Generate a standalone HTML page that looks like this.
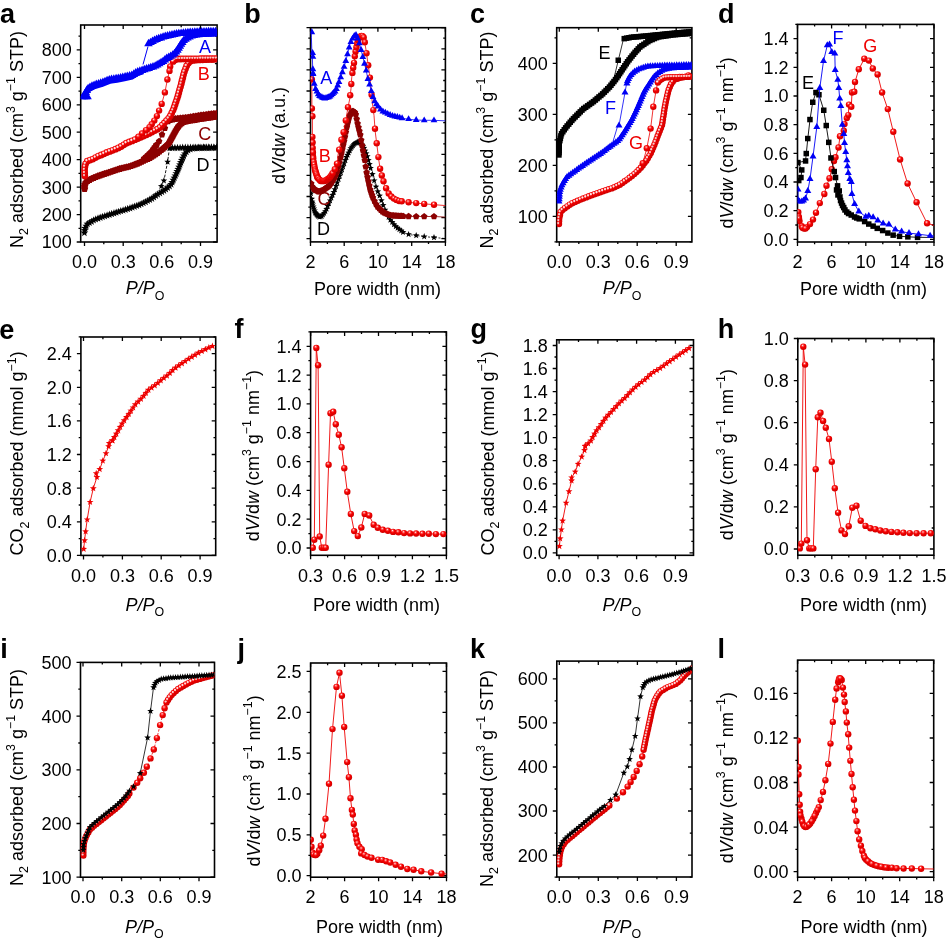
<!DOCTYPE html>
<html><head><meta charset="utf-8"><title>Figure</title>
<style>html,body{margin:0;padding:0;background:#fff;}svg{display:block;will-change:transform;}</style>
</head><body>
<svg width="946" height="942" viewBox="0 0 946 942" font-family="Liberation Sans, sans-serif" font-size="18">
<defs>
<radialGradient id="sg" cx="0.42" cy="0.36" r="0.62" fx="0.4" fy="0.3">
<stop offset="0" stop-color="#fff"/>
<stop offset="0.2" stop-color="#ff6060"/>
<stop offset="0.5" stop-color="#f40000"/>
<stop offset="1" stop-color="#d00000"/>
</radialGradient>
<clipPath id="ca"><rect x="80.7" y="25.0" width="136.4" height="217.0"/></clipPath><clipPath id="cb"><rect x="310.5" y="27.7" width="134.9" height="214.2"/></clipPath><clipPath id="cc"><rect x="556.7" y="27.7" width="135.2" height="214.2"/></clipPath><clipPath id="cd"><rect x="797.5" y="24.4" width="136.5" height="217.6"/></clipPath><clipPath id="ce"><rect x="80.9" y="337.0" width="134.8" height="218.4"/></clipPath><clipPath id="cf"><rect x="310.6" y="331.9" width="135.8" height="223.4"/></clipPath><clipPath id="cg"><rect x="556.7" y="339.8" width="136.8" height="215.5"/></clipPath><clipPath id="ch"><rect x="797.8" y="338.5" width="136.1" height="216.7"/></clipPath><clipPath id="ci"><rect x="80.5" y="662.4" width="134.0" height="214.8"/></clipPath><clipPath id="cj"><rect x="310.6" y="663.0" width="135.9" height="214.2"/></clipPath><clipPath id="ck"><rect x="556.8" y="661.1" width="135.2" height="215.9"/></clipPath><clipPath id="cl"><rect x="797.6" y="660.1" width="136.1" height="217.1"/></clipPath>
</defs>
<rect width="946" height="942" fill="#fff"/>
<path d="M84.5 242.0v4.0M84.5 25.0v4.0M123.2 242.0v4.0M123.2 25.0v4.0M161.8 242.0v4.0M161.8 25.0v4.0M200.5 242.0v4.0M200.5 25.0v4.0M103.8 242.0v2.2M103.8 25.0v2.2M142.5 242.0v2.2M142.5 25.0v2.2M181.2 242.0v2.2M181.2 25.0v2.2M80.7 242.0h-4.0M217.1 242.0h-4.0M80.7 214.6h-4.0M217.1 214.6h-4.0M80.7 187.1h-4.0M217.1 187.1h-4.0M80.7 159.7h-4.0M217.1 159.7h-4.0M80.7 132.2h-4.0M217.1 132.2h-4.0M80.7 104.8h-4.0M217.1 104.8h-4.0M80.7 77.3h-4.0M217.1 77.3h-4.0M80.7 49.9h-4.0M217.1 49.9h-4.0M80.7 228.3h-2.2M217.1 228.3h-2.2M80.7 200.8h-2.2M217.1 200.8h-2.2M80.7 173.4h-2.2M217.1 173.4h-2.2M80.7 145.9h-2.2M217.1 145.9h-2.2M80.7 118.5h-2.2M217.1 118.5h-2.2M80.7 91.1h-2.2M217.1 91.1h-2.2M80.7 63.6h-2.2M217.1 63.6h-2.2M80.7 36.2h-2.2M217.1 36.2h-2.2" stroke="#000" stroke-width="1.3" fill="none"/><rect x="80.7" y="25.0" width="136.4" height="217.0" fill="none" stroke="#000" stroke-width="1.6"/><text x="84.5" y="267.6" text-anchor="middle">0.0</text><text x="123.2" y="267.6" text-anchor="middle">0.3</text><text x="161.8" y="267.6" text-anchor="middle">0.6</text><text x="200.5" y="267.6" text-anchor="middle">0.9</text><text x="71.7" y="248.4" text-anchor="end">100</text><text x="71.7" y="221.0" text-anchor="end">200</text><text x="71.7" y="193.5" text-anchor="end">300</text><text x="71.7" y="166.1" text-anchor="end">400</text><text x="71.7" y="138.6" text-anchor="end">500</text><text x="71.7" y="111.2" text-anchor="end">600</text><text x="71.7" y="83.7" text-anchor="end">700</text><text x="71.7" y="56.3" text-anchor="end">800</text><text transform="translate(22.9,139.5) rotate(-90)" text-anchor="middle" font-size="18">N<tspan dy="5.1" font-size="12.4">2</tspan><tspan dy="-5.1"> adsorbed (cm<tspan dy="-7.6" font-size="12.4">3</tspan><tspan dy="7.6"> g<tspan dy="-7.6" font-size="12.4">−1</tspan><tspan dy="7.6"> STP)</tspan></tspan></tspan></text><text x="125.8" y="294.1" text-anchor="start" font-size="18"><tspan font-style="italic">P/P</tspan><tspan dy="5.5" font-size="12.4">O</tspan></text><text x="0.0" y="22.8" font-weight="bold" font-size="27">a</text><g clip-path="url(#ca)"><polygon points="84.4,228.8 85.4,231.5 88.3,231.6 86.0,233.4 86.8,236.2 84.4,234.6 82.0,236.2 82.8,233.4 80.5,231.6 83.4,231.5" fill="#000"/><polygon points="84.7,226.4 85.7,229.1 88.6,229.3 86.3,231.0 87.1,233.8 84.7,232.2 82.3,233.8 83.1,231.0 80.8,229.3 83.7,229.1" fill="#000"/><polygon points="85.0,224.0 86.0,226.7 88.9,226.9 86.6,228.7 87.4,231.5 85.0,229.9 82.6,231.5 83.3,228.7 81.1,226.9 84.0,226.7" fill="#000"/><polygon points="86.2,222.0 87.2,224.7 90.1,224.8 87.8,226.6 88.6,229.4 86.2,227.8 83.8,229.4 84.5,226.6 82.3,224.8 85.2,224.7" fill="#000"/><polygon points="87.4,219.9 88.4,222.6 91.3,222.7 89.0,224.5 89.8,227.3 87.4,225.7 85.0,227.3 85.8,224.5 83.5,222.7 86.4,222.6" fill="#000"/><polygon points="89.5,218.7 90.5,221.4 93.4,221.5 91.1,223.3 91.9,226.1 89.5,224.5 87.1,226.1 87.8,223.3 85.6,221.5 88.4,221.4" fill="#000"/><polygon points="91.5,217.4 92.5,220.2 95.4,220.3 93.2,222.1 93.9,224.9 91.5,223.3 89.1,224.9 89.9,222.1 87.6,220.3 90.5,220.2" fill="#000"/><polygon points="93.6,216.2 94.6,218.9 97.5,219.1 95.2,220.9 96.0,223.6 93.6,222.0 91.2,223.6 91.9,220.9 89.7,219.1 92.6,218.9" fill="#000"/><polygon points="95.7,215.2 96.7,217.9 99.6,218.0 97.4,219.8 98.1,222.6 95.7,221.0 93.3,222.6 94.1,219.8 91.8,218.0 94.7,217.9" fill="#000"/><polygon points="98.0,214.3 99.0,217.0 101.9,217.2 99.6,219.0 100.4,221.8 98.0,220.2 95.6,221.8 96.3,219.0 94.1,217.2 97.0,217.0" fill="#000"/><polygon points="100.2,213.5 101.3,216.2 104.1,216.3 101.9,218.1 102.6,220.9 100.2,219.3 97.8,220.9 98.6,218.1 96.3,216.3 99.2,216.2" fill="#000"/><polygon points="102.5,212.7 103.5,215.4 106.4,215.6 104.1,217.4 104.9,220.2 102.5,218.6 100.1,220.2 100.9,217.4 98.6,215.6 101.5,215.4" fill="#000"/><polygon points="104.8,212.0 105.8,214.7 108.7,214.8 106.4,216.6 107.2,219.4 104.8,217.8 102.4,219.4 103.2,216.6 100.9,214.8 103.8,214.7" fill="#000"/><polygon points="107.1,211.2 108.1,213.9 111.0,214.1 108.7,215.9 109.5,218.7 107.1,217.1 104.7,218.7 105.4,215.9 103.2,214.1 106.1,213.9" fill="#000"/><polygon points="109.4,210.5 110.4,213.2 113.3,213.4 111.0,215.2 111.8,218.0 109.4,216.4 107.0,218.0 107.7,215.2 105.5,213.4 108.4,213.2" fill="#000"/><polygon points="111.7,209.8 112.7,212.6 115.6,212.7 113.3,214.5 114.1,217.3 111.7,215.7 109.3,217.3 110.0,214.5 107.8,212.7 110.6,212.6" fill="#000"/><polygon points="114.0,209.1 115.0,211.9 117.9,212.0 115.6,213.8 116.4,216.6 114.0,215.0 111.5,216.6 112.3,213.8 110.1,212.0 112.9,211.9" fill="#000"/><polygon points="116.2,208.4 117.3,211.1 120.1,211.2 117.9,213.0 118.6,215.8 116.2,214.2 113.8,215.8 114.6,213.0 112.3,211.2 115.2,211.1" fill="#000"/><polygon points="118.5,207.7 119.5,210.4 122.4,210.5 120.2,212.3 120.9,215.1 118.5,213.5 116.1,215.1 116.9,212.3 114.6,210.5 117.5,210.4" fill="#000"/><polygon points="120.8,206.9 121.8,209.6 124.7,209.8 122.4,211.6 123.2,214.3 120.8,212.7 118.4,214.3 119.2,211.6 116.9,209.8 119.8,209.6" fill="#000"/><polygon points="123.1,206.3 124.1,209.0 127.0,209.1 124.7,210.9 125.5,213.7 123.1,212.1 120.7,213.7 121.5,210.9 119.2,209.1 122.1,209.0" fill="#000"/><polygon points="125.4,205.6 126.4,208.3 129.3,208.4 127.1,210.2 127.8,213.0 125.4,211.4 123.0,213.0 123.8,210.2 121.5,208.4 124.4,208.3" fill="#000"/><polygon points="127.7,204.8 128.7,207.6 131.6,207.7 129.3,209.5 130.1,212.3 127.7,210.7 125.3,212.3 126.1,209.5 123.8,207.7 126.7,207.6" fill="#000"/><polygon points="130.0,204.1 131.0,206.8 133.9,206.9 131.6,208.7 132.4,211.5 130.0,209.9 127.6,211.5 128.3,208.7 126.1,206.9 129.0,206.8" fill="#000"/><polygon points="132.2,203.3 133.2,206.0 136.1,206.1 133.9,207.9 134.6,210.7 132.2,209.1 129.8,210.7 130.6,207.9 128.3,206.1 131.2,206.0" fill="#000"/><polygon points="134.5,202.5 135.5,205.2 138.4,205.3 136.1,207.1 136.9,209.9 134.5,208.3 132.1,209.9 132.9,207.1 130.6,205.3 133.5,205.2" fill="#000"/><polygon points="136.8,201.7 137.8,204.4 140.7,204.5 138.4,206.3 139.2,209.1 136.8,207.5 134.4,209.1 135.1,206.3 132.9,204.5 135.8,204.4" fill="#000"/><polygon points="139.0,200.9 140.0,203.6 142.9,203.8 140.7,205.6 141.4,208.3 139.0,206.7 136.6,208.3 137.4,205.6 135.1,203.8 138.0,203.6" fill="#000"/><polygon points="141.2,199.9 142.2,202.6 145.1,202.7 142.9,204.5 143.6,207.3 141.2,205.7 138.8,207.3 139.6,204.5 137.3,202.7 140.2,202.6" fill="#000"/><polygon points="143.4,198.9 144.4,201.6 147.3,201.7 145.0,203.5 145.8,206.3 143.4,204.7 141.0,206.3 141.7,203.5 139.5,201.7 142.4,201.6" fill="#000"/><polygon points="145.6,197.9 146.6,200.6 149.5,200.7 147.2,202.5 148.0,205.3 145.6,203.7 143.1,205.3 143.9,202.5 141.7,200.7 144.5,200.6" fill="#000"/><polygon points="147.7,196.7 148.7,199.4 151.6,199.6 149.3,201.4 150.1,204.1 147.7,202.6 145.3,204.1 146.0,201.4 143.8,199.6 146.7,199.4" fill="#000"/><polygon points="149.8,195.6 150.8,198.3 153.7,198.4 151.4,200.2 152.2,203.0 149.8,201.4 147.4,203.0 148.1,200.2 145.9,198.4 148.8,198.3" fill="#000"/><polygon points="151.9,194.4 152.9,197.1 155.8,197.3 153.5,199.1 154.3,201.9 151.9,200.3 149.5,201.9 150.2,199.1 148.0,197.3 150.9,197.1" fill="#000"/><polygon points="153.8,193.0 154.8,195.7 157.7,195.9 155.5,197.7 156.2,200.5 153.8,198.9 151.4,200.5 152.2,197.7 149.9,195.9 152.8,195.7" fill="#000"/><polygon points="155.8,191.6 156.8,194.3 159.7,194.5 157.4,196.3 158.2,199.1 155.8,197.5 153.4,199.1 154.1,196.3 151.9,194.5 154.8,194.3" fill="#000"/><polygon points="157.7,190.2 158.7,192.9 161.6,193.1 159.4,194.9 160.1,197.7 157.7,196.1 155.3,197.7 156.1,194.9 153.8,193.1 156.7,192.9" fill="#000"/><polygon points="159.8,189.0 160.8,191.7 163.7,191.8 161.4,193.6 162.2,196.4 159.8,194.8 157.4,196.4 158.1,193.6 155.9,191.8 158.8,191.7" fill="#000"/><polygon points="161.8,187.8 162.9,190.5 165.7,190.6 163.5,192.4 164.3,195.2 161.8,193.6 159.4,195.2 160.2,192.4 157.9,190.6 160.8,190.5" fill="#000"/><polygon points="163.9,186.4 164.9,189.2 167.8,189.3 165.5,191.1 166.3,193.9 163.9,192.3 161.4,193.9 162.2,191.1 160.0,189.3 162.8,189.2" fill="#000"/><polygon points="165.8,185.1 166.8,187.8 169.7,187.9 167.4,189.7 168.2,192.5 165.8,190.9 163.4,192.5 164.2,189.7 161.9,187.9 164.8,187.8" fill="#000"/><polygon points="167.7,183.6 168.7,186.3 171.6,186.4 169.3,188.2 170.1,191.0 167.7,189.4 165.3,191.0 166.1,188.2 163.8,186.4 166.7,186.3" fill="#000"/><polygon points="169.5,182.0 170.5,184.7 173.4,184.8 171.1,186.6 171.9,189.4 169.5,187.8 167.1,189.4 167.8,186.6 165.6,184.8 168.5,184.7" fill="#000"/><polygon points="171.2,180.3 172.2,183.0 175.1,183.1 172.8,184.9 173.6,187.7 171.2,186.1 168.8,187.7 169.6,184.9 167.3,183.1 170.2,183.0" fill="#000"/><polygon points="172.2,178.2 173.2,180.9 176.1,181.0 173.9,182.8 174.6,185.6 172.2,184.0 169.8,185.6 170.6,182.8 168.3,181.0 171.2,180.9" fill="#000"/><polygon points="173.3,176.0 174.3,178.7 177.2,178.8 174.9,180.6 175.7,183.4 173.3,181.8 170.9,183.4 171.6,180.6 169.4,178.8 172.3,178.7" fill="#000"/><polygon points="174.3,173.8 175.3,176.5 178.2,176.7 176.0,178.5 176.7,181.2 174.3,179.7 171.9,181.2 172.7,178.5 170.4,176.7 173.3,176.5" fill="#000"/><polygon points="175.3,171.6 176.3,174.4 179.2,174.5 177.0,176.3 177.7,179.1 175.3,177.5 172.9,179.1 173.7,176.3 171.4,174.5 174.3,174.4" fill="#000"/><polygon points="176.3,169.5 177.3,172.2 180.2,172.3 177.9,174.1 178.7,176.9 176.3,175.3 173.9,176.9 174.7,174.1 172.4,172.3 175.3,172.2" fill="#000"/><polygon points="177.3,167.3 178.3,170.0 181.2,170.1 178.9,171.9 179.7,174.7 177.3,173.1 174.9,174.7 175.6,171.9 173.4,170.1 176.3,170.0" fill="#000"/><polygon points="178.2,165.0 179.2,167.8 182.1,167.9 179.8,169.7 180.6,172.5 178.2,170.9 175.8,172.5 176.6,169.7 174.3,167.9 177.2,167.8" fill="#000"/><polygon points="179.1,162.8 180.1,165.5 183.0,165.7 180.7,167.5 181.5,170.2 179.1,168.7 176.7,170.2 177.5,167.5 175.2,165.7 178.1,165.5" fill="#000"/><polygon points="180.0,160.6 181.0,163.3 183.9,163.4 181.6,165.2 182.4,168.0 180.0,166.4 177.6,168.0 178.4,165.2 176.1,163.4 179.0,163.3" fill="#000"/><polygon points="180.9,158.4 181.9,161.1 184.8,161.2 182.5,163.0 183.3,165.8 180.9,164.2 178.5,165.8 179.2,163.0 177.0,161.2 179.9,161.1" fill="#000"/><polygon points="181.8,156.1 182.8,158.8 185.7,159.0 183.4,160.8 184.2,163.6 181.8,162.0 179.3,163.6 180.1,160.8 177.9,159.0 180.7,158.8" fill="#000"/><polygon points="182.7,153.9 183.7,156.7 186.6,156.8 184.4,158.6 185.1,161.4 182.7,159.8 180.3,161.4 181.1,158.6 178.8,156.8 181.7,156.7" fill="#000"/><polygon points="183.8,151.8 184.8,154.5 187.7,154.6 185.5,156.4 186.2,159.2 183.8,157.6 181.4,159.2 182.2,156.4 179.9,154.6 182.8,154.5" fill="#000"/><polygon points="184.9,149.7 185.9,152.4 188.8,152.5 186.5,154.3 187.3,157.1 184.9,155.5 182.5,157.1 183.3,154.3 181.0,152.5 183.9,152.4" fill="#000"/><polygon points="186.4,147.8 187.4,150.5 190.3,150.6 188.0,152.4 188.8,155.2 186.4,153.6 184.0,155.2 184.7,152.4 182.5,150.6 185.3,150.5" fill="#000"/><polygon points="187.9,146.0 189.0,148.7 191.8,148.8 189.6,150.6 190.4,153.4 187.9,151.8 185.5,153.4 186.3,150.6 184.0,148.8 186.9,148.7" fill="#000"/><polygon points="190.2,145.1 191.2,147.8 194.1,147.9 191.8,149.7 192.6,152.5 190.2,150.9 187.8,152.5 188.5,149.7 186.3,147.9 189.2,147.8" fill="#000"/><polygon points="192.4,144.4 193.5,147.1 196.3,147.2 194.1,149.0 194.8,151.8 192.4,150.2 190.0,151.8 190.8,149.0 188.5,147.2 191.4,147.1" fill="#000"/><polygon points="194.8,144.2 195.8,146.9 198.7,147.1 196.5,148.9 197.2,151.6 194.8,150.0 192.4,151.6 193.2,148.9 190.9,147.1 193.8,146.9" fill="#000"/><polygon points="197.2,144.1 198.2,146.8 201.1,146.9 198.9,148.7 199.6,151.5 197.2,149.9 194.8,151.5 195.6,148.7 193.3,146.9 196.2,146.8" fill="#000"/><polygon points="199.6,143.9 200.6,146.6 203.5,146.8 201.3,148.6 202.0,151.3 199.6,149.7 197.2,151.3 198.0,148.6 195.7,146.8 198.6,146.6" fill="#000"/><polygon points="202.0,143.9 203.0,146.6 205.9,146.7 203.7,148.5 204.4,151.3 202.0,149.7 199.6,151.3 200.4,148.5 198.1,146.7 201.0,146.6" fill="#000"/><polygon points="204.4,143.8 205.4,146.6 208.3,146.7 206.1,148.5 206.8,151.3 204.4,149.7 202.0,151.3 202.8,148.5 200.5,146.7 203.4,146.6" fill="#000"/><polygon points="206.8,143.8 207.8,146.5 210.7,146.7 208.5,148.4 209.2,151.2 206.8,149.6 204.4,151.2 205.2,148.4 202.9,146.7 205.8,146.5" fill="#000"/><polygon points="209.2,143.8 210.2,146.5 213.1,146.6 210.9,148.4 211.6,151.2 209.2,149.6 206.8,151.2 207.6,148.4 205.3,146.6 208.2,146.5" fill="#000"/><polygon points="211.6,143.8 212.6,146.5 215.5,146.6 213.3,148.4 214.0,151.2 211.6,149.6 209.2,151.2 210.0,148.4 207.7,146.6 210.6,146.5" fill="#000"/><polygon points="214.0,143.7 215.0,146.4 217.9,146.6 215.7,148.4 216.4,151.1 214.0,149.6 211.6,151.1 212.4,148.4 210.1,146.6 213.0,146.4" fill="#000"/><polygon points="216.4,143.7 217.4,146.4 220.3,146.5 218.1,148.3 218.8,151.1 216.4,149.5 214.0,151.1 214.8,148.3 212.5,146.5 215.4,146.4" fill="#000"/><polygon points="216.5,143.2 217.5,145.9 220.4,146.0 218.1,147.8 218.9,150.6 216.5,149.0 214.1,150.6 214.9,147.8 212.6,146.0 215.5,145.9" fill="#000"/><polygon points="213.9,143.2 214.9,145.9 217.8,146.1 215.5,147.9 216.3,150.6 213.9,149.1 211.5,150.6 212.3,147.9 210.0,146.1 212.9,145.9" fill="#000"/><polygon points="211.3,143.3 212.3,146.0 215.2,146.1 212.9,147.9 213.7,150.7 211.3,149.1 208.9,150.7 209.7,147.9 207.4,146.1 210.3,146.0" fill="#000"/><polygon points="208.7,143.3 209.7,146.0 212.6,146.1 210.3,147.9 211.1,150.7 208.7,149.1 206.3,150.7 207.1,147.9 204.8,146.1 207.7,146.0" fill="#000"/><polygon points="206.1,143.3 207.1,146.0 210.0,146.2 207.7,147.9 208.5,150.7 206.1,149.1 203.7,150.7 204.5,147.9 202.2,146.2 205.1,146.0" fill="#000"/><polygon points="203.5,143.3 204.5,146.1 207.4,146.2 205.1,148.0 205.9,150.8 203.5,149.2 201.1,150.8 201.9,148.0 199.6,146.2 202.5,146.1" fill="#000"/><polygon points="200.9,143.4 201.9,146.1 204.8,146.2 202.5,148.0 203.3,150.8 200.9,149.2 198.5,150.8 199.3,148.0 197.0,146.2 199.9,146.1" fill="#000"/><polygon points="198.3,143.4 199.3,146.1 202.2,146.2 199.9,148.0 200.7,150.8 198.3,149.2 195.9,150.8 196.7,148.0 194.4,146.2 197.3,146.1" fill="#000"/><polygon points="195.7,143.4 196.7,146.1 199.6,146.3 197.3,148.1 198.1,150.9 195.7,149.3 193.3,150.9 194.1,148.1 191.8,146.3 194.7,146.1" fill="#000"/><polygon points="193.1,143.5 194.1,146.2 197.0,146.3 194.7,148.1 195.5,150.9 193.1,149.3 190.7,150.9 191.5,148.1 189.2,146.3 192.1,146.2" fill="#000"/><polygon points="190.5,143.5 191.5,146.2 194.4,146.3 192.1,148.1 192.9,150.9 190.5,149.3 188.1,150.9 188.9,148.1 186.6,146.3 189.5,146.2" fill="#000"/><polygon points="187.9,143.5 188.9,146.2 191.8,146.4 189.5,148.2 190.3,151.0 187.9,149.4 185.5,151.0 186.3,148.2 184.0,146.4 186.9,146.2" fill="#000"/><polygon points="185.3,143.6 186.3,146.3 189.2,146.4 186.9,148.2 187.7,151.0 185.3,149.4 182.9,151.0 183.7,148.2 181.4,146.4 184.3,146.3" fill="#000"/><polygon points="182.7,143.6 183.7,146.3 186.6,146.5 184.3,148.3 185.1,151.1 182.7,149.5 180.3,151.1 181.1,148.3 178.8,146.5 181.7,146.3" fill="#000"/><polygon points="180.1,143.7 181.1,146.4 184.0,146.5 181.7,148.3 182.5,151.1 180.1,149.5 177.7,151.1 178.5,148.3 176.2,146.5 179.1,146.4" fill="#000"/><polygon points="177.5,143.7 178.5,146.5 181.4,146.6 179.1,148.4 179.9,151.2 177.5,149.6 175.1,151.2 175.9,148.4 173.6,146.6 176.5,146.5" fill="#000"/><polygon points="174.9,143.8 175.9,146.5 178.8,146.6 176.5,148.4 177.3,151.2 174.9,149.6 172.5,151.2 173.3,148.4 171.0,146.6 173.9,146.5" fill="#000"/><polygon points="172.3,143.8 173.3,146.6 176.2,146.7 173.9,148.5 174.7,151.3 172.3,149.7 169.9,151.3 170.7,148.5 168.4,146.7 171.3,146.6" fill="#000"/><polygon points="169.7,143.9 170.7,146.6 173.6,146.7 171.3,148.5 172.1,151.3 169.7,149.7 167.3,151.3 168.1,148.5 165.8,146.7 168.7,146.6" fill="#000"/><path d="M169.5 148.0 L167.6 161.9 L163.9 180.7 L161.3 186.3" fill="none" stroke="#000" stroke-width="0.9" stroke-dasharray="3,1.5"/><polygon points="167.6,158.4 168.5,160.7 170.9,160.8 169.0,162.4 169.7,164.7 167.6,163.4 165.5,164.7 166.2,162.4 164.3,160.8 166.7,160.7" fill="#000"/><polygon points="163.9,177.2 164.8,179.5 167.2,179.6 165.3,181.2 166.0,183.5 163.9,182.2 161.8,183.5 162.5,181.2 160.6,179.6 163.0,179.5" fill="#000"/><polygon points="161.3,182.8 162.2,185.1 164.6,185.2 162.7,186.8 163.4,189.1 161.3,187.8 159.2,189.1 159.9,186.8 158.0,185.2 160.4,185.1" fill="#000"/><polygon points="84.6,185.2 88.2,187.8 86.8,192.1 82.4,192.1 81.0,187.8" fill="#8c0000"/><polygon points="84.5,182.9 88.2,185.5 86.8,189.8 82.3,189.8 80.9,185.5" fill="#8c0000"/><polygon points="84.8,180.7 88.4,183.3 87.0,187.6 82.6,187.6 81.2,183.3" fill="#8c0000"/><polygon points="85.9,178.7 89.6,181.3 88.2,185.6 83.7,185.6 82.3,181.3" fill="#8c0000"/><polygon points="87.5,177.1 91.1,179.8 89.8,184.0 85.3,184.0 83.9,179.8" fill="#8c0000"/><polygon points="89.5,176.0 93.1,178.6 91.8,182.9 87.3,182.9 85.9,178.6" fill="#8c0000"/><polygon points="91.5,174.9 95.2,177.5 93.8,181.8 89.3,181.8 87.9,177.5" fill="#8c0000"/><polygon points="93.7,174.1 97.3,176.7 95.9,180.9 91.4,180.9 90.1,176.7" fill="#8c0000"/><polygon points="95.8,173.2 99.4,175.8 98.0,180.1 93.6,180.1 92.2,175.8" fill="#8c0000"/><polygon points="97.9,172.3 101.6,175.0 100.2,179.2 95.7,179.2 94.3,175.0" fill="#8c0000"/><polygon points="100.1,171.6 103.7,174.2 102.3,178.4 97.9,178.4 96.5,174.2" fill="#8c0000"/><polygon points="102.3,170.8 105.9,173.5 104.5,177.7 100.1,177.7 98.7,173.5" fill="#8c0000"/><polygon points="104.5,170.1 108.1,172.7 106.7,177.0 102.2,177.0 100.9,172.7" fill="#8c0000"/><polygon points="106.7,169.4 110.3,172.0 108.9,176.3 104.4,176.3 103.0,172.0" fill="#8c0000"/><polygon points="108.8,168.7 112.5,171.3 111.1,175.5 106.6,175.5 105.2,171.3" fill="#8c0000"/><polygon points="111.0,167.9 114.6,170.6 113.3,174.8 108.8,174.8 107.4,170.6" fill="#8c0000"/><polygon points="113.2,167.2 116.8,169.8 115.4,174.1 111.0,174.1 109.6,169.8" fill="#8c0000"/><polygon points="115.4,166.5 119.0,169.1 117.6,173.3 113.2,173.3 111.8,169.1" fill="#8c0000"/><polygon points="117.6,165.7 121.2,168.4 119.8,172.6 115.3,172.6 114.0,168.4" fill="#8c0000"/><polygon points="119.7,165.0 123.4,167.6 122.0,171.9 117.5,171.9 116.1,167.6" fill="#8c0000"/><polygon points="122.0,164.4 125.6,167.0 124.2,171.3 119.7,171.3 118.4,167.0" fill="#8c0000"/><polygon points="124.2,163.9 127.8,166.5 126.4,170.8 122.0,170.8 120.6,166.5" fill="#8c0000"/><polygon points="126.4,163.4 130.1,166.0 128.7,170.3 124.2,170.3 122.8,166.0" fill="#8c0000"/><polygon points="128.7,162.9 132.3,165.5 130.9,169.7 126.5,169.7 125.1,165.5" fill="#8c0000"/><polygon points="130.9,162.3 134.5,164.9 133.1,169.1 128.7,169.1 127.3,164.9" fill="#8c0000"/><polygon points="133.1,161.5 136.7,164.1 135.3,168.3 130.8,168.3 129.4,164.1" fill="#8c0000"/><polygon points="135.2,160.6 138.8,163.3 137.4,167.5 133.0,167.5 131.6,163.3" fill="#8c0000"/><polygon points="137.4,159.8 141.0,162.5 139.6,166.7 135.1,166.7 133.7,162.5" fill="#8c0000"/><polygon points="139.5,158.9 143.1,161.5 141.7,165.7 137.2,165.7 135.8,161.5" fill="#8c0000"/><polygon points="141.5,157.9 145.1,160.5 143.8,164.8 139.3,164.8 137.9,160.5" fill="#8c0000"/><polygon points="143.6,156.9 147.2,159.5 145.8,163.8 141.4,163.8 140.0,159.5" fill="#8c0000"/><polygon points="145.7,155.9 149.3,158.6 147.9,162.8 143.5,162.8 142.1,158.6" fill="#8c0000"/><polygon points="147.8,155.0 151.4,157.6 150.0,161.9 145.6,161.9 144.2,157.6" fill="#8c0000"/><polygon points="149.9,154.0 153.5,156.7 152.1,160.9 147.6,160.9 146.3,156.7" fill="#8c0000"/><polygon points="151.9,152.9 155.5,155.5 154.1,159.7 149.6,159.7 148.2,155.5" fill="#8c0000"/><polygon points="153.8,151.6 157.4,154.2 156.0,158.5 151.5,158.5 150.2,154.2" fill="#8c0000"/><polygon points="155.7,150.3 159.3,153.0 157.9,157.2 153.5,157.2 152.1,153.0" fill="#8c0000"/><polygon points="157.6,149.1 161.2,151.7 159.8,155.9 155.4,155.9 154.0,151.7" fill="#8c0000"/><polygon points="159.5,147.7 163.1,150.3 161.7,154.6 157.2,154.6 155.9,150.3" fill="#8c0000"/><polygon points="161.3,146.2 164.9,148.9 163.5,153.1 159.0,153.1 157.6,148.9" fill="#8c0000"/><polygon points="163.0,144.8 166.7,147.4 165.3,151.7 160.8,151.7 159.4,147.4" fill="#8c0000"/><polygon points="164.8,143.3 168.4,145.9 167.0,150.2 162.5,150.2 161.2,145.9" fill="#8c0000"/><polygon points="166.5,141.7 170.1,144.4 168.7,148.6 164.2,148.6 162.8,144.4" fill="#8c0000"/><polygon points="168.2,140.3 171.8,142.9 170.5,147.1 166.0,147.1 164.6,142.9" fill="#8c0000"/><polygon points="169.6,138.4 173.2,141.1 171.8,145.3 167.3,145.3 166.0,141.1" fill="#8c0000"/><polygon points="170.7,136.4 174.3,139.0 172.9,143.3 168.4,143.3 167.0,139.0" fill="#8c0000"/><polygon points="171.7,134.4 175.3,137.0 174.0,141.3 169.5,141.3 168.1,137.0" fill="#8c0000"/><polygon points="172.8,132.4 176.4,135.0 175.1,139.2 170.6,139.2 169.2,135.0" fill="#8c0000"/><polygon points="173.9,130.3 177.5,133.0 176.1,137.2 171.7,137.2 170.3,133.0" fill="#8c0000"/><polygon points="175.0,128.3 178.6,130.9 177.2,135.2 172.8,135.2 171.4,130.9" fill="#8c0000"/><polygon points="176.1,126.3 179.7,128.9 178.3,133.2 173.9,133.2 172.5,128.9" fill="#8c0000"/><polygon points="177.3,124.3 180.9,126.9 179.5,131.2 175.0,131.2 173.7,126.9" fill="#8c0000"/><polygon points="178.7,122.5 182.3,125.1 180.9,129.4 176.4,129.4 175.0,125.1" fill="#8c0000"/><polygon points="180.2,120.7 183.8,123.4 182.4,127.6 177.9,127.6 176.5,123.4" fill="#8c0000"/><polygon points="182.0,119.3 185.6,121.9 184.2,126.2 179.7,126.2 178.3,121.9" fill="#8c0000"/><polygon points="183.9,118.3 187.6,120.9 186.2,125.1 181.7,125.1 180.3,120.9" fill="#8c0000"/><polygon points="186.2,117.7 189.8,120.3 188.4,124.6 183.9,124.6 182.6,120.3" fill="#8c0000"/><polygon points="188.4,117.1 192.0,119.8 190.6,124.0 186.2,124.0 184.8,119.8" fill="#8c0000"/><polygon points="190.7,116.7 194.3,119.4 192.9,123.6 188.4,123.6 187.1,119.4" fill="#8c0000"/><polygon points="192.9,116.4 196.5,119.0 195.2,123.2 190.7,123.2 189.3,119.0" fill="#8c0000"/><polygon points="195.2,116.0 198.8,118.6 197.4,122.9 193.0,122.9 191.6,118.6" fill="#8c0000"/><polygon points="197.5,115.6 201.1,118.2 199.7,122.5 195.2,122.5 193.9,118.2" fill="#8c0000"/><polygon points="199.7,115.2 203.4,117.8 202.0,122.1 197.5,122.1 196.1,117.8" fill="#8c0000"/><polygon points="202.0,114.9 205.6,117.5 204.2,121.7 199.8,121.7 198.4,117.5" fill="#8c0000"/><polygon points="204.3,114.5 207.9,117.2 206.5,121.4 202.1,121.4 200.7,117.2" fill="#8c0000"/><polygon points="206.6,114.2 210.2,116.8 208.8,121.1 204.3,121.1 202.9,116.8" fill="#8c0000"/><polygon points="208.8,113.8 212.5,116.5 211.1,120.7 206.6,120.7 205.2,116.5" fill="#8c0000"/><polygon points="211.1,113.5 214.7,116.1 213.3,120.4 208.9,120.4 207.5,116.1" fill="#8c0000"/><polygon points="213.4,113.2 217.0,115.8 215.6,120.0 211.2,120.0 209.8,115.8" fill="#8c0000"/><polygon points="215.7,112.8 219.3,115.5 217.9,119.7 213.4,119.7 212.0,115.5" fill="#8c0000"/><polygon points="216.5,109.7 220.1,112.3 218.7,116.6 214.3,116.6 212.9,112.3" fill="#8c0000"/><polygon points="213.9,110.0 217.5,112.6 216.2,116.9 211.7,116.9 210.3,112.6" fill="#8c0000"/><polygon points="211.3,110.3 215.0,112.9 213.6,117.2 209.1,117.2 207.7,112.9" fill="#8c0000"/><polygon points="208.8,110.6 212.4,113.3 211.0,117.5 206.5,117.5 205.1,113.3" fill="#8c0000"/><polygon points="206.2,110.9 209.8,113.6 208.4,117.8 203.9,117.8 202.6,113.6" fill="#8c0000"/><polygon points="203.6,111.2 207.2,113.9 205.8,118.1 201.4,118.1 200.0,113.9" fill="#8c0000"/><polygon points="201.0,111.6 204.6,114.2 203.2,118.4 198.8,118.4 197.4,114.2" fill="#8c0000"/><polygon points="198.4,111.9 202.1,114.6 200.7,118.8 196.2,118.8 194.8,114.6" fill="#8c0000"/><polygon points="195.9,112.4 199.5,115.0 198.1,119.2 193.6,119.2 192.3,115.0" fill="#8c0000"/><polygon points="193.3,112.8 196.9,115.4 195.5,119.7 191.1,119.7 189.7,115.4" fill="#8c0000"/><polygon points="190.7,113.2 194.4,115.9 193.0,120.1 188.5,120.1 187.1,115.9" fill="#8c0000"/><polygon points="188.2,113.7 191.8,116.3 190.4,120.5 186.0,120.5 184.6,116.3" fill="#8c0000"/><polygon points="185.6,114.0 189.2,116.6 187.8,120.8 183.4,120.8 182.0,116.6" fill="#8c0000"/><polygon points="183.0,114.2 186.6,116.9 185.3,121.1 180.8,121.1 179.4,116.9" fill="#8c0000"/><polygon points="180.4,114.5 184.0,117.1 182.7,121.4 178.2,121.4 176.8,117.1" fill="#8c0000"/><polygon points="177.8,114.8 181.5,117.4 180.1,121.7 175.6,121.7 174.2,117.4" fill="#8c0000"/><polygon points="175.3,115.1 178.9,117.7 177.5,122.0 173.0,122.0 171.7,117.7" fill="#8c0000"/><polygon points="172.7,115.5 176.3,118.2 174.9,122.4 170.5,122.4 169.1,118.2" fill="#8c0000"/><polygon points="170.1,116.0 173.8,118.6 172.4,122.9 167.9,122.9 166.5,118.6" fill="#8c0000"/><polygon points="167.9,117.3 171.6,120.0 170.2,124.2 165.7,124.2 164.3,120.0" fill="#8c0000"/><path d="M167.4 121.5 L164.9 128.3 L162.0 134.6 L159.1 141.3 L156.5 145.0" fill="none" stroke="#8c0000" stroke-width="0.8"/><polygon points="164.9,124.8 168.2,127.2 167.0,131.1 162.8,131.1 161.6,127.2" fill="#8c0000"/><polygon points="162.0,131.1 165.3,133.5 164.1,137.4 159.9,137.4 158.7,133.5" fill="#8c0000"/><polygon points="159.1,137.8 162.4,140.2 161.2,144.1 157.0,144.1 155.8,140.2" fill="#8c0000"/><polygon points="156.5,141.2 160.1,143.8 158.7,148.1 154.3,148.1 152.9,143.8" fill="#8c0000"/><polygon points="155.0,143.3 158.6,146.0 157.2,150.2 152.8,150.2 151.4,146.0" fill="#8c0000"/><polygon points="153.5,145.5 157.1,148.1 155.7,152.3 151.3,152.3 149.9,148.1" fill="#8c0000"/><polygon points="152.0,147.5 155.6,150.2 154.2,154.4 149.7,154.4 148.3,150.2" fill="#8c0000"/><polygon points="150.1,149.4 153.7,152.0 152.4,156.3 147.9,156.3 146.5,152.0" fill="#8c0000"/><polygon points="148.3,151.2 151.9,153.8 150.5,158.1 146.1,158.1 144.7,153.8" fill="#8c0000"/><polygon points="146.4,153.0 150.0,155.6 148.6,159.8 144.1,159.8 142.8,155.6" fill="#8c0000"/><polygon points="144.4,154.7 148.1,157.3 146.7,161.6 142.2,161.6 140.8,157.3" fill="#8c0000"/><circle cx="84.8" cy="176.0" r="3.4" fill="url(#sg)"/><circle cx="84.7" cy="172.9" r="3.4" fill="url(#sg)"/><circle cx="84.6" cy="169.8" r="3.4" fill="url(#sg)"/><circle cx="84.9" cy="166.7" r="3.4" fill="url(#sg)"/><circle cx="85.6" cy="163.8" r="3.4" fill="url(#sg)"/><circle cx="87.3" cy="161.2" r="3.4" fill="url(#sg)"/><circle cx="90.1" cy="160.1" r="3.4" fill="url(#sg)"/><circle cx="92.9" cy="159.1" r="3.4" fill="url(#sg)"/><circle cx="95.6" cy="157.6" r="3.4" fill="url(#sg)"/><circle cx="98.4" cy="156.1" r="3.4" fill="url(#sg)"/><circle cx="101.3" cy="155.0" r="3.4" fill="url(#sg)"/><circle cx="104.1" cy="153.8" r="3.4" fill="url(#sg)"/><circle cx="106.9" cy="152.5" r="3.4" fill="url(#sg)"/><circle cx="109.8" cy="151.4" r="3.4" fill="url(#sg)"/><circle cx="112.7" cy="150.3" r="3.4" fill="url(#sg)"/><circle cx="115.6" cy="149.2" r="3.4" fill="url(#sg)"/><circle cx="118.4" cy="147.9" r="3.4" fill="url(#sg)"/><circle cx="121.2" cy="146.5" r="3.4" fill="url(#sg)"/><circle cx="123.8" cy="144.8" r="3.4" fill="url(#sg)"/><circle cx="126.4" cy="143.2" r="3.4" fill="url(#sg)"/><circle cx="129.3" cy="142.0" r="3.4" fill="url(#sg)"/><circle cx="132.2" cy="140.9" r="3.4" fill="url(#sg)"/><circle cx="135.1" cy="139.7" r="3.4" fill="url(#sg)"/><circle cx="137.9" cy="138.5" r="3.4" fill="url(#sg)"/><circle cx="140.8" cy="137.3" r="3.4" fill="url(#sg)"/><circle cx="143.6" cy="136.1" r="3.4" fill="url(#sg)"/><circle cx="146.5" cy="134.8" r="3.4" fill="url(#sg)"/><circle cx="149.2" cy="133.4" r="3.4" fill="url(#sg)"/><circle cx="152.0" cy="132.0" r="3.4" fill="url(#sg)"/><circle cx="154.8" cy="130.6" r="3.4" fill="url(#sg)"/><circle cx="157.5" cy="129.2" r="3.4" fill="url(#sg)"/><circle cx="160.0" cy="127.4" r="3.4" fill="url(#sg)"/><circle cx="162.2" cy="125.2" r="3.4" fill="url(#sg)"/><circle cx="164.4" cy="123.0" r="3.4" fill="url(#sg)"/><circle cx="166.5" cy="120.7" r="3.4" fill="url(#sg)"/><circle cx="168.6" cy="118.4" r="3.4" fill="url(#sg)"/><circle cx="170.3" cy="115.9" r="3.4" fill="url(#sg)"/><circle cx="171.7" cy="113.1" r="3.4" fill="url(#sg)"/><circle cx="173.0" cy="110.3" r="3.4" fill="url(#sg)"/><circle cx="174.1" cy="107.4" r="3.4" fill="url(#sg)"/><circle cx="175.1" cy="104.5" r="3.4" fill="url(#sg)"/><circle cx="176.1" cy="101.6" r="3.4" fill="url(#sg)"/><circle cx="177.1" cy="98.6" r="3.4" fill="url(#sg)"/><circle cx="178.0" cy="95.7" r="3.4" fill="url(#sg)"/><circle cx="178.8" cy="92.7" r="3.4" fill="url(#sg)"/><circle cx="179.6" cy="89.7" r="3.4" fill="url(#sg)"/><circle cx="180.5" cy="86.7" r="3.4" fill="url(#sg)"/><circle cx="181.3" cy="83.7" r="3.4" fill="url(#sg)"/><circle cx="182.0" cy="80.7" r="3.4" fill="url(#sg)"/><circle cx="182.8" cy="77.7" r="3.4" fill="url(#sg)"/><circle cx="183.5" cy="74.7" r="3.4" fill="url(#sg)"/><circle cx="184.4" cy="71.7" r="3.4" fill="url(#sg)"/><circle cx="185.5" cy="68.8" r="3.4" fill="url(#sg)"/><circle cx="186.6" cy="65.9" r="3.4" fill="url(#sg)"/><circle cx="188.3" cy="63.3" r="3.4" fill="url(#sg)"/><circle cx="190.4" cy="61.3" r="3.4" fill="url(#sg)"/><circle cx="193.4" cy="60.4" r="3.4" fill="url(#sg)"/><circle cx="196.4" cy="60.0" r="3.4" fill="url(#sg)"/><circle cx="199.5" cy="59.9" r="3.4" fill="url(#sg)"/><circle cx="202.6" cy="59.8" r="3.4" fill="url(#sg)"/><circle cx="205.7" cy="59.7" r="3.4" fill="url(#sg)"/><circle cx="208.8" cy="59.6" r="3.4" fill="url(#sg)"/><circle cx="211.9" cy="59.5" r="3.4" fill="url(#sg)"/><circle cx="215.0" cy="59.4" r="3.4" fill="url(#sg)"/><g fill="#fff" fill-opacity="0.8"><circle cx="84.0" cy="175.0" r="1.1"/><circle cx="83.9" cy="171.9" r="1.1"/><circle cx="83.8" cy="168.8" r="1.1"/><circle cx="84.1" cy="165.7" r="1.1"/><circle cx="84.8" cy="162.8" r="1.1"/><circle cx="86.5" cy="160.2" r="1.1"/><circle cx="89.3" cy="159.1" r="1.1"/><circle cx="92.1" cy="158.1" r="1.1"/><circle cx="94.8" cy="156.6" r="1.1"/><circle cx="97.6" cy="155.1" r="1.1"/><circle cx="100.5" cy="154.0" r="1.1"/><circle cx="103.3" cy="152.8" r="1.1"/><circle cx="106.1" cy="151.5" r="1.1"/><circle cx="109.0" cy="150.4" r="1.1"/><circle cx="111.9" cy="149.3" r="1.1"/><circle cx="114.8" cy="148.2" r="1.1"/><circle cx="117.6" cy="146.9" r="1.1"/><circle cx="120.4" cy="145.5" r="1.1"/><circle cx="123.0" cy="143.8" r="1.1"/><circle cx="125.6" cy="142.2" r="1.1"/><circle cx="128.5" cy="141.0" r="1.1"/><circle cx="131.4" cy="139.9" r="1.1"/><circle cx="134.3" cy="138.7" r="1.1"/><circle cx="137.1" cy="137.5" r="1.1"/><circle cx="140.0" cy="136.3" r="1.1"/><circle cx="142.8" cy="135.1" r="1.1"/><circle cx="145.7" cy="133.8" r="1.1"/><circle cx="148.4" cy="132.4" r="1.1"/><circle cx="151.2" cy="131.0" r="1.1"/><circle cx="154.0" cy="129.6" r="1.1"/><circle cx="156.7" cy="128.2" r="1.1"/><circle cx="159.2" cy="126.4" r="1.1"/><circle cx="161.4" cy="124.2" r="1.1"/><circle cx="163.6" cy="122.0" r="1.1"/><circle cx="165.7" cy="119.7" r="1.1"/><circle cx="167.8" cy="117.4" r="1.1"/><circle cx="169.5" cy="114.9" r="1.1"/><circle cx="170.9" cy="112.1" r="1.1"/><circle cx="172.2" cy="109.3" r="1.1"/><circle cx="173.3" cy="106.4" r="1.1"/><circle cx="174.3" cy="103.5" r="1.1"/><circle cx="175.3" cy="100.6" r="1.1"/><circle cx="176.3" cy="97.6" r="1.1"/><circle cx="177.2" cy="94.7" r="1.1"/><circle cx="178.0" cy="91.7" r="1.1"/><circle cx="178.8" cy="88.7" r="1.1"/><circle cx="179.7" cy="85.7" r="1.1"/><circle cx="180.5" cy="82.7" r="1.1"/><circle cx="181.2" cy="79.7" r="1.1"/><circle cx="182.0" cy="76.7" r="1.1"/><circle cx="182.7" cy="73.7" r="1.1"/><circle cx="183.6" cy="70.7" r="1.1"/><circle cx="184.7" cy="67.8" r="1.1"/><circle cx="185.8" cy="64.9" r="1.1"/><circle cx="187.5" cy="62.3" r="1.1"/><circle cx="189.6" cy="60.3" r="1.1"/><circle cx="192.6" cy="59.4" r="1.1"/><circle cx="195.6" cy="59.0" r="1.1"/><circle cx="198.7" cy="58.9" r="1.1"/><circle cx="201.8" cy="58.8" r="1.1"/><circle cx="204.9" cy="58.7" r="1.1"/><circle cx="208.0" cy="58.6" r="1.1"/><circle cx="211.1" cy="58.5" r="1.1"/><circle cx="214.2" cy="58.4" r="1.1"/></g><circle cx="216.5" cy="58.6" r="3.4" fill="url(#sg)"/><circle cx="213.9" cy="58.6" r="3.4" fill="url(#sg)"/><circle cx="211.3" cy="58.6" r="3.4" fill="url(#sg)"/><circle cx="208.7" cy="58.7" r="3.4" fill="url(#sg)"/><circle cx="206.1" cy="58.7" r="3.4" fill="url(#sg)"/><circle cx="203.5" cy="58.7" r="3.4" fill="url(#sg)"/><circle cx="200.9" cy="58.7" r="3.4" fill="url(#sg)"/><circle cx="198.3" cy="58.8" r="3.4" fill="url(#sg)"/><circle cx="195.7" cy="58.8" r="3.4" fill="url(#sg)"/><circle cx="193.1" cy="58.8" r="3.4" fill="url(#sg)"/><circle cx="190.5" cy="58.8" r="3.4" fill="url(#sg)"/><circle cx="187.9" cy="58.9" r="3.4" fill="url(#sg)"/><circle cx="185.3" cy="58.9" r="3.4" fill="url(#sg)"/><circle cx="182.7" cy="58.9" r="3.4" fill="url(#sg)"/><circle cx="180.1" cy="59.0" r="3.4" fill="url(#sg)"/><circle cx="177.5" cy="59.0" r="3.4" fill="url(#sg)"/><circle cx="175.2" cy="59.7" r="3.4" fill="url(#sg)"/><circle cx="173.2" cy="61.4" r="3.4" fill="url(#sg)"/><g fill="#fff" fill-opacity="0.8"><circle cx="215.7" cy="57.6" r="1.1"/><circle cx="213.1" cy="57.6" r="1.1"/><circle cx="210.5" cy="57.6" r="1.1"/><circle cx="207.9" cy="57.7" r="1.1"/><circle cx="205.3" cy="57.7" r="1.1"/><circle cx="202.7" cy="57.7" r="1.1"/><circle cx="200.1" cy="57.7" r="1.1"/><circle cx="197.5" cy="57.8" r="1.1"/><circle cx="194.9" cy="57.8" r="1.1"/><circle cx="192.3" cy="57.8" r="1.1"/><circle cx="189.7" cy="57.8" r="1.1"/><circle cx="187.1" cy="57.9" r="1.1"/><circle cx="184.5" cy="57.9" r="1.1"/><circle cx="181.9" cy="57.9" r="1.1"/><circle cx="179.3" cy="58.0" r="1.1"/><circle cx="176.7" cy="58.0" r="1.1"/><circle cx="174.4" cy="58.7" r="1.1"/><circle cx="172.4" cy="60.4" r="1.1"/></g><path d="M173.0 61.5 L170.2 66.5 L169.5 70.9 L167.4 79.5 L164.9 92.4 L161.7 103.9 L159.1 110.6 L156.9 116.1 L154.3 120.6 L151.7 124.3 L149.5 127.2 L146.0 130.2 L142.0 133.5 L138.5 136.8" fill="none" stroke="#ee0000" stroke-width="0.8"/><circle cx="170.2" cy="66.5" r="3.2" fill="url(#sg)"/><circle cx="169.5" cy="70.9" r="3.2" fill="url(#sg)"/><circle cx="167.4" cy="79.5" r="3.2" fill="url(#sg)"/><circle cx="164.9" cy="92.4" r="3.2" fill="url(#sg)"/><circle cx="161.7" cy="103.9" r="3.2" fill="url(#sg)"/><circle cx="159.1" cy="110.6" r="3.2" fill="url(#sg)"/><circle cx="156.9" cy="116.1" r="3.2" fill="url(#sg)"/><circle cx="154.3" cy="120.6" r="3.2" fill="url(#sg)"/><circle cx="151.7" cy="124.3" r="3.2" fill="url(#sg)"/><circle cx="149.5" cy="127.2" r="3.2" fill="url(#sg)"/><circle cx="146.0" cy="130.2" r="3.2" fill="url(#sg)"/><circle cx="142.0" cy="133.5" r="3.2" fill="url(#sg)"/><circle cx="138.5" cy="136.8" r="3.2" fill="url(#sg)"/><path d="M82.5 92.7L86.2 99.2L78.8 99.2Z" fill="#0000f5"/><path d="M84.5 92.7L88.2 99.2L80.8 99.2Z" fill="#0000f5"/><path d="M86.5 92.7L90.2 99.2L82.8 99.2Z" fill="#0000f5"/><path d="M88.0 92.7L91.8 99.2L84.2 99.2Z" fill="#0000f5"/><path d="M87.4 90.7 L91.0 88.4 L94.8 86.6 L102.2 84.4 L109.6 81.4 L117.0 80.2 L124.4 78.8 L131.8 77.1 L137.5 73.6 L142.9 71.8" fill="none" stroke="#0000f5" stroke-width="5.0"/><path d="M83.5 91.5L87.8 99.0L79.2 99.0Z" fill="#0000f5"/><path d="M84.6 89.5L88.9 97.0L80.3 97.0Z" fill="#0000f5"/><path d="M85.7 87.5L90.0 95.0L81.4 95.0Z" fill="#0000f5"/><path d="M86.8 85.5L91.1 92.9L82.5 92.9Z" fill="#0000f5"/><path d="M88.1 83.7L92.4 91.1L83.8 91.1Z" fill="#0000f5"/><path d="M90.0 82.4L94.3 89.9L85.7 89.9Z" fill="#0000f5"/><path d="M92.0 81.3L96.3 88.8L87.7 88.8Z" fill="#0000f5"/><path d="M94.1 80.4L98.4 87.8L89.8 87.8Z" fill="#0000f5"/><path d="M96.3 79.6L100.6 87.0L92.0 87.0Z" fill="#0000f5"/><path d="M98.5 78.9L102.8 86.4L94.2 86.4Z" fill="#0000f5"/><path d="M100.7 78.3L105.0 85.7L96.4 85.7Z" fill="#0000f5"/><path d="M102.9 77.6L107.2 85.0L98.6 85.0Z" fill="#0000f5"/><path d="M105.0 76.7L109.3 84.1L100.7 84.1Z" fill="#0000f5"/><path d="M107.1 75.8L111.4 83.3L102.8 83.3Z" fill="#0000f5"/><path d="M109.3 75.0L113.6 82.4L105.0 82.4Z" fill="#0000f5"/><path d="M111.5 74.5L115.8 82.0L107.2 82.0Z" fill="#0000f5"/><path d="M113.8 74.2L118.1 81.6L109.5 81.6Z" fill="#0000f5"/><path d="M116.1 73.8L120.4 81.2L111.8 81.2Z" fill="#0000f5"/><path d="M118.3 73.4L122.6 80.8L114.0 80.8Z" fill="#0000f5"/><path d="M120.6 73.0L124.9 80.4L116.3 80.4Z" fill="#0000f5"/><path d="M122.8 72.5L127.1 80.0L118.5 80.0Z" fill="#0000f5"/><path d="M125.1 72.1L129.4 79.5L120.8 79.5Z" fill="#0000f5"/><path d="M127.3 71.6L131.6 79.0L123.0 79.0Z" fill="#0000f5"/><path d="M129.6 71.0L133.9 78.5L125.3 78.5Z" fill="#0000f5"/><path d="M131.8 70.5L136.1 78.0L127.5 78.0Z" fill="#0000f5"/><path d="M133.8 69.3L138.1 76.8L129.5 76.8Z" fill="#0000f5"/><path d="M135.7 68.1L140.0 75.6L131.4 75.6Z" fill="#0000f5"/><path d="M137.7 67.0L142.0 74.4L133.4 74.4Z" fill="#0000f5"/><path d="M139.9 66.2L144.2 73.7L135.6 73.7Z" fill="#0000f5"/><path d="M142.1 65.5L146.4 73.0L137.8 73.0Z" fill="#0000f5"/><path d="M144.3 64.8L148.6 72.2L140.0 72.2Z" fill="#0000f5"/><path d="M146.5 64.1L150.8 71.6L142.2 71.6Z" fill="#0000f5"/><path d="M148.7 63.4L153.0 70.9L144.4 70.9Z" fill="#0000f5"/><path d="M150.8 62.7L155.1 70.1L146.5 70.1Z" fill="#0000f5"/><path d="M153.0 61.9L157.3 69.4L148.7 69.4Z" fill="#0000f5"/><path d="M155.2 61.2L159.5 68.6L150.9 68.6Z" fill="#0000f5"/><path d="M157.2 60.0L161.5 67.5L152.9 67.5Z" fill="#0000f5"/><path d="M159.2 58.9L163.5 66.3L154.9 66.3Z" fill="#0000f5"/><path d="M161.1 57.7L165.4 65.1L156.8 65.1Z" fill="#0000f5"/><path d="M163.1 56.4L167.4 63.9L158.8 63.9Z" fill="#0000f5"/><path d="M164.9 55.0L169.2 62.5L160.6 62.5Z" fill="#0000f5"/><path d="M166.7 53.6L171.0 61.1L162.4 61.1Z" fill="#0000f5"/><path d="M168.7 52.5L173.0 60.0L164.4 60.0Z" fill="#0000f5"/><path d="M170.7 51.4L175.0 58.8L166.4 58.8Z" fill="#0000f5"/><path d="M172.7 50.2L177.0 57.6L168.4 57.6Z" fill="#0000f5"/><path d="M174.5 48.8L178.8 56.3L170.2 56.3Z" fill="#0000f5"/><path d="M176.0 47.1L180.3 54.5L171.7 54.5Z" fill="#0000f5"/><path d="M177.4 45.2L181.7 52.7L173.1 52.7Z" fill="#0000f5"/><path d="M178.6 43.3L182.9 50.7L174.3 50.7Z" fill="#0000f5"/><path d="M179.8 41.3L184.1 48.8L175.5 48.8Z" fill="#0000f5"/><path d="M181.0 39.4L185.3 46.8L176.7 46.8Z" fill="#0000f5"/><path d="M182.3 37.5L186.6 44.9L178.0 44.9Z" fill="#0000f5"/><path d="M183.7 35.7L188.0 43.1L179.4 43.1Z" fill="#0000f5"/><path d="M185.5 34.3L189.8 41.7L181.2 41.7Z" fill="#0000f5"/><path d="M187.4 32.9L191.7 40.4L183.1 40.4Z" fill="#0000f5"/><path d="M189.5 32.0L193.8 39.5L185.2 39.5Z" fill="#0000f5"/><path d="M191.6 31.2L195.9 38.6L187.3 38.6Z" fill="#0000f5"/><path d="M193.8 30.5L198.1 38.0L189.5 38.0Z" fill="#0000f5"/><path d="M196.1 30.1L200.4 37.6L191.8 37.6Z" fill="#0000f5"/><path d="M198.4 29.8L202.7 37.2L194.1 37.2Z" fill="#0000f5"/><path d="M200.7 29.5L205.0 37.0L196.4 37.0Z" fill="#0000f5"/><path d="M203.0 29.4L207.3 36.9L198.7 36.9Z" fill="#0000f5"/><path d="M205.3 29.3L209.6 36.8L201.0 36.8Z" fill="#0000f5"/><path d="M207.6 29.2L211.9 36.7L203.3 36.7Z" fill="#0000f5"/><path d="M209.8 29.1L214.1 36.6L205.5 36.6Z" fill="#0000f5"/><path d="M212.1 29.0L216.4 36.5L207.8 36.5Z" fill="#0000f5"/><path d="M214.4 28.9L218.7 36.4L210.1 36.4Z" fill="#0000f5"/><path d="M148.5 38.8L152.8 46.3L144.2 46.3Z" fill="#0000f5"/><path d="M150.5 37.7L154.8 45.1L146.2 45.1Z" fill="#0000f5"/><path d="M152.5 36.5L156.8 44.0L148.2 44.0Z" fill="#0000f5"/><path d="M154.5 35.4L158.8 42.8L150.2 42.8Z" fill="#0000f5"/><path d="M156.6 34.4L160.9 41.9L152.3 41.9Z" fill="#0000f5"/><path d="M158.7 33.7L163.0 41.1L154.4 41.1Z" fill="#0000f5"/><path d="M160.9 32.9L165.2 40.4L156.6 40.4Z" fill="#0000f5"/><path d="M163.1 32.2L167.4 39.6L158.8 39.6Z" fill="#0000f5"/><path d="M165.3 31.6L169.6 39.0L161.0 39.0Z" fill="#0000f5"/><path d="M167.5 31.0L171.8 38.5L163.2 38.5Z" fill="#0000f5"/><path d="M169.8 30.4L174.1 37.9L165.5 37.9Z" fill="#0000f5"/><path d="M172.0 30.0L176.3 37.4L167.7 37.4Z" fill="#0000f5"/><path d="M174.3 29.5L178.6 37.0L170.0 37.0Z" fill="#0000f5"/><path d="M176.5 29.1L180.8 36.5L172.2 36.5Z" fill="#0000f5"/><path d="M178.8 28.7L183.1 36.1L174.5 36.1Z" fill="#0000f5"/><path d="M181.1 28.4L185.4 35.9L176.8 35.9Z" fill="#0000f5"/><path d="M183.3 28.2L187.6 35.6L179.0 35.6Z" fill="#0000f5"/><path d="M185.6 27.9L189.9 35.3L181.3 35.3Z" fill="#0000f5"/><path d="M187.9 27.7L192.2 35.2L183.6 35.2Z" fill="#0000f5"/><path d="M190.2 27.6L194.5 35.0L185.9 35.0Z" fill="#0000f5"/><path d="M192.5 27.5L196.8 34.9L188.2 34.9Z" fill="#0000f5"/><path d="M194.8 27.3L199.1 34.8L190.5 34.8Z" fill="#0000f5"/><path d="M197.1 27.2L201.4 34.6L192.8 34.6Z" fill="#0000f5"/><path d="M199.4 27.1L203.7 34.5L195.1 34.5Z" fill="#0000f5"/><path d="M201.7 27.0L206.0 34.4L197.4 34.4Z" fill="#0000f5"/><path d="M204.0 26.9L208.3 34.4L199.7 34.4Z" fill="#0000f5"/><path d="M206.3 26.9L210.6 34.3L202.0 34.3Z" fill="#0000f5"/><path d="M208.6 26.8L212.9 34.3L204.3 34.3Z" fill="#0000f5"/><path d="M210.9 26.8L215.2 34.2L206.6 34.2Z" fill="#0000f5"/><path d="M213.2 26.7L217.5 34.2L208.9 34.2Z" fill="#0000f5"/><path d="M215.5 26.7L219.8 34.1L211.2 34.1Z" fill="#0000f5"/><path d="M148.0 46.5 L143.0 64.5" fill="none" stroke="#0000f5" stroke-width="1.0"/></g><text x="199.0" y="52.6" fill="#0000f5" font-size="18">A</text><text x="197.7" y="79.8" fill="#ee0000" font-size="18">B</text><text x="198.2" y="139.6" fill="#8c0000" font-size="18">C</text><text x="196.6" y="171.2" fill="#000" font-size="18">D</text><path d="M310.5 241.9v4.0M310.5 27.7v4.0M344.2 241.9v4.0M344.2 27.7v4.0M377.9 241.9v4.0M377.9 27.7v4.0M411.7 241.9v4.0M411.7 27.7v4.0M445.4 241.9v4.0M445.4 27.7v4.0M327.4 241.9v2.2M327.4 27.7v2.2M361.1 241.9v2.2M361.1 27.7v2.2M394.8 241.9v2.2M394.8 27.7v2.2M428.5 241.9v2.2M428.5 27.7v2.2M310.5 27.7h-4.0M445.4 27.7h-4.0M310.5 48.8h-4.0M445.4 48.8h-4.0M310.5 69.9h-4.0M445.4 69.9h-4.0M310.5 91.0h-4.0M445.4 91.0h-4.0M310.5 112.1h-4.0M445.4 112.1h-4.0M310.5 133.2h-4.0M445.4 133.2h-4.0M310.5 154.3h-4.0M445.4 154.3h-4.0M310.5 175.4h-4.0M445.4 175.4h-4.0M310.5 196.5h-4.0M445.4 196.5h-4.0M310.5 217.6h-4.0M445.4 217.6h-4.0M310.5 238.7h-4.0M445.4 238.7h-4.0M310.5 38.2h-2.2M445.4 38.2h-2.2M310.5 59.4h-2.2M445.4 59.4h-2.2M310.5 80.5h-2.2M445.4 80.5h-2.2M310.5 101.6h-2.2M445.4 101.6h-2.2M310.5 122.7h-2.2M445.4 122.7h-2.2M310.5 143.8h-2.2M445.4 143.8h-2.2M310.5 164.8h-2.2M445.4 164.8h-2.2M310.5 185.9h-2.2M445.4 185.9h-2.2M310.5 207.1h-2.2M445.4 207.1h-2.2M310.5 228.2h-2.2M445.4 228.2h-2.2" stroke="#000" stroke-width="1.3" fill="none"/><rect x="310.5" y="27.7" width="134.9" height="214.2" fill="none" stroke="#000" stroke-width="1.6"/><text x="310.5" y="267.5" text-anchor="middle">2</text><text x="344.2" y="267.5" text-anchor="middle">6</text><text x="377.9" y="267.5" text-anchor="middle">10</text><text x="411.7" y="267.5" text-anchor="middle">14</text><text x="445.4" y="267.5" text-anchor="middle">18</text><text transform="translate(284.5,135.5) rotate(-90)" text-anchor="middle" font-size="18">d<tspan font-style="italic">V</tspan>/d<tspan font-style="italic">w</tspan> (a.u.)</text><text x="377.5" y="294.5" text-anchor="middle" font-size="18">Pore width (nm)</text><text x="244.3" y="22.8" font-weight="bold" font-size="27">b</text><g clip-path="url(#cb)"><path d="M311.1 197.0 L312.7 204.7 L315.0 212.4 L318.8 217.0 L321.9 216.2 L325.7 210.8 L330.3 200.1 L334.9 189.4 L338.7 178.6 L342.6 167.9 L346.4 157.2 L351.0 148.0 L354.8 143.4 L357.9 141.9 L361.0 143.4 L364.0 148.0 L367.1 155.7 L370.1 166.4 L373.2 177.1 L376.3 187.8 L380.1 197.0 L384.7 209.3 L389.3 218.5 L395.4 226.2 L403.1 232.3 L409.2 234.6 L415.4 235.4 L423.8 236.6 L433.0 237.4 L443.7 238.4 L446.0 238.6" fill="none" stroke="#000" stroke-width="0.8" stroke-dasharray="2,1.5"/><polygon points="311.0,190.0 311.9,192.3 314.3,192.4 312.4,194.0 313.1,196.3 311.0,195.0 308.9,196.3 309.6,194.0 307.7,192.4 310.1,192.3" fill="#000"/><polygon points="311.4,195.5 312.3,197.8 314.7,197.9 312.8,199.5 313.5,201.8 311.4,200.5 309.3,201.8 310.0,199.5 308.1,197.9 310.5,197.8" fill="#000"/><polygon points="312.2,199.5 313.1,201.8 315.5,201.9 313.6,203.5 314.3,205.8 312.2,204.5 310.1,205.8 310.8,203.5 308.9,201.9 311.3,201.8" fill="#000"/><polygon points="311.5,195.4 312.4,197.7 314.8,197.8 312.9,199.4 313.6,201.8 311.5,200.4 309.4,201.8 310.1,199.4 308.2,197.8 310.6,197.7" fill="#000"/><polygon points="312.1,198.3 313.0,200.6 315.4,200.7 313.5,202.3 314.2,204.6 312.1,203.3 310.0,204.6 310.7,202.3 308.8,200.7 311.2,200.6" fill="#000"/><polygon points="312.7,201.2 313.6,203.5 316.0,203.6 314.1,205.2 314.8,207.5 312.7,206.2 310.6,207.5 311.3,205.2 309.4,203.6 311.8,203.5" fill="#000"/><polygon points="313.3,203.2 314.2,205.5 316.6,205.6 314.7,207.2 315.4,209.5 313.3,208.2 311.2,209.5 311.9,207.2 310.0,205.6 312.4,205.5" fill="#000"/><polygon points="313.9,205.2 314.8,207.5 317.2,207.6 315.3,209.2 316.0,211.5 313.9,210.2 311.8,211.5 312.5,209.2 310.6,207.6 313.0,207.5" fill="#000"/><polygon points="314.5,207.2 315.4,209.5 317.8,209.6 315.9,211.2 316.6,213.6 314.5,212.2 312.4,213.6 313.1,211.2 311.2,209.6 313.6,209.5" fill="#000"/><polygon points="315.1,209.0 316.0,211.3 318.4,211.4 316.5,213.0 317.2,215.4 315.1,214.0 313.0,215.4 313.7,213.0 311.8,211.4 314.2,211.3" fill="#000"/><polygon points="315.7,209.7 316.6,212.1 319.0,212.2 317.1,213.7 317.8,216.1 315.7,214.7 313.6,216.1 314.3,213.7 312.4,212.2 314.8,212.1" fill="#000"/><polygon points="316.3,210.5 317.2,212.8 319.6,212.9 317.7,214.4 318.4,216.8 316.3,215.4 314.2,216.8 314.9,214.4 313.0,212.9 315.4,212.8" fill="#000"/><polygon points="316.9,211.2 317.8,213.5 320.2,213.6 318.3,215.2 319.0,217.5 316.9,216.2 314.8,217.5 315.5,215.2 313.6,213.6 316.0,213.5" fill="#000"/><polygon points="317.5,211.9 318.4,214.2 320.8,214.3 318.9,215.9 319.6,218.3 317.5,216.9 315.4,218.3 316.1,215.9 314.2,214.3 316.6,214.2" fill="#000"/><polygon points="318.1,212.7 319.0,215.0 321.4,215.1 319.5,216.6 320.2,219.0 318.1,217.6 316.0,219.0 316.7,216.6 314.8,215.1 317.2,215.0" fill="#000"/><polygon points="319.3,213.4 320.2,215.7 322.6,215.8 320.7,217.3 321.4,219.7 319.3,218.3 317.2,219.7 317.9,217.3 316.0,215.8 318.4,215.7" fill="#000"/><polygon points="320.5,213.1 321.4,215.4 323.8,215.5 321.9,217.0 322.6,219.4 320.5,218.0 318.4,219.4 319.1,217.0 317.2,215.5 319.6,215.4" fill="#000"/><polygon points="321.7,212.8 322.6,215.1 325.0,215.2 323.1,216.7 323.8,219.1 321.7,217.7 319.6,219.1 320.3,216.7 318.4,215.2 320.8,215.1" fill="#000"/><polygon points="322.9,211.3 323.8,213.6 326.2,213.7 324.3,215.2 325.0,217.6 322.9,216.2 320.8,217.6 321.5,215.2 319.6,213.7 322.0,213.6" fill="#000"/><polygon points="324.1,209.6 325.0,211.9 327.4,212.0 325.5,213.5 326.2,215.9 324.1,214.5 322.0,215.9 322.7,213.5 320.8,212.0 323.2,211.9" fill="#000"/><polygon points="325.3,207.9 326.2,210.2 328.6,210.3 326.7,211.8 327.4,214.2 325.3,212.8 323.2,214.2 323.9,211.8 322.0,210.3 324.4,210.2" fill="#000"/><polygon points="326.5,205.4 327.4,207.7 329.8,207.9 327.9,209.4 328.6,211.8 326.5,210.4 324.4,211.8 325.1,209.4 323.2,207.9 325.6,207.7" fill="#000"/><polygon points="327.7,202.6 328.6,205.0 331.0,205.1 329.1,206.6 329.8,209.0 327.7,207.6 325.6,209.0 326.3,206.6 324.4,205.1 326.8,205.0" fill="#000"/><polygon points="328.9,199.9 329.8,202.2 332.2,202.3 330.3,203.8 331.0,206.2 328.9,204.8 326.8,206.2 327.5,203.8 325.6,202.3 328.0,202.2" fill="#000"/><polygon points="330.1,197.1 331.0,199.4 333.4,199.5 331.5,201.0 332.2,203.4 330.1,202.0 328.0,203.4 328.7,201.0 326.8,199.5 329.2,199.4" fill="#000"/><polygon points="331.3,194.3 332.2,196.6 334.6,196.7 332.7,198.2 333.4,200.6 331.3,199.2 329.2,200.6 329.9,198.2 328.0,196.7 330.4,196.6" fill="#000"/><polygon points="332.5,191.5 333.4,193.8 335.8,193.9 333.9,195.4 334.6,197.8 332.5,196.5 330.4,197.8 331.1,195.4 329.2,193.9 331.6,193.8" fill="#000"/><polygon points="333.7,188.7 334.6,191.0 337.0,191.1 335.1,192.6 335.8,195.0 333.7,193.7 331.6,195.0 332.3,192.6 330.4,191.1 332.8,191.0" fill="#000"/><polygon points="334.9,185.9 335.8,188.2 338.2,188.3 336.3,189.9 337.0,192.2 334.9,190.9 332.8,192.2 333.5,189.9 331.6,188.3 334.0,188.2" fill="#000"/><polygon points="336.1,182.5 337.0,184.8 339.4,184.9 337.5,186.4 338.2,188.8 336.1,187.5 334.0,188.8 334.7,186.4 332.8,184.9 335.2,184.8" fill="#000"/><polygon points="337.3,179.1 338.2,181.4 340.6,181.5 338.7,183.0 339.4,185.4 337.3,184.0 335.2,185.4 335.9,183.0 334.0,181.5 336.4,181.4" fill="#000"/><polygon points="338.5,175.7 339.4,178.0 341.8,178.1 339.9,179.6 340.6,182.0 338.5,180.6 336.4,182.0 337.1,179.6 335.2,178.1 337.6,178.0" fill="#000"/><polygon points="339.7,172.4 340.6,174.7 343.0,174.8 341.1,176.3 341.8,178.7 339.7,177.3 337.6,178.7 338.3,176.3 336.4,174.8 338.8,174.7" fill="#000"/><polygon points="340.9,169.1 341.8,171.4 344.2,171.5 342.3,173.0 343.0,175.4 340.9,174.0 338.8,175.4 339.5,173.0 337.6,171.5 340.0,171.4" fill="#000"/><polygon points="342.0,166.0 342.9,168.4 345.3,168.5 343.4,170.0 344.1,172.4 342.0,171.0 339.9,172.4 340.6,170.0 338.7,168.5 341.1,168.4" fill="#000"/><polygon points="343.1,163.0 344.0,165.3 346.4,165.4 344.5,166.9 345.2,169.3 343.1,168.0 341.0,169.3 341.7,166.9 339.8,165.4 342.2,165.3" fill="#000"/><polygon points="344.2,159.9 345.1,162.2 347.5,162.3 345.6,163.8 346.3,166.2 344.2,164.9 342.1,166.2 342.8,163.8 340.9,162.3 343.3,162.2" fill="#000"/><polygon points="345.3,156.8 346.2,159.1 348.6,159.2 346.7,160.8 347.4,163.1 345.3,161.8 343.2,163.1 343.9,160.8 342.0,159.2 344.4,159.1" fill="#000"/><polygon points="346.4,153.7 347.3,156.0 349.7,156.1 347.8,157.7 348.5,160.0 346.4,158.7 344.3,160.0 345.0,157.7 343.1,156.1 345.5,156.0" fill="#000"/><polygon points="347.5,151.5 348.4,153.8 350.8,153.9 348.9,155.5 349.6,157.8 347.5,156.5 345.4,157.8 346.1,155.5 344.2,153.9 346.6,153.8" fill="#000"/><polygon points="348.6,149.3 349.5,151.6 351.9,151.7 350.0,153.3 350.7,155.6 348.6,154.3 346.5,155.6 347.2,153.3 345.3,151.7 347.7,151.6" fill="#000"/><polygon points="349.7,147.1 350.6,149.4 353.0,149.5 351.1,151.1 351.8,153.4 349.7,152.1 347.6,153.4 348.3,151.1 346.4,149.5 348.8,149.4" fill="#000"/><polygon points="350.8,144.9 351.7,147.2 354.1,147.3 352.2,148.9 352.9,151.2 350.8,149.9 348.7,151.2 349.4,148.9 347.5,147.3 349.9,147.2" fill="#000"/><polygon points="351.9,143.4 352.8,145.7 355.2,145.8 353.3,147.4 354.0,149.7 351.9,148.4 349.8,149.7 350.5,147.4 348.6,145.8 351.0,145.7" fill="#000"/><polygon points="353.0,142.1 353.9,144.4 356.3,144.5 354.4,146.0 355.1,148.4 353.0,147.0 350.9,148.4 351.6,146.0 349.7,144.5 352.1,144.4" fill="#000"/><polygon points="354.1,140.7 355.0,143.1 357.4,143.2 355.5,144.7 356.2,147.1 354.1,145.7 352.0,147.1 352.7,144.7 350.8,143.2 353.2,143.1" fill="#000"/><polygon points="355.2,139.7 356.1,142.0 358.5,142.1 356.6,143.7 357.3,146.0 355.2,144.7 353.1,146.0 353.8,143.7 351.9,142.1 354.3,142.0" fill="#000"/><polygon points="356.3,139.2 357.2,141.5 359.6,141.6 357.7,143.1 358.4,145.5 356.3,144.1 354.2,145.5 354.9,143.1 353.0,141.6 355.4,141.5" fill="#000"/><polygon points="357.4,138.6 358.3,141.0 360.7,141.1 358.8,142.6 359.5,145.0 357.4,143.6 355.3,145.0 356.0,142.6 354.1,141.1 356.5,141.0" fill="#000"/><polygon points="358.5,138.7 359.4,141.0 361.8,141.1 359.9,142.6 360.6,145.0 358.5,143.7 356.4,145.0 357.1,142.6 355.2,141.1 357.6,141.0" fill="#000"/><polygon points="359.6,139.2 360.5,141.5 362.9,141.6 361.0,143.2 361.7,145.6 359.6,144.2 357.5,145.6 358.2,143.2 356.3,141.6 358.7,141.5" fill="#000"/><polygon points="360.7,139.8 361.6,142.1 364.0,142.2 362.1,143.7 362.8,146.1 360.7,144.7 358.6,146.1 359.3,143.7 357.4,142.2 359.8,142.1" fill="#000"/><polygon points="361.8,141.1 362.7,143.4 365.1,143.5 363.2,145.1 363.9,147.5 361.8,146.1 359.7,147.5 360.4,145.1 358.5,143.5 360.9,143.4" fill="#000"/><polygon points="362.9,142.8 363.8,145.1 366.2,145.2 364.3,146.8 365.0,149.1 362.9,147.8 360.8,149.1 361.5,146.8 359.6,145.2 362.0,145.1" fill="#000"/><polygon points="364.0,144.5 364.9,146.8 367.3,146.9 365.4,148.5 366.1,150.8 364.0,149.5 361.9,150.8 362.6,148.5 360.7,146.9 363.1,146.8" fill="#000"/><polygon points="365.1,147.2 366.0,149.5 368.4,149.7 366.5,151.2 367.2,153.6 365.1,152.2 363.0,153.6 363.7,151.2 361.8,149.7 364.2,149.5" fill="#000"/><polygon points="366.2,150.0 367.1,152.3 369.5,152.4 367.6,153.9 368.3,156.3 366.2,154.9 364.1,156.3 364.8,153.9 362.9,152.4 365.3,152.3" fill="#000"/><polygon points="367.3,152.9 368.2,155.2 370.6,155.3 368.7,156.9 369.4,159.2 367.3,157.9 365.2,159.2 365.9,156.9 364.0,155.3 366.4,155.2" fill="#000"/><polygon points="368.4,156.8 369.3,159.1 371.7,159.3 369.8,160.8 370.5,163.2 368.4,161.8 366.3,163.2 367.0,160.8 365.1,159.3 367.5,159.1" fill="#000"/><polygon points="369.5,160.8 370.4,163.1 372.8,163.2 370.9,164.7 371.6,167.1 369.5,165.7 367.4,167.1 368.1,164.7 366.2,163.2 368.6,163.1" fill="#000"/><polygon points="370.6,164.6 371.5,166.9 373.9,167.0 372.0,168.6 372.7,171.0 370.6,169.6 368.5,171.0 369.2,168.6 367.3,167.0 369.7,166.9" fill="#000"/><polygon points="372.4,170.8 373.3,173.1 375.7,173.3 373.8,174.8 374.5,177.2 372.4,175.8 370.3,177.2 371.0,174.8 369.1,173.3 371.5,173.1" fill="#000"/><polygon points="374.2,177.1 375.1,179.4 377.5,179.5 375.6,181.0 376.3,183.4 374.2,182.0 372.1,183.4 372.8,181.0 370.9,179.5 373.3,179.4" fill="#000"/><polygon points="376.0,183.3 376.9,185.6 379.3,185.7 377.4,187.2 378.1,189.6 376.0,188.2 373.9,189.6 374.6,187.2 372.7,185.7 375.1,185.6" fill="#000"/><polygon points="377.8,187.9 378.7,190.2 381.1,190.4 379.2,191.9 379.9,194.3 377.8,192.9 375.7,194.3 376.4,191.9 374.5,190.4 376.9,190.2" fill="#000"/><polygon points="379.6,192.3 380.5,194.6 382.9,194.7 381.0,196.2 381.7,198.6 379.6,197.3 377.5,198.6 378.2,196.2 376.3,194.7 378.7,194.6" fill="#000"/><polygon points="381.4,197.0 382.3,199.3 384.7,199.4 382.8,200.9 383.5,203.3 381.4,201.9 379.3,203.3 380.0,200.9 378.1,199.4 380.5,199.3" fill="#000"/><polygon points="383.2,201.8 384.1,204.1 386.5,204.2 384.6,205.7 385.3,208.1 383.2,206.8 381.1,208.1 381.8,205.7 379.9,204.2 382.3,204.1" fill="#000"/><polygon points="385.0,206.4 385.9,208.7 388.3,208.8 386.4,210.4 387.1,212.7 385.0,211.4 382.9,212.7 383.6,210.4 381.7,208.8 384.1,208.7" fill="#000"/><polygon points="386.8,210.0 387.7,212.3 390.1,212.4 388.2,214.0 388.9,216.3 386.8,215.0 384.7,216.3 385.4,214.0 383.5,212.4 385.9,212.3" fill="#000"/><polygon points="388.6,213.6 389.5,215.9 391.9,216.0 390.0,217.6 390.7,219.9 388.6,218.6 386.5,219.9 387.2,217.6 385.3,216.0 387.7,215.9" fill="#000"/><polygon points="390.4,216.4 391.3,218.7 393.7,218.8 391.8,220.3 392.5,222.7 390.4,221.4 388.3,222.7 389.0,220.3 387.1,218.8 389.5,218.7" fill="#000"/><polygon points="392.2,218.7 393.1,221.0 395.5,221.1 393.6,222.6 394.3,225.0 392.2,223.6 390.1,225.0 390.8,222.6 388.9,221.1 391.3,221.0" fill="#000"/><polygon points="394.0,220.9 394.9,223.2 397.3,223.4 395.4,224.9 396.1,227.3 394.0,225.9 391.9,227.3 392.6,224.9 390.7,223.4 393.1,223.2" fill="#000"/><polygon points="395.8,223.0 396.7,225.3 399.1,225.4 397.2,227.0 397.9,229.3 395.8,228.0 393.7,229.3 394.4,227.0 392.5,225.4 394.9,225.3" fill="#000"/><polygon points="397.6,224.4 398.5,226.8 400.9,226.9 399.0,228.4 399.7,230.8 397.6,229.4 395.5,230.8 396.2,228.4 394.3,226.9 396.7,226.8" fill="#000"/><polygon points="399.4,225.9 400.3,228.2 402.7,228.3 400.8,229.8 401.5,232.2 399.4,230.8 397.3,232.2 398.0,229.8 396.1,228.3 398.5,228.2" fill="#000"/><polygon points="401.2,227.3 402.1,229.6 404.5,229.7 402.6,231.2 403.3,233.6 401.2,232.3 399.1,233.6 399.8,231.2 397.9,229.7 400.3,229.6" fill="#000"/><polygon points="403.0,228.7 403.9,231.0 406.3,231.1 404.4,232.7 405.1,235.1 403.0,233.7 400.9,235.1 401.6,232.7 399.7,231.1 402.1,231.0" fill="#000"/><polygon points="408.6,230.9 409.5,233.2 411.9,233.3 410.0,234.8 410.7,237.2 408.6,235.8 406.5,237.2 407.2,234.8 405.3,233.3 407.7,233.2" fill="#000"/><polygon points="416.2,232.0 417.1,234.3 419.5,234.4 417.6,236.0 418.3,238.3 416.2,237.0 414.1,238.3 414.8,236.0 412.9,234.4 415.3,234.3" fill="#000"/><polygon points="424.2,233.1 425.1,235.4 427.5,235.6 425.6,237.1 426.3,239.5 424.2,238.1 422.1,239.5 422.8,237.1 420.9,235.6 423.3,235.4" fill="#000"/><polygon points="434.0,234.0 434.9,236.3 437.3,236.4 435.4,237.9 436.1,240.3 434.0,239.0 431.9,240.3 432.6,237.9 430.7,236.4 433.1,236.3" fill="#000"/><path d="M311.9 186.3 L314.2 189.4 L318.8 191.7 L323.4 190.1 L329.5 185.5 L334.9 177.1 L337.2 171.0 L340.3 158.7 L342.6 148.0 L344.9 137.3 L347.2 125.0 L349.5 116.0 L352.5 110.8 L355.5 113.0 L357.9 125.0 L360.2 134.2 L362.5 148.0 L364.8 160.3 L366.3 171.0 L367.8 178.6 L370.1 189.4 L373.2 198.6 L377.0 206.2 L383.2 212.4 L390.8 215.4 L403.1 216.2 L415.4 216.5 L424.6 216.5 L433.8 216.5 L444.5 217.0 L446.0 217.0" fill="none" stroke="#8c0000" stroke-width="0.8"/><polygon points="311.2,180.0 314.5,182.4 313.3,186.3 309.1,186.3 307.9,182.4" fill="#8c0000"/><polygon points="312.0,183.0 315.3,185.4 314.1,189.3 309.9,189.3 308.7,185.4" fill="#8c0000"/><polygon points="313.0,184.3 316.3,186.7 315.1,190.6 310.9,190.6 309.7,186.7" fill="#8c0000"/><polygon points="314.1,185.8 317.4,188.2 316.2,192.1 312.0,192.1 310.8,188.2" fill="#8c0000"/><polygon points="315.2,186.4 318.5,188.8 317.3,192.7 313.1,192.7 311.9,188.8" fill="#8c0000"/><polygon points="316.3,187.0 319.6,189.4 318.4,193.3 314.2,193.3 313.0,189.4" fill="#8c0000"/><polygon points="317.4,187.5 320.7,189.9 319.5,193.8 315.3,193.8 314.1,189.9" fill="#8c0000"/><polygon points="318.5,188.1 321.8,190.5 320.6,194.4 316.4,194.4 315.2,190.5" fill="#8c0000"/><polygon points="319.6,187.9 322.9,190.3 321.7,194.3 317.5,194.3 316.3,190.3" fill="#8c0000"/><polygon points="320.7,187.5 324.0,190.0 322.8,193.9 318.6,193.9 317.4,190.0" fill="#8c0000"/><polygon points="321.8,187.2 325.1,189.6 323.9,193.5 319.7,193.5 318.5,189.6" fill="#8c0000"/><polygon points="322.9,186.8 326.2,189.2 325.0,193.1 320.8,193.1 319.6,189.2" fill="#8c0000"/><polygon points="324.0,186.1 327.3,188.6 326.1,192.5 321.9,192.5 320.7,188.6" fill="#8c0000"/><polygon points="325.1,185.3 328.4,187.7 327.2,191.6 323.0,191.6 321.8,187.7" fill="#8c0000"/><polygon points="326.2,184.5 329.5,186.9 328.3,190.8 324.1,190.8 322.9,186.9" fill="#8c0000"/><polygon points="327.3,183.7 330.6,186.1 329.4,190.0 325.2,190.0 324.0,186.1" fill="#8c0000"/><polygon points="328.4,182.8 331.7,185.2 330.5,189.2 326.3,189.2 325.1,185.2" fill="#8c0000"/><polygon points="329.5,182.0 332.8,184.4 331.6,188.3 327.4,188.3 326.2,184.4" fill="#8c0000"/><polygon points="330.6,180.3 333.9,182.7 332.7,186.6 328.5,186.6 327.3,182.7" fill="#8c0000"/><polygon points="331.7,178.6 335.0,181.0 333.8,184.9 329.6,184.9 328.4,181.0" fill="#8c0000"/><polygon points="332.8,176.9 336.1,179.3 334.9,183.2 330.7,183.2 329.5,179.3" fill="#8c0000"/><polygon points="333.9,175.2 337.2,177.6 336.0,181.5 331.8,181.5 330.6,177.6" fill="#8c0000"/><polygon points="335.0,173.3 338.3,175.8 337.1,179.7 332.9,179.7 331.7,175.8" fill="#8c0000"/><polygon points="336.1,170.4 339.4,172.8 338.2,176.7 334.0,176.7 332.8,172.8" fill="#8c0000"/><polygon points="337.2,167.5 340.5,169.9 339.3,173.8 335.1,173.8 333.9,169.9" fill="#8c0000"/><polygon points="338.3,163.1 341.6,165.6 340.4,169.5 336.2,169.5 335.0,165.6" fill="#8c0000"/><polygon points="339.4,158.8 342.7,161.2 341.5,165.1 337.3,165.1 336.1,161.2" fill="#8c0000"/><polygon points="340.5,154.3 343.8,156.7 342.6,160.6 338.4,160.6 337.2,156.7" fill="#8c0000"/><polygon points="341.4,150.1 344.7,152.5 343.5,156.4 339.3,156.4 338.1,152.5" fill="#8c0000"/><polygon points="342.3,145.9 345.6,148.3 344.4,152.2 340.2,152.2 339.0,148.3" fill="#8c0000"/><polygon points="343.2,141.7 346.5,144.1 345.3,148.0 341.1,148.0 339.9,144.1" fill="#8c0000"/><polygon points="344.1,137.5 347.4,139.9 346.2,143.9 342.0,143.9 340.8,139.9" fill="#8c0000"/><polygon points="345.0,133.3 348.3,135.7 347.1,139.6 342.9,139.6 341.7,135.7" fill="#8c0000"/><polygon points="345.9,128.5 349.2,130.9 348.0,134.8 343.8,134.8 342.6,130.9" fill="#8c0000"/><polygon points="346.8,123.6 350.1,126.1 348.9,130.0 344.7,130.0 343.5,126.1" fill="#8c0000"/><polygon points="347.7,119.5 351.0,122.0 349.8,125.9 345.6,125.9 344.4,122.0" fill="#8c0000"/><polygon points="348.6,116.0 351.9,118.4 350.7,122.4 346.5,122.4 345.3,118.4" fill="#8c0000"/><polygon points="349.5,112.5 352.8,114.9 351.6,118.8 347.4,118.8 346.2,114.9" fill="#8c0000"/><polygon points="350.4,110.9 353.7,113.4 352.5,117.3 348.3,117.3 347.1,113.4" fill="#8c0000"/><polygon points="351.3,109.4 354.6,111.8 353.4,115.7 349.2,115.7 348.0,111.8" fill="#8c0000"/><polygon points="352.2,107.8 355.5,110.2 354.3,114.2 350.1,114.2 348.9,110.2" fill="#8c0000"/><polygon points="353.1,107.7 356.4,110.2 355.2,114.1 351.0,114.1 349.8,110.2" fill="#8c0000"/><polygon points="354.0,108.4 357.3,110.8 356.1,114.7 351.9,114.7 350.7,110.8" fill="#8c0000"/><polygon points="354.9,109.1 358.2,111.5 357.0,115.4 352.8,115.4 351.6,111.5" fill="#8c0000"/><polygon points="355.8,111.0 359.1,113.4 357.9,117.3 353.7,117.3 352.5,113.4" fill="#8c0000"/><polygon points="356.7,115.5 360.0,117.9 358.8,121.8 354.6,121.8 353.4,117.9" fill="#8c0000"/><polygon points="357.6,120.0 360.9,122.4 359.7,126.3 355.5,126.3 354.3,122.4" fill="#8c0000"/><polygon points="358.5,123.9 361.8,126.3 360.6,130.2 356.4,130.2 355.2,126.3" fill="#8c0000"/><polygon points="359.4,127.5 362.7,129.9 361.5,133.8 357.3,133.8 356.1,129.9" fill="#8c0000"/><polygon points="360.3,131.3 363.6,133.7 362.4,137.6 358.2,137.6 357.0,133.7" fill="#8c0000"/><polygon points="361.2,136.7 364.5,139.1 363.3,143.0 359.1,143.0 357.9,139.1" fill="#8c0000"/><polygon points="362.1,142.1 365.4,144.5 364.2,148.4 360.0,148.4 358.8,144.5" fill="#8c0000"/><polygon points="363.0,147.2 366.3,149.6 365.1,153.5 360.9,153.5 359.7,149.6" fill="#8c0000"/><polygon points="363.9,152.0 367.2,154.4 366.0,158.3 361.8,158.3 360.6,154.4" fill="#8c0000"/><polygon points="364.8,156.8 368.1,159.2 366.9,163.1 362.7,163.1 361.5,159.2" fill="#8c0000"/><polygon points="365.7,163.2 369.0,165.6 367.8,169.6 363.6,169.6 362.4,165.6" fill="#8c0000"/><polygon points="366.6,169.0 369.9,171.4 368.7,175.4 364.5,175.4 363.3,171.4" fill="#8c0000"/><polygon points="367.5,173.6 370.8,176.0 369.6,179.9 365.4,179.9 364.2,176.0" fill="#8c0000"/><polygon points="368.4,177.9 371.7,180.3 370.5,184.2 366.3,184.2 365.1,180.3" fill="#8c0000"/><polygon points="369.3,182.1 372.6,184.6 371.4,188.5 367.2,188.5 366.0,184.6" fill="#8c0000"/><polygon points="370.2,186.2 373.5,188.6 372.3,192.5 368.1,192.5 366.9,188.6" fill="#8c0000"/><polygon points="371.1,188.9 374.4,191.3 373.2,195.2 369.0,195.2 367.8,191.3" fill="#8c0000"/><polygon points="372.0,191.5 375.3,194.0 374.1,197.9 369.9,197.9 368.7,194.0" fill="#8c0000"/><polygon points="372.9,194.2 376.2,196.6 375.0,200.5 370.8,200.5 369.6,196.6" fill="#8c0000"/><polygon points="374.5,197.7 377.8,200.1 376.6,204.0 372.4,204.0 371.2,200.1" fill="#8c0000"/><polygon points="376.1,200.9 379.4,203.3 378.2,207.2 374.0,207.2 372.8,203.3" fill="#8c0000"/><polygon points="377.7,203.4 381.0,205.8 379.8,209.7 375.6,209.7 374.4,205.8" fill="#8c0000"/><polygon points="379.3,205.0 382.6,207.4 381.4,211.3 377.2,211.3 376.0,207.4" fill="#8c0000"/><polygon points="380.9,206.6 384.2,209.0 383.0,212.9 378.8,212.9 377.6,209.0" fill="#8c0000"/><polygon points="382.5,208.2 385.8,210.6 384.6,214.5 380.4,214.5 379.2,210.6" fill="#8c0000"/><polygon points="384.1,209.3 387.4,211.7 386.2,215.6 382.0,215.6 380.8,211.7" fill="#8c0000"/><polygon points="385.7,209.9 389.0,212.3 387.8,216.2 383.6,216.2 382.4,212.3" fill="#8c0000"/><polygon points="387.3,210.5 390.6,212.9 389.4,216.8 385.2,216.8 384.0,212.9" fill="#8c0000"/><polygon points="388.9,211.2 392.2,213.6 391.0,217.5 386.8,217.5 385.6,213.6" fill="#8c0000"/><polygon points="390.5,211.8 393.8,214.2 392.6,218.1 388.4,218.1 387.2,214.2" fill="#8c0000"/><polygon points="392.1,212.0 395.4,214.4 394.2,218.3 390.0,218.3 388.8,214.4" fill="#8c0000"/><polygon points="393.7,212.1 397.0,214.5 395.8,218.4 391.6,218.4 390.4,214.5" fill="#8c0000"/><polygon points="395.3,212.2 398.6,214.6 397.4,218.5 393.2,218.5 392.0,214.6" fill="#8c0000"/><polygon points="396.9,212.3 400.2,214.7 399.0,218.6 394.8,218.6 393.6,214.7" fill="#8c0000"/><polygon points="398.5,212.4 401.8,214.8 400.6,218.7 396.4,218.7 395.2,214.8" fill="#8c0000"/><polygon points="400.1,212.5 403.4,214.9 402.2,218.8 398.0,218.8 396.8,214.9" fill="#8c0000"/><polygon points="401.7,212.6 405.0,215.0 403.8,218.9 399.6,218.9 398.4,215.0" fill="#8c0000"/><polygon points="403.3,212.7 406.6,215.1 405.4,219.0 401.2,219.0 400.0,215.1" fill="#8c0000"/><polygon points="408.6,212.8 411.9,215.3 410.7,219.2 406.5,219.2 405.3,215.3" fill="#8c0000"/><polygon points="416.2,213.0 419.5,215.4 418.3,219.3 414.1,219.3 412.9,215.4" fill="#8c0000"/><polygon points="424.2,213.0 427.5,215.4 426.3,219.3 422.1,219.3 420.9,215.4" fill="#8c0000"/><polygon points="434.0,213.0 437.3,215.4 436.1,219.3 431.9,219.3 430.7,215.4" fill="#8c0000"/><path d="M311.9 79.4 L311.9 108.5 L312.4 116.2 L312.4 136.9 L312.7 151.1 L313.4 160.3 L315.0 169.5 L317.3 177.1 L320.3 181.0 L324.9 181.0 L329.5 177.9 L334.1 171.0 L337.2 163.3 L338.0 154.9 L340.3 144.9 L342.6 134.2 L343.3 133.8 L345.6 121.6 L347.9 107.8 L349.8 98.6 L351.0 88.6 L351.7 77.9 L352.6 71.5 L353.6 65.4 L354.4 60.3 L354.9 55.2 L355.7 51.0 L356.6 46.3 L357.4 42.4 L358.3 39.2 L359.5 37.0 L361.0 36.0 L362.5 36.0 L363.8 37.5 L364.6 41.0 L365.3 45.5 L366.3 51.8 L367.8 62.6 L369.4 73.3 L370.9 86.3 L372.1 100.9 L374.0 115.4 L375.2 131.5 L377.0 145.7 L378.6 158.7 L380.1 168.7 L382.4 177.9 L384.7 184.8 L387.8 192.4 L392.4 197.8 L398.5 200.9 L409.2 202.4 L416.9 203.2 L424.6 203.9 L434.5 204.7 L444.5 205.5 L446.0 205.6" fill="none" stroke="#ee0000" stroke-width="0.8"/><circle cx="311.9" cy="79.4" r="3.2" fill="url(#sg)"/><circle cx="311.9" cy="108.5" r="3.2" fill="url(#sg)"/><circle cx="312.4" cy="116.2" r="3.2" fill="url(#sg)"/><circle cx="312.4" cy="136.9" r="3.2" fill="url(#sg)"/><circle cx="312.6" cy="142.5" r="3.2" fill="url(#sg)"/><circle cx="312.7" cy="148.0" r="3.2" fill="url(#sg)"/><circle cx="312.9" cy="152.5" r="3.2" fill="url(#sg)"/><circle cx="313.0" cy="156.5" r="3.2" fill="url(#sg)"/><circle cx="312.8" cy="152.4" r="3.2" fill="url(#sg)"/><circle cx="313.2" cy="158.3" r="3.2" fill="url(#sg)"/><circle cx="313.7" cy="162.0" r="3.2" fill="url(#sg)"/><circle cx="314.1" cy="164.6" r="3.2" fill="url(#sg)"/><circle cx="314.6" cy="167.2" r="3.2" fill="url(#sg)"/><circle cx="315.0" cy="169.7" r="3.2" fill="url(#sg)"/><circle cx="315.5" cy="171.2" r="3.2" fill="url(#sg)"/><circle cx="315.9" cy="172.6" r="3.2" fill="url(#sg)"/><circle cx="316.4" cy="174.1" r="3.2" fill="url(#sg)"/><circle cx="316.8" cy="175.6" r="3.2" fill="url(#sg)"/><circle cx="317.3" cy="177.1" r="3.2" fill="url(#sg)"/><circle cx="317.7" cy="177.7" r="3.2" fill="url(#sg)"/><circle cx="318.2" cy="178.3" r="3.2" fill="url(#sg)"/><circle cx="319.4" cy="179.8" r="3.2" fill="url(#sg)"/><circle cx="320.6" cy="181.0" r="3.2" fill="url(#sg)"/><circle cx="321.8" cy="181.0" r="3.2" fill="url(#sg)"/><circle cx="323.0" cy="181.0" r="3.2" fill="url(#sg)"/><circle cx="324.2" cy="181.0" r="3.2" fill="url(#sg)"/><circle cx="325.4" cy="180.7" r="3.2" fill="url(#sg)"/><circle cx="326.6" cy="179.9" r="3.2" fill="url(#sg)"/><circle cx="327.8" cy="179.0" r="3.2" fill="url(#sg)"/><circle cx="329.0" cy="178.2" r="3.2" fill="url(#sg)"/><circle cx="330.2" cy="176.9" r="3.2" fill="url(#sg)"/><circle cx="331.4" cy="175.1" r="3.2" fill="url(#sg)"/><circle cx="332.6" cy="173.3" r="3.2" fill="url(#sg)"/><circle cx="334.8" cy="169.3" r="3.2" fill="url(#sg)"/><circle cx="337.0" cy="163.8" r="3.2" fill="url(#sg)"/><circle cx="339.2" cy="149.7" r="3.2" fill="url(#sg)"/><circle cx="341.4" cy="139.8" r="3.2" fill="url(#sg)"/><circle cx="343.6" cy="132.2" r="3.2" fill="url(#sg)"/><circle cx="345.8" cy="120.4" r="3.2" fill="url(#sg)"/><circle cx="348.0" cy="107.3" r="3.2" fill="url(#sg)"/><circle cx="350.2" cy="95.3" r="3.2" fill="url(#sg)"/><circle cx="351.3" cy="84.0" r="3.2" fill="url(#sg)"/><circle cx="352.4" cy="72.9" r="3.2" fill="url(#sg)"/><circle cx="353.2" cy="67.8" r="3.2" fill="url(#sg)"/><circle cx="354.0" cy="62.9" r="3.2" fill="url(#sg)"/><circle cx="354.8" cy="56.2" r="3.2" fill="url(#sg)"/><circle cx="355.6" cy="51.5" r="3.2" fill="url(#sg)"/><circle cx="356.4" cy="47.3" r="3.2" fill="url(#sg)"/><circle cx="357.2" cy="43.4" r="3.2" fill="url(#sg)"/><circle cx="358.0" cy="40.3" r="3.2" fill="url(#sg)"/><circle cx="358.8" cy="38.3" r="3.2" fill="url(#sg)"/><circle cx="359.6" cy="36.9" r="3.2" fill="url(#sg)"/><circle cx="360.4" cy="36.4" r="3.2" fill="url(#sg)"/><circle cx="361.5" cy="36.0" r="3.2" fill="url(#sg)"/><circle cx="362.6" cy="36.1" r="3.2" fill="url(#sg)"/><circle cx="363.7" cy="37.4" r="3.2" fill="url(#sg)"/><circle cx="364.8" cy="42.3" r="3.2" fill="url(#sg)"/><circle cx="366.5" cy="53.2" r="3.2" fill="url(#sg)"/><circle cx="368.2" cy="65.3" r="3.2" fill="url(#sg)"/><circle cx="369.9" cy="77.6" r="3.2" fill="url(#sg)"/><circle cx="371.6" cy="94.8" r="3.2" fill="url(#sg)"/><circle cx="373.3" cy="110.1" r="3.2" fill="url(#sg)"/><circle cx="375.0" cy="128.8" r="3.2" fill="url(#sg)"/><circle cx="376.7" cy="143.3" r="3.2" fill="url(#sg)"/><circle cx="378.4" cy="157.1" r="3.2" fill="url(#sg)"/><circle cx="380.1" cy="168.7" r="3.2" fill="url(#sg)"/><circle cx="381.8" cy="175.5" r="3.2" fill="url(#sg)"/><circle cx="383.5" cy="181.2" r="3.2" fill="url(#sg)"/><circle cx="386.1" cy="188.2" r="3.2" fill="url(#sg)"/><circle cx="388.7" cy="193.5" r="3.2" fill="url(#sg)"/><circle cx="391.3" cy="196.5" r="3.2" fill="url(#sg)"/><circle cx="393.9" cy="198.6" r="3.2" fill="url(#sg)"/><circle cx="396.5" cy="199.9" r="3.2" fill="url(#sg)"/><circle cx="399.1" cy="201.0" r="3.2" fill="url(#sg)"/><circle cx="401.7" cy="201.3" r="3.2" fill="url(#sg)"/><circle cx="408.6" cy="202.3" r="3.2" fill="url(#sg)"/><circle cx="416.2" cy="203.1" r="3.2" fill="url(#sg)"/><circle cx="424.2" cy="203.9" r="3.2" fill="url(#sg)"/><circle cx="434.0" cy="204.7" r="3.2" fill="url(#sg)"/><path d="M311.1 31.1 L311.4 37.3 L311.9 52.6 L312.4 57.2 L312.7 69.5 L313.4 78.6 L315.0 87.8 L318.8 95.5 L324.2 98.6 L329.5 97.0 L335.7 90.9 L340.3 78.6 L343.3 69.5 L345.6 61.8 L347.9 52.6 L350.2 43.4 L353.3 37.3 L355.6 34.2 L358.6 40.3 L361.0 49.5 L362.5 55.7 L364.8 64.9 L366.3 71.0 L367.8 78.6 L370.1 86.3 L372.4 95.5 L375.5 103.2 L381.6 110.8 L390.8 115.4 L403.1 118.5 L415.4 120.0 L424.6 120.3 L433.8 120.3 L444.5 120.8 L446.0 120.8" fill="none" stroke="#0000f5" stroke-width="0.8"/><path d="M311.8 28.3L315.2 34.2L308.4 34.2Z" fill="#0000f5"/><path d="M312.6 49.0L316.0 54.9L309.2 54.9Z" fill="#0000f5"/><path d="M312.9 52.9L316.3 58.8L309.5 58.8Z" fill="#0000f5"/><path d="M312.9 65.3L316.3 71.2L309.5 71.2Z" fill="#0000f5"/><path d="M313.0 70.1L316.4 76.0L309.6 76.0Z" fill="#0000f5"/><path d="M313.0 69.5L316.4 75.4L309.6 75.4Z" fill="#0000f5"/><path d="M314.3 79.8L317.7 85.7L310.9 85.7Z" fill="#0000f5"/><path d="M315.6 85.1L319.0 91.0L312.2 91.0Z" fill="#0000f5"/><path d="M316.9 87.7L320.3 93.6L313.5 93.6Z" fill="#0000f5"/><path d="M318.2 90.4L321.6 96.2L314.8 96.2Z" fill="#0000f5"/><path d="M319.5 92.0L322.9 97.9L316.1 97.9Z" fill="#0000f5"/><path d="M320.8 92.7L324.2 98.6L317.4 98.6Z" fill="#0000f5"/><path d="M322.1 93.5L325.5 99.4L318.7 99.4Z" fill="#0000f5"/><path d="M323.4 94.2L326.8 100.1L320.0 100.1Z" fill="#0000f5"/><path d="M324.7 94.5L328.1 100.4L321.3 100.4Z" fill="#0000f5"/><path d="M326.0 94.1L329.4 100.0L322.6 100.0Z" fill="#0000f5"/><path d="M327.3 93.7L330.7 99.6L323.9 99.6Z" fill="#0000f5"/><path d="M328.6 93.3L332.0 99.2L325.2 99.2Z" fill="#0000f5"/><path d="M329.9 92.7L333.3 98.6L326.5 98.6Z" fill="#0000f5"/><path d="M331.2 91.4L334.6 97.3L327.8 97.3Z" fill="#0000f5"/><path d="M332.5 90.1L335.9 96.0L329.1 96.0Z" fill="#0000f5"/><path d="M333.8 88.8L337.2 94.7L330.4 94.7Z" fill="#0000f5"/><path d="M335.1 87.6L338.5 93.5L331.7 93.5Z" fill="#0000f5"/><path d="M336.4 85.1L339.8 91.0L333.0 91.0Z" fill="#0000f5"/><path d="M337.7 81.6L341.1 87.5L334.3 87.5Z" fill="#0000f5"/><path d="M339.0 78.2L342.4 84.0L335.6 84.0Z" fill="#0000f5"/><path d="M340.7 73.5L344.1 79.3L337.3 79.3Z" fill="#0000f5"/><path d="M342.4 68.3L345.8 74.2L339.0 74.2Z" fill="#0000f5"/><path d="M344.1 62.9L347.5 68.8L340.7 68.8Z" fill="#0000f5"/><path d="M345.8 57.1L349.2 63.0L342.4 63.0Z" fill="#0000f5"/><path d="M347.5 50.3L350.9 56.2L344.1 56.2Z" fill="#0000f5"/><path d="M349.2 43.5L352.6 49.4L345.8 49.4Z" fill="#0000f5"/><path d="M350.9 38.1L354.3 44.0L347.5 44.0Z" fill="#0000f5"/><path d="M352.6 34.8L356.0 40.6L349.2 40.6Z" fill="#0000f5"/><path d="M354.3 32.0L357.7 37.9L350.9 37.9Z" fill="#0000f5"/><path d="M356.0 31.1L359.4 37.0L352.6 37.0Z" fill="#0000f5"/><path d="M357.7 34.5L361.1 40.4L354.3 40.4Z" fill="#0000f5"/><path d="M359.4 39.4L362.8 45.3L356.0 45.3Z" fill="#0000f5"/><path d="M361.1 46.0L364.5 51.9L357.7 51.9Z" fill="#0000f5"/><path d="M362.8 53.0L366.2 58.9L359.4 58.9Z" fill="#0000f5"/><path d="M364.5 59.8L367.9 65.7L361.1 65.7Z" fill="#0000f5"/><path d="M366.2 66.7L369.6 72.6L362.8 72.6Z" fill="#0000f5"/><path d="M367.9 75.0L371.3 80.9L364.5 80.9Z" fill="#0000f5"/><path d="M369.6 80.7L373.0 86.6L366.2 86.6Z" fill="#0000f5"/><path d="M371.3 87.2L374.7 93.1L367.9 93.1Z" fill="#0000f5"/><path d="M373.0 93.1L376.4 99.0L369.6 99.0Z" fill="#0000f5"/><path d="M374.7 97.3L378.1 103.2L371.3 103.2Z" fill="#0000f5"/><path d="M376.4 100.4L379.8 106.3L373.0 106.3Z" fill="#0000f5"/><path d="M378.1 102.5L381.5 108.4L374.7 108.4Z" fill="#0000f5"/><path d="M380.5 105.5L383.9 111.4L377.1 111.4Z" fill="#0000f5"/><path d="M382.9 107.5L386.3 113.4L379.5 113.4Z" fill="#0000f5"/><path d="M385.3 108.7L388.7 114.6L381.9 114.6Z" fill="#0000f5"/><path d="M387.7 109.9L391.1 115.8L384.3 115.8Z" fill="#0000f5"/><path d="M390.1 111.1L393.5 117.0L386.7 117.0Z" fill="#0000f5"/><path d="M392.5 111.9L395.9 117.8L389.1 117.8Z" fill="#0000f5"/><path d="M394.9 112.5L398.3 118.4L391.5 118.4Z" fill="#0000f5"/><path d="M397.3 113.1L400.7 119.0L393.9 119.0Z" fill="#0000f5"/><path d="M399.7 113.7L403.1 119.6L396.3 119.6Z" fill="#0000f5"/><path d="M402.1 114.3L405.5 120.2L398.7 120.2Z" fill="#0000f5"/><path d="M408.6 115.2L412.0 121.1L405.2 121.1Z" fill="#0000f5"/><path d="M416.2 116.1L419.6 122.0L412.8 122.0Z" fill="#0000f5"/><path d="M424.2 116.4L427.6 122.2L420.8 122.2Z" fill="#0000f5"/><path d="M434.0 116.4L437.4 122.3L430.6 122.3Z" fill="#0000f5"/></g><text x="320.3" y="84.0" fill="#0000f5" font-size="18">A</text><text x="318.8" y="161.7" fill="#ee0000" font-size="18">B</text><text x="317.5" y="205.3" fill="#8c0000" font-size="18">C</text><text x="317.0" y="234.5" fill="#000" font-size="18">D</text><path d="M559.3 241.9v4.0M559.3 27.7v4.0M598.3 241.9v4.0M598.3 27.7v4.0M637.2 241.9v4.0M637.2 27.7v4.0M676.2 241.9v4.0M676.2 27.7v4.0M578.8 241.9v2.2M578.8 27.7v2.2M617.8 241.9v2.2M617.8 27.7v2.2M656.7 241.9v2.2M656.7 27.7v2.2M556.7 216.4h-4.0M691.9 216.4h-4.0M556.7 165.4h-4.0M691.9 165.4h-4.0M556.7 114.4h-4.0M691.9 114.4h-4.0M556.7 63.4h-4.0M691.9 63.4h-4.0M556.7 241.9h-2.2M691.9 241.9h-2.2M556.7 190.9h-2.2M691.9 190.9h-2.2M556.7 139.9h-2.2M691.9 139.9h-2.2M556.7 88.9h-2.2M691.9 88.9h-2.2M556.7 37.9h-2.2M691.9 37.9h-2.2" stroke="#000" stroke-width="1.3" fill="none"/><rect x="556.7" y="27.7" width="135.2" height="214.2" fill="none" stroke="#000" stroke-width="1.6"/><text x="559.3" y="267.5" text-anchor="middle">0.0</text><text x="598.3" y="267.5" text-anchor="middle">0.3</text><text x="637.2" y="267.5" text-anchor="middle">0.6</text><text x="676.2" y="267.5" text-anchor="middle">0.9</text><text x="547.7" y="222.8" text-anchor="end">100</text><text x="547.7" y="171.8" text-anchor="end">200</text><text x="547.7" y="120.8" text-anchor="end">300</text><text x="547.7" y="69.8" text-anchor="end">400</text><text transform="translate(493.0,140.1) rotate(-90)" text-anchor="middle" font-size="18">N<tspan dy="5.1" font-size="12.4">2</tspan><tspan dy="-5.1"> adsorbed (cm<tspan dy="-7.6" font-size="12.4">3</tspan><tspan dy="7.6"> g<tspan dy="-7.6" font-size="12.4">−1</tspan><tspan dy="7.6"> STP)</tspan></tspan></tspan></text><text x="602.7" y="294.1" text-anchor="start" font-size="18"><tspan font-style="italic">P/P</tspan><tspan dy="5.5" font-size="12.4">O</tspan></text><text x="470.0" y="23.0" font-weight="bold" font-size="27">c</text><g clip-path="url(#cc)"><circle cx="656.1" cy="90.4" r="3.2" fill="url(#sg)"/><circle cx="559.0" cy="224.1" r="3.2" fill="url(#sg)"/><circle cx="559.1" cy="221.1" r="3.2" fill="url(#sg)"/><circle cx="559.3" cy="218.1" r="3.2" fill="url(#sg)"/><circle cx="559.9" cy="215.2" r="3.2" fill="url(#sg)"/><circle cx="560.5" cy="212.2" r="3.2" fill="url(#sg)"/><circle cx="562.5" cy="210.1" r="3.2" fill="url(#sg)"/><circle cx="564.8" cy="208.2" r="3.2" fill="url(#sg)"/><circle cx="567.3" cy="206.4" r="3.2" fill="url(#sg)"/><circle cx="569.7" cy="204.7" r="3.2" fill="url(#sg)"/><circle cx="572.3" cy="203.2" r="3.2" fill="url(#sg)"/><circle cx="575.1" cy="202.0" r="3.2" fill="url(#sg)"/><circle cx="577.8" cy="200.8" r="3.2" fill="url(#sg)"/><circle cx="580.6" cy="199.6" r="3.2" fill="url(#sg)"/><circle cx="583.3" cy="198.5" r="3.2" fill="url(#sg)"/><circle cx="586.1" cy="197.4" r="3.2" fill="url(#sg)"/><circle cx="588.9" cy="196.3" r="3.2" fill="url(#sg)"/><circle cx="591.7" cy="195.2" r="3.2" fill="url(#sg)"/><circle cx="594.5" cy="194.2" r="3.2" fill="url(#sg)"/><circle cx="597.4" cy="193.2" r="3.2" fill="url(#sg)"/><circle cx="600.2" cy="192.2" r="3.2" fill="url(#sg)"/><circle cx="603.0" cy="191.2" r="3.2" fill="url(#sg)"/><circle cx="605.9" cy="190.2" r="3.2" fill="url(#sg)"/><circle cx="608.7" cy="189.3" r="3.2" fill="url(#sg)"/><circle cx="611.6" cy="188.4" r="3.2" fill="url(#sg)"/><circle cx="614.4" cy="187.3" r="3.2" fill="url(#sg)"/><circle cx="617.1" cy="186.0" r="3.2" fill="url(#sg)"/><circle cx="619.8" cy="184.7" r="3.2" fill="url(#sg)"/><circle cx="622.3" cy="183.1" r="3.2" fill="url(#sg)"/><circle cx="624.7" cy="181.3" r="3.2" fill="url(#sg)"/><circle cx="627.2" cy="179.6" r="3.2" fill="url(#sg)"/><circle cx="629.6" cy="177.8" r="3.2" fill="url(#sg)"/><circle cx="631.9" cy="175.9" r="3.2" fill="url(#sg)"/><circle cx="634.3" cy="174.1" r="3.2" fill="url(#sg)"/><circle cx="636.5" cy="172.1" r="3.2" fill="url(#sg)"/><circle cx="638.6" cy="170.0" r="3.2" fill="url(#sg)"/><circle cx="640.8" cy="167.8" r="3.2" fill="url(#sg)"/><circle cx="642.7" cy="165.5" r="3.2" fill="url(#sg)"/><circle cx="644.5" cy="163.1" r="3.2" fill="url(#sg)"/><circle cx="646.3" cy="160.7" r="3.2" fill="url(#sg)"/><circle cx="647.8" cy="158.2" r="3.2" fill="url(#sg)"/><circle cx="649.4" cy="155.6" r="3.2" fill="url(#sg)"/><circle cx="650.8" cy="153.0" r="3.2" fill="url(#sg)"/><circle cx="652.0" cy="150.2" r="3.2" fill="url(#sg)"/><circle cx="653.2" cy="147.5" r="3.2" fill="url(#sg)"/><circle cx="654.4" cy="144.7" r="3.2" fill="url(#sg)"/><circle cx="655.5" cy="141.9" r="3.2" fill="url(#sg)"/><circle cx="656.6" cy="139.1" r="3.2" fill="url(#sg)"/><circle cx="657.6" cy="136.3" r="3.2" fill="url(#sg)"/><circle cx="658.7" cy="133.5" r="3.2" fill="url(#sg)"/><circle cx="659.8" cy="130.7" r="3.2" fill="url(#sg)"/><circle cx="660.9" cy="127.9" r="3.2" fill="url(#sg)"/><circle cx="662.0" cy="125.1" r="3.2" fill="url(#sg)"/><circle cx="662.5" cy="122.2" r="3.2" fill="url(#sg)"/><circle cx="662.9" cy="119.2" r="3.2" fill="url(#sg)"/><circle cx="663.4" cy="116.2" r="3.2" fill="url(#sg)"/><circle cx="663.9" cy="113.3" r="3.2" fill="url(#sg)"/><circle cx="664.3" cy="110.3" r="3.2" fill="url(#sg)"/><circle cx="664.8" cy="107.3" r="3.2" fill="url(#sg)"/><circle cx="665.3" cy="104.4" r="3.2" fill="url(#sg)"/><circle cx="665.9" cy="101.4" r="3.2" fill="url(#sg)"/><circle cx="666.6" cy="98.5" r="3.2" fill="url(#sg)"/><circle cx="667.2" cy="95.6" r="3.2" fill="url(#sg)"/><circle cx="667.9" cy="92.7" r="3.2" fill="url(#sg)"/><circle cx="668.7" cy="89.8" r="3.2" fill="url(#sg)"/><circle cx="669.8" cy="87.0" r="3.2" fill="url(#sg)"/><circle cx="671.0" cy="84.3" r="3.2" fill="url(#sg)"/><circle cx="672.7" cy="81.8" r="3.2" fill="url(#sg)"/><circle cx="674.6" cy="79.6" r="3.2" fill="url(#sg)"/><circle cx="677.4" cy="78.7" r="3.2" fill="url(#sg)"/><circle cx="680.3" cy="77.7" r="3.2" fill="url(#sg)"/><circle cx="683.2" cy="77.2" r="3.2" fill="url(#sg)"/><circle cx="686.2" cy="76.8" r="3.2" fill="url(#sg)"/><circle cx="688.5" cy="75.5" r="3.2" fill="url(#sg)"/><g fill="#fff" fill-opacity="0.8"><circle cx="558.2" cy="223.1" r="1.1"/><circle cx="558.3" cy="220.1" r="1.1"/><circle cx="558.5" cy="217.1" r="1.1"/><circle cx="559.1" cy="214.2" r="1.1"/><circle cx="559.7" cy="211.2" r="1.1"/><circle cx="561.7" cy="209.1" r="1.1"/><circle cx="564.0" cy="207.2" r="1.1"/><circle cx="566.5" cy="205.4" r="1.1"/><circle cx="568.9" cy="203.7" r="1.1"/><circle cx="571.5" cy="202.2" r="1.1"/><circle cx="574.3" cy="201.0" r="1.1"/><circle cx="577.0" cy="199.8" r="1.1"/><circle cx="579.8" cy="198.6" r="1.1"/><circle cx="582.5" cy="197.5" r="1.1"/><circle cx="585.3" cy="196.4" r="1.1"/><circle cx="588.1" cy="195.3" r="1.1"/><circle cx="590.9" cy="194.2" r="1.1"/><circle cx="593.7" cy="193.2" r="1.1"/><circle cx="596.6" cy="192.2" r="1.1"/><circle cx="599.4" cy="191.2" r="1.1"/><circle cx="602.2" cy="190.2" r="1.1"/><circle cx="605.1" cy="189.2" r="1.1"/><circle cx="607.9" cy="188.3" r="1.1"/><circle cx="610.8" cy="187.4" r="1.1"/><circle cx="613.6" cy="186.3" r="1.1"/><circle cx="616.3" cy="185.0" r="1.1"/><circle cx="619.0" cy="183.7" r="1.1"/><circle cx="621.5" cy="182.1" r="1.1"/><circle cx="623.9" cy="180.3" r="1.1"/><circle cx="626.4" cy="178.6" r="1.1"/><circle cx="628.8" cy="176.8" r="1.1"/><circle cx="631.1" cy="174.9" r="1.1"/><circle cx="633.5" cy="173.1" r="1.1"/><circle cx="635.7" cy="171.1" r="1.1"/><circle cx="637.8" cy="169.0" r="1.1"/><circle cx="640.0" cy="166.8" r="1.1"/><circle cx="641.9" cy="164.5" r="1.1"/><circle cx="643.7" cy="162.1" r="1.1"/><circle cx="645.5" cy="159.7" r="1.1"/><circle cx="647.0" cy="157.2" r="1.1"/><circle cx="648.6" cy="154.6" r="1.1"/><circle cx="650.0" cy="152.0" r="1.1"/><circle cx="651.2" cy="149.2" r="1.1"/><circle cx="652.4" cy="146.5" r="1.1"/><circle cx="653.6" cy="143.7" r="1.1"/><circle cx="654.7" cy="140.9" r="1.1"/><circle cx="655.8" cy="138.1" r="1.1"/><circle cx="656.8" cy="135.3" r="1.1"/><circle cx="657.9" cy="132.5" r="1.1"/><circle cx="659.0" cy="129.7" r="1.1"/><circle cx="660.1" cy="126.9" r="1.1"/><circle cx="661.2" cy="124.1" r="1.1"/><circle cx="661.7" cy="121.2" r="1.1"/><circle cx="662.1" cy="118.2" r="1.1"/><circle cx="662.6" cy="115.2" r="1.1"/><circle cx="663.1" cy="112.3" r="1.1"/><circle cx="663.5" cy="109.3" r="1.1"/><circle cx="664.0" cy="106.3" r="1.1"/><circle cx="664.5" cy="103.4" r="1.1"/><circle cx="665.1" cy="100.4" r="1.1"/><circle cx="665.8" cy="97.5" r="1.1"/><circle cx="666.4" cy="94.6" r="1.1"/><circle cx="667.1" cy="91.7" r="1.1"/><circle cx="667.9" cy="88.8" r="1.1"/><circle cx="669.0" cy="86.0" r="1.1"/><circle cx="670.2" cy="83.3" r="1.1"/><circle cx="671.9" cy="80.8" r="1.1"/><circle cx="673.8" cy="78.6" r="1.1"/><circle cx="676.6" cy="77.7" r="1.1"/><circle cx="679.5" cy="76.7" r="1.1"/><circle cx="682.4" cy="76.2" r="1.1"/><circle cx="685.4" cy="75.8" r="1.1"/><circle cx="687.7" cy="74.5" r="1.1"/></g><circle cx="690.0" cy="76.8" r="3.2" fill="url(#sg)"/><circle cx="687.4" cy="76.9" r="3.2" fill="url(#sg)"/><circle cx="684.8" cy="76.9" r="3.2" fill="url(#sg)"/><circle cx="682.2" cy="77.0" r="3.2" fill="url(#sg)"/><circle cx="679.6" cy="77.0" r="3.2" fill="url(#sg)"/><circle cx="677.0" cy="77.1" r="3.2" fill="url(#sg)"/><circle cx="674.4" cy="77.1" r="3.2" fill="url(#sg)"/><circle cx="671.8" cy="77.1" r="3.2" fill="url(#sg)"/><circle cx="669.2" cy="77.2" r="3.2" fill="url(#sg)"/><circle cx="666.6" cy="77.4" r="3.2" fill="url(#sg)"/><circle cx="664.0" cy="77.8" r="3.2" fill="url(#sg)"/><circle cx="661.8" cy="79.1" r="3.2" fill="url(#sg)"/><circle cx="659.6" cy="80.5" r="3.2" fill="url(#sg)"/><circle cx="657.9" cy="82.5" r="3.2" fill="url(#sg)"/><g fill="#fff" fill-opacity="0.8"><circle cx="689.2" cy="75.8" r="1.1"/><circle cx="686.6" cy="75.9" r="1.1"/><circle cx="684.0" cy="75.9" r="1.1"/><circle cx="681.4" cy="76.0" r="1.1"/><circle cx="678.8" cy="76.0" r="1.1"/><circle cx="676.2" cy="76.1" r="1.1"/><circle cx="673.6" cy="76.1" r="1.1"/><circle cx="671.0" cy="76.1" r="1.1"/><circle cx="668.4" cy="76.2" r="1.1"/><circle cx="665.8" cy="76.4" r="1.1"/><circle cx="663.2" cy="76.8" r="1.1"/><circle cx="661.0" cy="78.1" r="1.1"/><circle cx="658.8" cy="79.5" r="1.1"/><circle cx="657.1" cy="81.5" r="1.1"/></g><path d="M657.6 82.9 L656.1 90.4 L653.3 106.8 L650.6 128.6 L646.8 148.3 L642.8 163.3" fill="none" stroke="#ee0000" stroke-width="0.8"/><circle cx="653.3" cy="106.8" r="3.2" fill="url(#sg)"/><circle cx="650.6" cy="128.6" r="3.2" fill="url(#sg)"/><circle cx="646.8" cy="148.3" r="3.2" fill="url(#sg)"/><circle cx="642.8" cy="163.3" r="3.2" fill="url(#sg)"/><path d="M559.0 197.6L562.5 203.6L555.5 203.6Z" fill="#0000f5"/><path d="M559.2 195.2L562.7 201.2L555.7 201.2Z" fill="#0000f5"/><path d="M559.4 192.8L562.9 198.8L555.9 198.8Z" fill="#0000f5"/><path d="M559.5 190.4L563.0 196.4L556.0 196.4Z" fill="#0000f5"/><path d="M559.7 188.0L563.2 194.0L556.2 194.0Z" fill="#0000f5"/><path d="M560.3 185.7L563.8 191.7L556.8 191.7Z" fill="#0000f5"/><path d="M561.1 183.4L564.6 189.5L557.6 189.5Z" fill="#0000f5"/><path d="M561.9 181.2L565.4 187.2L558.4 187.2Z" fill="#0000f5"/><path d="M563.1 179.1L566.6 185.2L559.6 185.2Z" fill="#0000f5"/><path d="M564.4 177.0L567.9 183.1L560.9 183.1Z" fill="#0000f5"/><path d="M565.6 175.0L569.1 181.0L562.1 181.0Z" fill="#0000f5"/><path d="M567.0 173.1L570.5 179.1L563.5 179.1Z" fill="#0000f5"/><path d="M568.9 171.6L572.4 177.7L565.4 177.7Z" fill="#0000f5"/><path d="M570.8 170.2L574.3 176.3L567.3 176.3Z" fill="#0000f5"/><path d="M572.8 168.8L576.3 174.8L569.3 174.8Z" fill="#0000f5"/><path d="M574.7 167.4L578.2 173.4L571.2 173.4Z" fill="#0000f5"/><path d="M576.7 166.0L580.2 172.0L573.2 172.0Z" fill="#0000f5"/><path d="M578.6 164.6L582.1 170.6L575.1 170.6Z" fill="#0000f5"/><path d="M580.6 163.2L584.1 169.2L577.1 169.2Z" fill="#0000f5"/><path d="M582.5 161.8L586.0 167.9L579.0 167.9Z" fill="#0000f5"/><path d="M584.5 160.4L588.0 166.5L581.0 166.5Z" fill="#0000f5"/><path d="M586.5 159.1L590.0 165.2L583.0 165.2Z" fill="#0000f5"/><path d="M588.5 157.8L592.0 163.8L585.0 163.8Z" fill="#0000f5"/><path d="M590.5 156.5L594.0 162.5L587.0 162.5Z" fill="#0000f5"/><path d="M592.5 155.1L596.0 161.2L589.0 161.2Z" fill="#0000f5"/><path d="M594.5 153.8L598.0 159.8L591.0 159.8Z" fill="#0000f5"/><path d="M596.5 152.5L600.0 158.5L593.0 158.5Z" fill="#0000f5"/><path d="M598.5 151.1L602.0 157.2L595.0 157.2Z" fill="#0000f5"/><path d="M600.5 149.8L604.0 155.9L597.0 155.9Z" fill="#0000f5"/><path d="M602.4 148.4L605.9 154.4L598.9 154.4Z" fill="#0000f5"/><path d="M604.4 146.9L607.9 153.0L600.9 153.0Z" fill="#0000f5"/><path d="M606.3 145.5L609.8 151.6L602.8 151.6Z" fill="#0000f5"/><path d="M608.2 144.1L611.7 150.1L604.7 150.1Z" fill="#0000f5"/><path d="M610.1 142.6L613.6 148.7L606.6 148.7Z" fill="#0000f5"/><path d="M612.0 141.2L615.5 147.2L608.5 147.2Z" fill="#0000f5"/><path d="M614.0 139.7L617.5 145.8L610.5 145.8Z" fill="#0000f5"/><path d="M615.9 138.3L619.4 144.4L612.4 144.4Z" fill="#0000f5"/><path d="M617.8 136.9L621.3 142.9L614.3 142.9Z" fill="#0000f5"/><path d="M619.5 135.2L623.0 141.3L616.0 141.3Z" fill="#0000f5"/><path d="M620.8 133.2L624.3 139.3L617.3 139.3Z" fill="#0000f5"/><path d="M622.2 131.2L625.7 137.3L618.7 137.3Z" fill="#0000f5"/><path d="M623.5 129.2L627.0 135.3L620.0 135.3Z" fill="#0000f5"/><path d="M624.8 127.2L628.3 133.3L621.3 133.3Z" fill="#0000f5"/><path d="M626.1 125.2L629.6 131.3L622.6 131.3Z" fill="#0000f5"/><path d="M627.3 123.1L630.8 129.2L623.8 129.2Z" fill="#0000f5"/><path d="M628.6 121.1L632.1 127.2L625.1 127.2Z" fill="#0000f5"/><path d="M629.9 119.1L633.4 125.1L626.4 125.1Z" fill="#0000f5"/><path d="M631.1 117.0L634.6 123.1L627.6 123.1Z" fill="#0000f5"/><path d="M632.2 114.9L635.7 120.9L628.7 120.9Z" fill="#0000f5"/><path d="M633.3 112.7L636.8 118.8L629.8 118.8Z" fill="#0000f5"/><path d="M634.3 110.6L637.8 116.6L630.8 116.6Z" fill="#0000f5"/><path d="M635.4 108.4L638.9 114.5L631.9 114.5Z" fill="#0000f5"/><path d="M636.4 106.2L639.9 112.3L632.9 112.3Z" fill="#0000f5"/><path d="M637.3 104.0L640.8 110.1L633.8 110.1Z" fill="#0000f5"/><path d="M638.3 101.8L641.8 107.9L634.8 107.9Z" fill="#0000f5"/><path d="M639.2 99.6L642.7 105.7L635.7 105.7Z" fill="#0000f5"/><path d="M640.2 97.4L643.7 103.5L636.7 103.5Z" fill="#0000f5"/><path d="M641.1 95.2L644.6 101.3L637.6 101.3Z" fill="#0000f5"/><path d="M642.0 93.0L645.5 99.1L638.5 99.1Z" fill="#0000f5"/><path d="M643.0 90.8L646.5 96.8L639.5 96.8Z" fill="#0000f5"/><path d="M643.9 88.6L647.4 94.6L640.4 94.6Z" fill="#0000f5"/><path d="M645.0 86.4L648.5 92.5L641.5 92.5Z" fill="#0000f5"/><path d="M646.3 84.4L649.8 90.5L642.8 90.5Z" fill="#0000f5"/><path d="M647.6 82.4L651.1 88.5L644.1 88.5Z" fill="#0000f5"/><path d="M648.9 80.4L652.4 86.4L645.4 86.4Z" fill="#0000f5"/><path d="M650.2 78.4L653.7 84.4L646.7 84.4Z" fill="#0000f5"/><path d="M651.5 76.4L655.0 82.4L648.0 82.4Z" fill="#0000f5"/><path d="M652.9 74.4L656.4 80.5L649.4 80.5Z" fill="#0000f5"/><path d="M654.4 72.6L657.9 78.6L650.9 78.6Z" fill="#0000f5"/><path d="M656.1 70.9L659.6 76.9L652.6 76.9Z" fill="#0000f5"/><path d="M657.9 69.2L661.4 75.3L654.4 75.3Z" fill="#0000f5"/><path d="M659.9 67.9L663.4 74.0L656.4 74.0Z" fill="#0000f5"/><path d="M661.9 66.7L665.4 72.7L658.4 72.7Z" fill="#0000f5"/><path d="M664.1 65.7L667.6 71.8L660.6 71.8Z" fill="#0000f5"/><path d="M666.4 65.2L669.9 71.3L662.9 71.3Z" fill="#0000f5"/><path d="M668.8 64.7L672.3 70.8L665.3 70.8Z" fill="#0000f5"/><path d="M671.1 64.3L674.6 70.3L667.6 70.3Z" fill="#0000f5"/><path d="M673.5 64.2L677.0 70.2L670.0 70.2Z" fill="#0000f5"/><path d="M675.9 64.1L679.4 70.1L672.4 70.1Z" fill="#0000f5"/><path d="M678.3 64.0L681.8 70.0L674.8 70.0Z" fill="#0000f5"/><path d="M680.7 63.9L684.2 69.9L677.2 69.9Z" fill="#0000f5"/><path d="M683.1 63.8L686.6 69.8L679.6 69.8Z" fill="#0000f5"/><path d="M685.5 63.7L689.0 69.7L682.0 69.7Z" fill="#0000f5"/><path d="M687.9 63.6L691.4 69.6L684.4 69.6Z" fill="#0000f5"/><path d="M690.3 63.5L693.8 69.6L686.8 69.6Z" fill="#0000f5"/><path d="M691.1 61.0L694.6 67.0L687.6 67.0Z" fill="#0000f5"/><path d="M688.7 61.0L692.2 67.1L685.2 67.1Z" fill="#0000f5"/><path d="M686.3 61.1L689.8 67.1L682.8 67.1Z" fill="#0000f5"/><path d="M683.9 61.1L687.4 67.2L680.4 67.2Z" fill="#0000f5"/><path d="M681.5 61.2L685.0 67.3L678.0 67.3Z" fill="#0000f5"/><path d="M679.1 61.3L682.6 67.3L675.6 67.3Z" fill="#0000f5"/><path d="M676.7 61.3L680.2 67.4L673.2 67.4Z" fill="#0000f5"/><path d="M674.3 61.4L677.8 67.5L670.8 67.5Z" fill="#0000f5"/><path d="M671.9 61.5L675.4 67.5L668.4 67.5Z" fill="#0000f5"/><path d="M669.5 61.5L673.0 67.6L666.0 67.6Z" fill="#0000f5"/><path d="M667.1 61.6L670.6 67.6L663.6 67.6Z" fill="#0000f5"/><path d="M664.7 61.6L668.2 67.7L661.2 67.7Z" fill="#0000f5"/><path d="M662.3 61.7L665.8 67.8L658.8 67.8Z" fill="#0000f5"/><path d="M659.9 61.8L663.4 67.8L656.4 67.8Z" fill="#0000f5"/><path d="M657.5 61.9L661.0 68.0L654.0 68.0Z" fill="#0000f5"/><path d="M655.1 62.0L658.6 68.1L651.6 68.1Z" fill="#0000f5"/><path d="M652.7 62.2L656.2 68.2L649.2 68.2Z" fill="#0000f5"/><path d="M650.3 62.3L653.8 68.3L646.8 68.3Z" fill="#0000f5"/><path d="M647.9 62.4L651.4 68.5L644.4 68.5Z" fill="#0000f5"/><path d="M645.6 62.9L649.1 69.0L642.1 69.0Z" fill="#0000f5"/><path d="M643.3 63.7L646.8 69.8L639.8 69.8Z" fill="#0000f5"/><path d="M641.1 64.5L644.6 70.5L637.6 70.5Z" fill="#0000f5"/><path d="M638.8 65.3L642.3 71.3L635.3 71.3Z" fill="#0000f5"/><path d="M636.7 66.4L640.2 72.5L633.2 72.5Z" fill="#0000f5"/><path d="M634.6 67.6L638.1 73.7L631.1 73.7Z" fill="#0000f5"/><path d="M632.8 69.2L636.3 75.3L629.3 75.3Z" fill="#0000f5"/><path d="M631.1 70.9L634.6 76.9L627.6 76.9Z" fill="#0000f5"/><path d="M629.6 72.7L633.1 78.8L626.1 78.8Z" fill="#0000f5"/><path d="M628.5 74.9L632.0 80.9L625.0 80.9Z" fill="#0000f5"/><path d="M627.5 77.0L631.0 83.1L624.0 83.1Z" fill="#0000f5"/><path d="M626.9 79.3L630.4 85.4L623.4 85.4Z" fill="#0000f5"/><path d="M626.6 83.5 L625.0 92.5 L619.0 125.6 L617.5 126.5 L613.0 141.5" fill="none" stroke="#0000f5" stroke-width="0.8"/><path d="M625.0 88.5L628.5 94.5L621.5 94.5Z" fill="#0000f5"/><path d="M619.0 121.6L622.5 127.6L615.5 127.6Z" fill="#0000f5"/><rect x="556.2" y="152.2" width="5.5" height="5.5" fill="#000"/><rect x="556.3" y="149.9" width="5.5" height="5.5" fill="#000"/><rect x="556.4" y="147.5" width="5.5" height="5.5" fill="#000"/><rect x="556.4" y="145.1" width="5.5" height="5.5" fill="#000"/><rect x="556.5" y="142.7" width="5.5" height="5.5" fill="#000"/><rect x="556.5" y="140.3" width="5.5" height="5.5" fill="#000"/><rect x="557.1" y="137.9" width="5.5" height="5.5" fill="#000"/><rect x="557.6" y="135.6" width="5.5" height="5.5" fill="#000"/><rect x="558.1" y="133.2" width="5.5" height="5.5" fill="#000"/><rect x="558.8" y="130.9" width="5.5" height="5.5" fill="#000"/><rect x="560.1" y="129.0" width="5.5" height="5.5" fill="#000"/><rect x="561.5" y="127.0" width="5.5" height="5.5" fill="#000"/><rect x="562.9" y="125.1" width="5.5" height="5.5" fill="#000"/><rect x="564.4" y="123.2" width="5.5" height="5.5" fill="#000"/><rect x="566.0" y="121.4" width="5.5" height="5.5" fill="#000"/><rect x="567.5" y="119.5" width="5.5" height="5.5" fill="#000"/><rect x="569.1" y="117.7" width="5.5" height="5.5" fill="#000"/><rect x="570.7" y="115.9" width="5.5" height="5.5" fill="#000"/><rect x="572.4" y="114.2" width="5.5" height="5.5" fill="#000"/><rect x="574.1" y="112.5" width="5.5" height="5.5" fill="#000"/><rect x="575.8" y="110.8" width="5.5" height="5.5" fill="#000"/><rect x="577.5" y="109.1" width="5.5" height="5.5" fill="#000"/><rect x="579.2" y="107.4" width="5.5" height="5.5" fill="#000"/><rect x="581.0" y="105.8" width="5.5" height="5.5" fill="#000"/><rect x="582.9" y="104.5" width="5.5" height="5.5" fill="#000"/><rect x="584.9" y="103.1" width="5.5" height="5.5" fill="#000"/><rect x="586.8" y="101.7" width="5.5" height="5.5" fill="#000"/><rect x="588.8" y="100.3" width="5.5" height="5.5" fill="#000"/><rect x="590.7" y="98.9" width="5.5" height="5.5" fill="#000"/><rect x="592.6" y="97.3" width="5.5" height="5.5" fill="#000"/><rect x="594.4" y="95.8" width="5.5" height="5.5" fill="#000"/><rect x="596.2" y="94.2" width="5.5" height="5.5" fill="#000"/><rect x="598.1" y="92.7" width="5.5" height="5.5" fill="#000"/><rect x="599.9" y="91.1" width="5.5" height="5.5" fill="#000"/><rect x="601.6" y="89.4" width="5.5" height="5.5" fill="#000"/><rect x="603.3" y="87.7" width="5.5" height="5.5" fill="#000"/><rect x="605.0" y="86.0" width="5.5" height="5.5" fill="#000"/><rect x="606.7" y="84.3" width="5.5" height="5.5" fill="#000"/><rect x="608.2" y="82.5" width="5.5" height="5.5" fill="#000"/><rect x="609.7" y="80.6" width="5.5" height="5.5" fill="#000"/><rect x="611.2" y="78.8" width="5.5" height="5.5" fill="#000"/><rect x="612.7" y="76.9" width="5.5" height="5.5" fill="#000"/><rect x="614.1" y="74.9" width="5.5" height="5.5" fill="#000"/><rect x="615.5" y="72.9" width="5.5" height="5.5" fill="#000"/><rect x="616.8" y="70.9" width="5.5" height="5.5" fill="#000"/><rect x="618.1" y="69.0" width="5.5" height="5.5" fill="#000"/><rect x="619.4" y="67.0" width="5.5" height="5.5" fill="#000"/><rect x="620.8" y="65.0" width="5.5" height="5.5" fill="#000"/><rect x="622.1" y="63.0" width="5.5" height="5.5" fill="#000"/><rect x="623.5" y="61.0" width="5.5" height="5.5" fill="#000"/><rect x="624.8" y="59.0" width="5.5" height="5.5" fill="#000"/><rect x="626.3" y="57.1" width="5.5" height="5.5" fill="#000"/><rect x="627.8" y="55.2" width="5.5" height="5.5" fill="#000"/><rect x="629.3" y="53.3" width="5.5" height="5.5" fill="#000"/><rect x="630.8" y="51.5" width="5.5" height="5.5" fill="#000"/><rect x="632.3" y="49.6" width="5.5" height="5.5" fill="#000"/><rect x="633.9" y="47.9" width="5.5" height="5.5" fill="#000"/><rect x="635.5" y="46.1" width="5.5" height="5.5" fill="#000"/><rect x="637.1" y="44.3" width="5.5" height="5.5" fill="#000"/><rect x="639.1" y="42.9" width="5.5" height="5.5" fill="#000"/><rect x="641.1" y="41.6" width="5.5" height="5.5" fill="#000"/><rect x="643.1" y="40.2" width="5.5" height="5.5" fill="#000"/><rect x="645.1" y="38.9" width="5.5" height="5.5" fill="#000"/><rect x="647.1" y="37.7" width="5.5" height="5.5" fill="#000"/><rect x="649.4" y="36.8" width="5.5" height="5.5" fill="#000"/><rect x="651.6" y="35.8" width="5.5" height="5.5" fill="#000"/><rect x="653.8" y="34.9" width="5.5" height="5.5" fill="#000"/><rect x="656.0" y="34.1" width="5.5" height="5.5" fill="#000"/><rect x="658.4" y="33.8" width="5.5" height="5.5" fill="#000"/><rect x="660.8" y="33.5" width="5.5" height="5.5" fill="#000"/><rect x="663.2" y="33.1" width="5.5" height="5.5" fill="#000"/><rect x="665.5" y="32.8" width="5.5" height="5.5" fill="#000"/><rect x="667.9" y="32.4" width="5.5" height="5.5" fill="#000"/><rect x="670.3" y="32.1" width="5.5" height="5.5" fill="#000"/><rect x="672.7" y="31.9" width="5.5" height="5.5" fill="#000"/><rect x="675.1" y="31.7" width="5.5" height="5.5" fill="#000"/><rect x="677.5" y="31.5" width="5.5" height="5.5" fill="#000"/><rect x="679.9" y="31.3" width="5.5" height="5.5" fill="#000"/><rect x="682.2" y="31.1" width="5.5" height="5.5" fill="#000"/><rect x="684.6" y="30.9" width="5.5" height="5.5" fill="#000"/><rect x="687.0" y="30.7" width="5.5" height="5.5" fill="#000"/><rect x="688.4" y="29.1" width="5.5" height="5.5" fill="#000"/><rect x="686.0" y="29.2" width="5.5" height="5.5" fill="#000"/><rect x="683.6" y="29.4" width="5.5" height="5.5" fill="#000"/><rect x="681.2" y="29.6" width="5.5" height="5.5" fill="#000"/><rect x="678.8" y="29.8" width="5.5" height="5.5" fill="#000"/><rect x="676.4" y="30.0" width="5.5" height="5.5" fill="#000"/><rect x="674.0" y="30.2" width="5.5" height="5.5" fill="#000"/><rect x="671.6" y="30.4" width="5.5" height="5.5" fill="#000"/><rect x="669.2" y="30.7" width="5.5" height="5.5" fill="#000"/><rect x="666.8" y="30.9" width="5.5" height="5.5" fill="#000"/><rect x="664.4" y="31.1" width="5.5" height="5.5" fill="#000"/><rect x="662.1" y="31.4" width="5.5" height="5.5" fill="#000"/><rect x="659.7" y="31.6" width="5.5" height="5.5" fill="#000"/><rect x="657.3" y="31.9" width="5.5" height="5.5" fill="#000"/><rect x="654.9" y="32.1" width="5.5" height="5.5" fill="#000"/><rect x="652.5" y="32.3" width="5.5" height="5.5" fill="#000"/><rect x="650.1" y="32.6" width="5.5" height="5.5" fill="#000"/><rect x="647.7" y="32.8" width="5.5" height="5.5" fill="#000"/><rect x="645.3" y="33.1" width="5.5" height="5.5" fill="#000"/><rect x="642.9" y="33.3" width="5.5" height="5.5" fill="#000"/><rect x="640.6" y="33.5" width="5.5" height="5.5" fill="#000"/><rect x="638.2" y="33.7" width="5.5" height="5.5" fill="#000"/><rect x="635.8" y="33.9" width="5.5" height="5.5" fill="#000"/><rect x="633.4" y="34.1" width="5.5" height="5.5" fill="#000"/><rect x="631.0" y="34.3" width="5.5" height="5.5" fill="#000"/><rect x="628.6" y="34.5" width="5.5" height="5.5" fill="#000"/><rect x="626.2" y="35.0" width="5.5" height="5.5" fill="#000"/><rect x="623.9" y="35.4" width="5.5" height="5.5" fill="#000"/><rect x="621.5" y="35.9" width="5.5" height="5.5" fill="#000"/><path d="M623.5 38.8 L618.3 60.3 L613.0 82.0" fill="none" stroke="#000" stroke-width="0.8"/><rect x="615.5" y="57.5" width="5.5" height="5.5" fill="#000"/></g><text x="598.5" y="58.5" fill="#000" font-size="18">E</text><text x="605.0" y="114.0" fill="#0000f5" font-size="18">F</text><text x="629.0" y="149.0" fill="#ee0000" font-size="18">G</text><path d="M797.5 242.0v4.0M797.5 24.4v4.0M831.6 242.0v4.0M831.6 24.4v4.0M865.8 242.0v4.0M865.8 24.4v4.0M899.9 242.0v4.0M899.9 24.4v4.0M934.0 242.0v4.0M934.0 24.4v4.0M814.6 242.0v2.2M814.6 24.4v2.2M848.7 242.0v2.2M848.7 24.4v2.2M882.8 242.0v2.2M882.8 24.4v2.2M916.9 242.0v2.2M916.9 24.4v2.2M797.5 239.3h-4.0M934.0 239.3h-4.0M797.5 210.6h-4.0M934.0 210.6h-4.0M797.5 182.0h-4.0M934.0 182.0h-4.0M797.5 153.3h-4.0M934.0 153.3h-4.0M797.5 124.7h-4.0M934.0 124.7h-4.0M797.5 96.0h-4.0M934.0 96.0h-4.0M797.5 67.4h-4.0M934.0 67.4h-4.0M797.5 38.7h-4.0M934.0 38.7h-4.0M797.5 225.0h-2.2M934.0 225.0h-2.2M797.5 196.3h-2.2M934.0 196.3h-2.2M797.5 167.7h-2.2M934.0 167.7h-2.2M797.5 139.0h-2.2M934.0 139.0h-2.2M797.5 110.3h-2.2M934.0 110.3h-2.2M797.5 81.7h-2.2M934.0 81.7h-2.2M797.5 53.0h-2.2M934.0 53.0h-2.2M797.5 24.4h-2.2M934.0 24.4h-2.2" stroke="#000" stroke-width="1.3" fill="none"/><rect x="797.5" y="24.4" width="136.5" height="217.6" fill="none" stroke="#000" stroke-width="1.6"/><text x="797.5" y="267.6" text-anchor="middle">2</text><text x="831.6" y="267.6" text-anchor="middle">6</text><text x="865.8" y="267.6" text-anchor="middle">10</text><text x="899.9" y="267.6" text-anchor="middle">14</text><text x="934.0" y="267.6" text-anchor="middle">18</text><text x="788.5" y="245.7" text-anchor="end">0.0</text><text x="788.5" y="217.0" text-anchor="end">0.2</text><text x="788.5" y="188.4" text-anchor="end">0.4</text><text x="788.5" y="159.7" text-anchor="end">0.6</text><text x="788.5" y="131.1" text-anchor="end">0.8</text><text x="788.5" y="102.4" text-anchor="end">1.0</text><text x="788.5" y="73.8" text-anchor="end">1.2</text><text x="788.5" y="45.1" text-anchor="end">1.4</text><text transform="translate(732.7,142.8) rotate(-90)" text-anchor="middle" font-size="18">d<tspan font-style="italic">V</tspan>/d<tspan font-style="italic">w</tspan> (cm<tspan dy="-7.6" font-size="12.4">3</tspan><tspan dy="7.6"> g<tspan dy="-7.6" font-size="12.4">−1</tspan><tspan dy="7.6"> nm<tspan dy="-7.6" font-size="12.4">−1</tspan><tspan dy="7.6">)</tspan></tspan></tspan></text><text x="863.5" y="294.5" text-anchor="middle" font-size="18">Pore width (nm)</text><text x="718.0" y="22.6" font-weight="bold" font-size="27">d</text><g clip-path="url(#cd)"><path d="M798.3 212.1 L798.8 216.6 L799.5 221.1 L801.8 226.3 L804.0 228.6 L807.0 227.1 L810.0 224.1 L813.0 219.6 L816.0 212.8 L819.8 203.1 L824.3 194.0 L826.5 185.8 L829.5 178.3 L831.8 169.3 L834.0 161.0 L835.5 157.3 L838.5 147.5 L840.0 136.3 L843.8 130.8 L844.5 124.1 L846.8 118.1 L848.3 115.1 L849.0 104.6 L851.3 106.8 L852.0 92.5 L854.3 91.8 L855.0 82.0 L858.8 69.3 L864.3 58.8 L868.9 60.6 L872.8 68.5 L877.6 74.5 L882.1 92.5 L887.8 109.1 L893.3 131.8 L900.1 159.5 L907.6 183.5 L916.6 202.3 L927.1 223.3 L936.0 226.0" fill="none" stroke="#ee0000" stroke-width="0.9"/><circle cx="798.3" cy="212.1" r="3.2" fill="url(#sg)"/><circle cx="798.8" cy="216.6" r="3.2" fill="url(#sg)"/><circle cx="799.5" cy="221.1" r="3.2" fill="url(#sg)"/><circle cx="801.8" cy="226.3" r="3.2" fill="url(#sg)"/><circle cx="804.0" cy="228.6" r="3.2" fill="url(#sg)"/><circle cx="807.0" cy="227.1" r="3.2" fill="url(#sg)"/><circle cx="810.0" cy="224.1" r="3.2" fill="url(#sg)"/><circle cx="813.0" cy="219.6" r="3.2" fill="url(#sg)"/><circle cx="816.0" cy="212.8" r="3.2" fill="url(#sg)"/><circle cx="819.8" cy="203.1" r="3.2" fill="url(#sg)"/><circle cx="824.3" cy="194.0" r="3.2" fill="url(#sg)"/><circle cx="826.5" cy="185.8" r="3.2" fill="url(#sg)"/><circle cx="829.5" cy="178.3" r="3.2" fill="url(#sg)"/><circle cx="831.8" cy="169.3" r="3.2" fill="url(#sg)"/><circle cx="834.0" cy="161.0" r="3.2" fill="url(#sg)"/><circle cx="835.5" cy="157.3" r="3.2" fill="url(#sg)"/><circle cx="838.5" cy="147.5" r="3.2" fill="url(#sg)"/><circle cx="840.0" cy="136.3" r="3.2" fill="url(#sg)"/><circle cx="843.8" cy="130.8" r="3.2" fill="url(#sg)"/><circle cx="844.5" cy="124.1" r="3.2" fill="url(#sg)"/><circle cx="846.8" cy="118.1" r="3.2" fill="url(#sg)"/><circle cx="848.3" cy="115.1" r="3.2" fill="url(#sg)"/><circle cx="849.0" cy="104.6" r="3.2" fill="url(#sg)"/><circle cx="851.3" cy="106.8" r="3.2" fill="url(#sg)"/><circle cx="852.0" cy="92.5" r="3.2" fill="url(#sg)"/><circle cx="854.3" cy="91.8" r="3.2" fill="url(#sg)"/><circle cx="855.0" cy="82.0" r="3.2" fill="url(#sg)"/><circle cx="858.8" cy="69.3" r="3.2" fill="url(#sg)"/><circle cx="864.3" cy="58.8" r="3.2" fill="url(#sg)"/><circle cx="868.9" cy="60.6" r="3.2" fill="url(#sg)"/><circle cx="872.8" cy="68.5" r="3.2" fill="url(#sg)"/><circle cx="877.6" cy="74.5" r="3.2" fill="url(#sg)"/><circle cx="882.1" cy="92.5" r="3.2" fill="url(#sg)"/><circle cx="887.8" cy="109.1" r="3.2" fill="url(#sg)"/><circle cx="893.3" cy="131.8" r="3.2" fill="url(#sg)"/><circle cx="900.1" cy="159.5" r="3.2" fill="url(#sg)"/><circle cx="907.6" cy="183.5" r="3.2" fill="url(#sg)"/><circle cx="916.6" cy="202.3" r="3.2" fill="url(#sg)"/><circle cx="927.1" cy="223.3" r="3.2" fill="url(#sg)"/><circle cx="802.5" cy="227.8" r="3.2" fill="url(#sg)"/><circle cx="799.0" cy="218.5" r="3.2" fill="url(#sg)"/><circle cx="805.5" cy="228.5" r="3.2" fill="url(#sg)"/><path d="M798.8 180.5 L801.0 177.5 L801.8 170.0 L798.0 162.5 L805.5 161.0 L806.3 153.5 L807.8 138.5 L810.0 119.6 L812.7 102.3 L816.0 92.5 L819.0 94.8 L823.8 110.3 L826.2 125.6 L828.8 142.3 L831.0 158.0 L834.3 171.5 L835.5 177.5 L837.5 185.8 L839.3 191.0 L840.0 197.0 L841.5 203.1 L843.8 207.6 L846.8 212.1 L851.3 215.1 L859.3 218.8 L864.6 221.5 L868.8 224.1 L873.1 226.2 L877.3 228.3 L882.6 230.5 L887.9 233.1 L893.1 235.2 L899.5 236.3 L907.9 236.8 L917.5 237.3 L936.0 237.5" fill="none" stroke="#000" stroke-width="0.9"/><rect x="796.0" y="177.8" width="5.5" height="5.5" fill="#000"/><rect x="798.2" y="174.8" width="5.5" height="5.5" fill="#000"/><rect x="799.0" y="167.2" width="5.5" height="5.5" fill="#000"/><rect x="795.2" y="159.8" width="5.5" height="5.5" fill="#000"/><rect x="802.8" y="158.2" width="5.5" height="5.5" fill="#000"/><rect x="803.5" y="150.8" width="5.5" height="5.5" fill="#000"/><rect x="805.0" y="135.8" width="5.5" height="5.5" fill="#000"/><rect x="807.2" y="116.8" width="5.5" height="5.5" fill="#000"/><rect x="810.0" y="99.5" width="5.5" height="5.5" fill="#000"/><rect x="813.2" y="89.8" width="5.5" height="5.5" fill="#000"/><rect x="816.2" y="92.0" width="5.5" height="5.5" fill="#000"/><rect x="821.0" y="107.5" width="5.5" height="5.5" fill="#000"/><rect x="823.5" y="122.8" width="5.5" height="5.5" fill="#000"/><rect x="826.0" y="139.6" width="5.5" height="5.5" fill="#000"/><rect x="828.2" y="155.2" width="5.5" height="5.5" fill="#000"/><rect x="831.5" y="168.8" width="5.5" height="5.5" fill="#000"/><rect x="832.8" y="174.8" width="5.5" height="5.5" fill="#000"/><rect x="834.8" y="183.1" width="5.5" height="5.5" fill="#000"/><rect x="836.5" y="188.2" width="5.5" height="5.5" fill="#000"/><rect x="837.2" y="194.2" width="5.5" height="5.5" fill="#000"/><rect x="838.8" y="200.3" width="5.5" height="5.5" fill="#000"/><rect x="841.0" y="204.8" width="5.5" height="5.5" fill="#000"/><rect x="844.0" y="209.3" width="5.5" height="5.5" fill="#000"/><rect x="848.5" y="212.3" width="5.5" height="5.5" fill="#000"/><rect x="856.5" y="216.1" width="5.5" height="5.5" fill="#000"/><rect x="861.9" y="218.8" width="5.5" height="5.5" fill="#000"/><rect x="866.0" y="221.3" width="5.5" height="5.5" fill="#000"/><rect x="870.4" y="223.4" width="5.5" height="5.5" fill="#000"/><rect x="874.5" y="225.6" width="5.5" height="5.5" fill="#000"/><rect x="879.9" y="227.8" width="5.5" height="5.5" fill="#000"/><rect x="885.1" y="230.3" width="5.5" height="5.5" fill="#000"/><rect x="890.4" y="232.4" width="5.5" height="5.5" fill="#000"/><rect x="896.8" y="233.6" width="5.5" height="5.5" fill="#000"/><rect x="905.1" y="234.1" width="5.5" height="5.5" fill="#000"/><rect x="914.8" y="234.6" width="5.5" height="5.5" fill="#000"/><rect x="833.8" y="187.2" width="5.5" height="5.5" fill="#000"/><rect x="835.2" y="192.2" width="5.5" height="5.5" fill="#000"/><rect x="837.8" y="197.8" width="5.5" height="5.5" fill="#000"/><rect x="839.8" y="202.8" width="5.5" height="5.5" fill="#000"/><rect x="842.2" y="207.2" width="5.5" height="5.5" fill="#000"/><rect x="845.8" y="210.8" width="5.5" height="5.5" fill="#000"/><rect x="851.8" y="214.2" width="5.5" height="5.5" fill="#000"/><rect x="854.0" y="215.2" width="5.5" height="5.5" fill="#000"/><path d="M798.0 189.5 L798.0 200.1 L801.8 201.6 L805.5 198.6 L807.8 191.0 L810.0 179.0 L813.0 156.5 L816.8 127.1 L819.8 88.0 L823.5 61.0 L827.3 45.3 L829.5 44.5 L831.8 52.0 L834.8 53.5 L835.2 70.0 L837.8 79.8 L838.8 88.0 L839.7 98.6 L840.8 106.1 L842.3 124.8 L843.8 134.0 L844.5 143.0 L845.7 152.0 L846.8 160.3 L847.5 166.3 L848.3 173.0 L849.8 179.0 L851.3 182.0 L851.9 194.0 L854.6 204.0 L858.8 211.4 L865.7 216.7 L868.8 215.7 L873.1 217.2 L877.8 220.4 L883.1 223.6 L888.9 224.6 L895.3 229.4 L901.6 231.5 L909.0 233.1 L918.5 234.2 L930.1 235.7 L936.0 236.0" fill="none" stroke="#0000f5" stroke-width="0.9"/><path d="M798.0 185.5L801.5 191.5L794.5 191.5Z" fill="#0000f5"/><path d="M798.0 196.1L801.5 202.1L794.5 202.1Z" fill="#0000f5"/><path d="M801.8 197.6L805.3 203.6L798.3 203.6Z" fill="#0000f5"/><path d="M805.5 194.6L809.0 200.6L802.0 200.6Z" fill="#0000f5"/><path d="M807.8 187.0L811.3 193.0L804.3 193.0Z" fill="#0000f5"/><path d="M810.0 175.0L813.5 181.0L806.5 181.0Z" fill="#0000f5"/><path d="M813.0 152.5L816.5 158.5L809.5 158.5Z" fill="#0000f5"/><path d="M816.8 123.1L820.3 129.1L813.3 129.1Z" fill="#0000f5"/><path d="M819.8 84.0L823.3 90.0L816.3 90.0Z" fill="#0000f5"/><path d="M823.5 57.0L827.0 63.0L820.0 63.0Z" fill="#0000f5"/><path d="M827.3 41.3L830.8 47.3L823.8 47.3Z" fill="#0000f5"/><path d="M829.5 40.5L833.0 46.5L826.0 46.5Z" fill="#0000f5"/><path d="M831.8 48.0L835.3 54.0L828.3 54.0Z" fill="#0000f5"/><path d="M834.8 49.5L838.3 55.5L831.3 55.5Z" fill="#0000f5"/><path d="M835.2 66.0L838.7 72.0L831.7 72.0Z" fill="#0000f5"/><path d="M837.8 75.8L841.3 81.8L834.3 81.8Z" fill="#0000f5"/><path d="M838.8 84.0L842.3 90.0L835.3 90.0Z" fill="#0000f5"/><path d="M839.7 94.6L843.2 100.6L836.2 100.6Z" fill="#0000f5"/><path d="M840.8 102.1L844.3 108.1L837.3 108.1Z" fill="#0000f5"/><path d="M842.3 120.8L845.8 126.8L838.8 126.8Z" fill="#0000f5"/><path d="M843.8 130.0L847.3 136.0L840.3 136.0Z" fill="#0000f5"/><path d="M844.5 139.0L848.0 145.0L841.0 145.0Z" fill="#0000f5"/><path d="M845.7 148.0L849.2 154.0L842.2 154.0Z" fill="#0000f5"/><path d="M846.8 156.3L850.3 162.3L843.3 162.3Z" fill="#0000f5"/><path d="M847.5 162.3L851.0 168.3L844.0 168.3Z" fill="#0000f5"/><path d="M848.3 169.0L851.8 175.0L844.8 175.0Z" fill="#0000f5"/><path d="M849.8 175.0L853.3 181.0L846.3 181.0Z" fill="#0000f5"/><path d="M851.3 178.0L854.8 184.0L847.8 184.0Z" fill="#0000f5"/><path d="M851.9 190.0L855.4 196.0L848.4 196.0Z" fill="#0000f5"/><path d="M854.6 200.0L858.1 206.0L851.1 206.0Z" fill="#0000f5"/><path d="M858.8 207.4L862.3 213.4L855.3 213.4Z" fill="#0000f5"/><path d="M865.7 212.7L869.2 218.7L862.2 218.7Z" fill="#0000f5"/><path d="M868.8 211.7L872.3 217.7L865.3 217.7Z" fill="#0000f5"/><path d="M873.1 213.2L876.6 219.2L869.6 219.2Z" fill="#0000f5"/><path d="M877.8 216.4L881.3 222.4L874.3 222.4Z" fill="#0000f5"/><path d="M883.1 219.6L886.6 225.6L879.6 225.6Z" fill="#0000f5"/><path d="M888.9 220.6L892.4 226.6L885.4 226.6Z" fill="#0000f5"/><path d="M895.3 225.4L898.8 231.4L891.8 231.4Z" fill="#0000f5"/><path d="M901.6 227.5L905.1 233.5L898.1 233.5Z" fill="#0000f5"/><path d="M909.0 229.1L912.5 235.1L905.5 235.1Z" fill="#0000f5"/><path d="M918.5 230.2L922.0 236.2L915.0 236.2Z" fill="#0000f5"/><path d="M930.1 231.7L933.6 237.7L926.6 237.7Z" fill="#0000f5"/><path d="M799.5 197.5L803.0 203.5L796.0 203.5Z" fill="#0000f5"/><path d="M803.5 196.5L807.0 202.5L800.0 202.5Z" fill="#0000f5"/></g><text x="802.0" y="89.0" fill="#000" font-size="18">E</text><text x="832.5" y="43.5" fill="#0000f5" font-size="18">F</text><text x="863.3" y="52.0" fill="#ee0000" font-size="18">G</text><path d="M83.5 555.4v4.0M83.5 337.0v4.0M122.4 555.4v4.0M122.4 337.0v4.0M161.2 555.4v4.0M161.2 337.0v4.0M200.1 555.4v4.0M200.1 337.0v4.0M102.9 555.4v2.2M102.9 337.0v2.2M141.8 555.4v2.2M141.8 337.0v2.2M180.7 555.4v2.2M180.7 337.0v2.2M80.9 555.4h-4.0M215.7 555.4h-4.0M80.9 521.8h-4.0M215.7 521.8h-4.0M80.9 488.2h-4.0M215.7 488.2h-4.0M80.9 454.5h-4.0M215.7 454.5h-4.0M80.9 420.9h-4.0M215.7 420.9h-4.0M80.9 387.3h-4.0M215.7 387.3h-4.0M80.9 353.7h-4.0M215.7 353.7h-4.0M80.9 538.6h-2.2M215.7 538.6h-2.2M80.9 505.0h-2.2M215.7 505.0h-2.2M80.9 471.4h-2.2M215.7 471.4h-2.2M80.9 437.7h-2.2M215.7 437.7h-2.2M80.9 404.1h-2.2M215.7 404.1h-2.2M80.9 370.5h-2.2M215.7 370.5h-2.2M80.9 336.9h-2.2M215.7 336.9h-2.2" stroke="#000" stroke-width="1.3" fill="none"/><rect x="80.9" y="337.0" width="134.8" height="218.4" fill="none" stroke="#000" stroke-width="1.6"/><text x="83.5" y="582.4" text-anchor="middle">0.0</text><text x="122.4" y="582.4" text-anchor="middle">0.3</text><text x="161.2" y="582.4" text-anchor="middle">0.6</text><text x="200.1" y="582.4" text-anchor="middle">0.9</text><text x="71.9" y="561.8" text-anchor="end">0.0</text><text x="71.9" y="528.2" text-anchor="end">0.4</text><text x="71.9" y="494.6" text-anchor="end">0.8</text><text x="71.9" y="460.9" text-anchor="end">1.2</text><text x="71.9" y="427.3" text-anchor="end">1.6</text><text x="71.9" y="393.7" text-anchor="end">2.0</text><text x="71.9" y="360.1" text-anchor="end">2.4</text><text transform="translate(23.4,453.4) rotate(-90)" text-anchor="middle" font-size="18">CO<tspan dy="5.1" font-size="12.4">2</tspan><tspan dy="-5.1"> adsorbed (mmol g<tspan dy="-7.6" font-size="12.4">−1</tspan><tspan dy="7.6">)</tspan></tspan></text><text x="125.5" y="610.7" text-anchor="start" font-size="18"><tspan font-style="italic">P/P</tspan><tspan dy="5.5" font-size="12.4">O</tspan></text><text x="-0.8" y="338.7" font-weight="bold" font-size="27">e</text><g clip-path="url(#ce)"><path d="M83.7 549.0 L84.6 540.4 L85.6 531.5 L87.2 519.6 L90.1 502.1 L93.3 488.4 L96.9 477.2 L96.2 473.4 L99.7 469.3 L102.8 460.8 L106.0 453.4 L108.6 446.4 L109.2 443.2 L112.4 440.6 L117.0 432.6 L123.0 422.1 L129.0 413.8 L135.0 404.8 L142.5 397.3 L148.5 389.8 L156.1 384.5 L162.1 379.3 L168.1 374.8 L174.1 368.8 L186.1 360.5 L198.1 353.0 L207.1 348.5 L213.8 345.5" fill="none" stroke="#ee0000" stroke-width="0.9"/><polygon points="83.7,545.4 84.6,547.8 87.1,547.9 85.1,549.5 85.8,551.9 83.7,550.5 81.6,551.9 82.3,549.5 80.3,547.9 82.8,547.8" fill="#ee0000"/><polygon points="84.6,536.8 85.5,539.2 88.0,539.3 86.0,540.9 86.7,543.3 84.6,541.9 82.5,543.3 83.2,540.9 81.2,539.3 83.7,539.2" fill="#ee0000"/><polygon points="85.6,527.9 86.5,530.3 89.0,530.4 87.0,532.0 87.7,534.4 85.6,533.0 83.5,534.4 84.2,532.0 82.2,530.4 84.7,530.3" fill="#ee0000"/><polygon points="87.2,516.0 88.1,518.4 90.6,518.5 88.6,520.1 89.3,522.5 87.2,521.1 85.1,522.5 85.8,520.1 83.8,518.5 86.3,518.4" fill="#ee0000"/><polygon points="90.1,498.5 91.0,500.9 93.5,501.0 91.5,502.6 92.2,505.0 90.1,503.6 88.0,505.0 88.7,502.6 86.7,501.0 89.2,500.9" fill="#ee0000"/><polygon points="93.3,484.8 94.2,487.2 96.7,487.3 94.7,488.9 95.4,491.3 93.3,489.9 91.2,491.3 91.9,488.9 89.9,487.3 92.4,487.2" fill="#ee0000"/><polygon points="96.9,473.6 97.8,476.0 100.3,476.1 98.3,477.7 99.0,480.1 96.9,478.7 94.8,480.1 95.5,477.7 93.5,476.1 96.0,476.0" fill="#ee0000"/><polygon points="96.2,469.8 97.1,472.2 99.6,472.3 97.6,473.9 98.3,476.3 96.2,474.9 94.1,476.3 94.8,473.9 92.8,472.3 95.3,472.2" fill="#ee0000"/><polygon points="99.7,465.7 100.6,468.1 103.1,468.2 101.1,469.8 101.8,472.2 99.7,470.8 97.6,472.2 98.3,469.8 96.3,468.2 98.8,468.1" fill="#ee0000"/><polygon points="102.8,457.2 103.7,459.6 106.2,459.7 104.2,461.3 104.9,463.7 102.8,462.3 100.7,463.7 101.4,461.3 99.4,459.7 101.9,459.6" fill="#ee0000"/><polygon points="106.0,449.8 106.9,452.2 109.4,452.3 107.4,453.9 108.1,456.3 106.0,454.9 103.9,456.3 104.6,453.9 102.6,452.3 105.1,452.2" fill="#ee0000"/><polygon points="108.6,442.8 109.5,445.2 112.0,445.3 110.0,446.9 110.7,449.3 108.6,447.9 106.5,449.3 107.2,446.9 105.2,445.3 107.7,445.2" fill="#ee0000"/><polygon points="109.2,439.6 110.1,442.0 112.6,442.1 110.6,443.7 111.3,446.1 109.2,444.7 107.1,446.1 107.8,443.7 105.8,442.1 108.3,442.0" fill="#ee0000"/><polygon points="112.4,437.0 113.3,439.4 115.8,439.5 113.8,441.1 114.5,443.5 112.4,442.1 110.3,443.5 111.0,441.1 109.0,439.5 111.5,439.4" fill="#ee0000"/><polygon points="112.4,436.9 113.3,439.3 115.9,439.5 113.9,441.1 114.6,443.6 112.4,442.2 110.2,443.6 110.9,441.1 108.9,439.5 111.5,439.3" fill="#ee0000"/><polygon points="114.3,433.5 115.3,436.0 117.9,436.1 115.8,437.7 116.5,440.2 114.3,438.8 112.2,440.2 112.9,437.7 110.8,436.1 113.4,436.0" fill="#ee0000"/><polygon points="116.3,430.1 117.2,432.6 119.8,432.7 117.8,434.3 118.5,436.8 116.3,435.4 114.1,436.8 114.8,434.3 112.8,432.7 115.4,432.6" fill="#ee0000"/><polygon points="118.2,426.8 119.1,429.2 121.7,429.3 119.7,430.9 120.4,433.4 118.2,432.0 116.1,433.4 116.7,430.9 114.7,429.3 117.3,429.2" fill="#ee0000"/><polygon points="120.2,423.4 121.1,425.8 123.7,425.9 121.6,427.5 122.3,430.1 120.2,428.6 118.0,430.1 118.7,427.5 116.6,425.9 119.2,425.8" fill="#ee0000"/><polygon points="122.1,420.0 123.0,422.4 125.6,422.5 123.6,424.2 124.3,426.7 122.1,425.2 119.9,426.7 120.6,424.2 118.6,422.5 121.2,422.4" fill="#ee0000"/><polygon points="124.2,416.7 125.1,419.2 127.7,419.3 125.7,420.9 126.4,423.4 124.2,422.0 122.0,423.4 122.7,420.9 120.7,419.3 123.3,419.2" fill="#ee0000"/><polygon points="126.5,413.6 127.4,416.0 130.0,416.1 128.0,417.7 128.7,420.2 126.5,418.8 124.3,420.2 125.0,417.7 123.0,416.1 125.6,416.0" fill="#ee0000"/><polygon points="128.8,410.4 129.7,412.8 132.3,413.0 130.3,414.6 131.0,417.1 128.8,415.6 126.6,417.1 127.3,414.6 125.3,413.0 127.9,412.8" fill="#ee0000"/><polygon points="131.0,407.2 131.9,409.6 134.5,409.7 132.4,411.3 133.1,413.9 131.0,412.4 128.8,413.9 129.5,411.3 127.4,409.7 130.0,409.6" fill="#ee0000"/><polygon points="133.1,403.9 134.0,406.4 136.6,406.5 134.6,408.1 135.3,410.6 133.1,409.2 131.0,410.6 131.6,408.1 129.6,406.5 132.2,406.4" fill="#ee0000"/><polygon points="135.4,400.7 136.3,403.2 138.9,403.3 136.8,404.9 137.5,407.4 135.4,406.0 133.2,407.4 133.9,404.9 131.8,403.3 134.5,403.2" fill="#ee0000"/><polygon points="138.1,398.0 139.0,400.4 141.6,400.5 139.6,402.2 140.3,404.7 138.1,403.2 136.0,404.7 136.6,402.2 134.6,400.5 137.2,400.4" fill="#ee0000"/><polygon points="140.9,395.2 141.8,397.7 144.4,397.8 142.4,399.4 143.1,401.9 140.9,400.5 138.7,401.9 139.4,399.4 137.4,397.8 140.0,397.7" fill="#ee0000"/><polygon points="143.5,392.3 144.4,394.8 147.0,394.9 145.0,396.5 145.7,399.0 143.5,397.6 141.3,399.0 142.0,396.5 140.0,394.9 142.6,394.8" fill="#ee0000"/><polygon points="145.9,389.3 146.9,391.7 149.5,391.9 147.4,393.5 148.1,396.0 145.9,394.5 143.8,396.0 144.5,393.5 142.4,391.9 145.0,391.7" fill="#ee0000"/><polygon points="148.4,386.2 149.3,388.7 151.9,388.8 149.9,390.4 150.6,392.9 148.4,391.5 146.2,392.9 146.9,390.4 144.9,388.8 147.5,388.7" fill="#ee0000"/><polygon points="151.5,384.0 152.5,386.4 155.1,386.5 153.0,388.2 153.7,390.7 151.5,389.2 149.4,390.7 150.1,388.2 148.0,386.5 150.6,386.4" fill="#ee0000"/><polygon points="154.7,381.7 155.7,384.2 158.3,384.3 156.2,385.9 156.9,388.4 154.7,387.0 152.6,388.4 153.3,385.9 151.2,384.3 153.8,384.2" fill="#ee0000"/><polygon points="157.8,379.3 158.7,381.8 161.3,381.9 159.3,383.5 160.0,386.0 157.8,384.6 155.6,386.0 156.3,383.5 154.3,381.9 156.9,381.8" fill="#ee0000"/><polygon points="160.7,376.8 161.7,379.2 164.3,379.3 162.2,381.0 162.9,383.5 160.7,382.0 158.6,383.5 159.3,381.0 157.2,379.3 159.8,379.2" fill="#ee0000"/><polygon points="163.8,374.3 164.7,376.8 167.3,376.9 165.3,378.5 166.0,381.0 163.8,379.6 161.6,381.0 162.3,378.5 160.3,376.9 162.9,376.8" fill="#ee0000"/><polygon points="166.9,372.0 167.8,374.4 170.4,374.6 168.4,376.2 169.1,378.7 166.9,377.3 164.7,378.7 165.4,376.2 163.4,374.6 166.0,374.4" fill="#ee0000"/><polygon points="169.8,369.4 170.7,371.8 173.3,372.0 171.3,373.6 172.0,376.1 169.8,374.7 167.6,376.1 168.3,373.6 166.3,372.0 168.9,371.8" fill="#ee0000"/><polygon points="172.6,366.6 173.5,369.1 176.1,369.2 174.0,370.8 174.7,373.3 172.6,371.9 170.4,373.3 171.1,370.8 169.0,369.2 171.6,369.1" fill="#ee0000"/><polygon points="175.5,364.1 176.4,366.6 179.0,366.7 177.0,368.3 177.7,370.8 175.5,369.4 173.3,370.8 174.0,368.3 172.0,366.7 174.6,366.6" fill="#ee0000"/><polygon points="178.7,361.9 179.6,364.3 182.2,364.5 180.2,366.1 180.9,368.6 178.7,367.2 176.5,368.6 177.2,366.1 175.2,364.5 177.8,364.3" fill="#ee0000"/><polygon points="181.9,359.7 182.8,362.1 185.4,362.2 183.4,363.9 184.1,366.4 181.9,364.9 179.8,366.4 180.5,363.9 178.4,362.2 181.0,362.1" fill="#ee0000"/><polygon points="185.1,357.5 186.0,359.9 188.7,360.0 186.6,361.6 187.3,364.2 185.1,362.7 183.0,364.2 183.7,361.6 181.6,360.0 184.2,359.9" fill="#ee0000"/><polygon points="188.4,355.4 189.3,357.8 191.9,357.9 189.9,359.5 190.6,362.0 188.4,360.6 186.2,362.0 186.9,359.5 184.9,357.9 187.5,357.8" fill="#ee0000"/><polygon points="191.7,353.3 192.6,355.7 195.2,355.8 193.2,357.5 193.9,360.0 191.7,358.5 189.5,360.0 190.2,357.5 188.2,355.8 190.8,355.7" fill="#ee0000"/><polygon points="195.0,351.2 195.9,353.7 198.5,353.8 196.5,355.4 197.2,357.9 195.0,356.5 192.9,357.9 193.5,355.4 191.5,353.8 194.1,353.7" fill="#ee0000"/><polygon points="198.3,349.2 199.3,351.6 201.9,351.7 199.8,353.4 200.5,355.9 198.3,354.4 196.2,355.9 196.9,353.4 194.8,351.7 197.4,351.6" fill="#ee0000"/><polygon points="201.8,347.4 202.7,349.9 205.4,350.0 203.3,351.6 204.0,354.1 201.8,352.7 199.7,354.1 200.4,351.6 198.3,350.0 200.9,349.9" fill="#ee0000"/><polygon points="205.3,345.7 206.2,348.1 208.8,348.2 206.8,349.9 207.5,352.4 205.3,350.9 203.1,352.4 203.8,349.9 201.8,348.2 204.4,348.1" fill="#ee0000"/><polygon points="208.8,344.0 209.8,346.5 212.4,346.6 210.3,348.2 211.0,350.7 208.8,349.3 206.7,350.7 207.4,348.2 205.3,346.6 207.9,346.5" fill="#ee0000"/><polygon points="212.4,342.4 213.3,344.9 215.9,345.0 213.9,346.6 214.6,349.1 212.4,347.7 210.2,349.1 210.9,346.6 208.9,345.0 211.5,344.9" fill="#ee0000"/></g><path d="M310.6 555.3v4.0M310.6 331.9v4.0M344.6 555.3v4.0M344.6 331.9v4.0M378.5 555.3v4.0M378.5 331.9v4.0M412.4 555.3v4.0M412.4 331.9v4.0M446.4 555.3v4.0M446.4 331.9v4.0M327.6 555.3v2.2M327.6 331.9v2.2M361.5 555.3v2.2M361.5 331.9v2.2M395.5 555.3v2.2M395.5 331.9v2.2M429.4 555.3v2.2M429.4 331.9v2.2M310.6 548.0h-4.0M446.4 548.0h-4.0M310.6 519.2h-4.0M446.4 519.2h-4.0M310.6 490.4h-4.0M446.4 490.4h-4.0M310.6 461.6h-4.0M446.4 461.6h-4.0M310.6 432.7h-4.0M446.4 432.7h-4.0M310.6 403.9h-4.0M446.4 403.9h-4.0M310.6 375.1h-4.0M446.4 375.1h-4.0M310.6 346.3h-4.0M446.4 346.3h-4.0M310.6 533.6h-2.2M446.4 533.6h-2.2M310.6 504.8h-2.2M446.4 504.8h-2.2M310.6 476.0h-2.2M446.4 476.0h-2.2M310.6 447.1h-2.2M446.4 447.1h-2.2M310.6 418.3h-2.2M446.4 418.3h-2.2M310.6 389.5h-2.2M446.4 389.5h-2.2M310.6 360.7h-2.2M446.4 360.7h-2.2M310.6 331.9h-2.2M446.4 331.9h-2.2" stroke="#000" stroke-width="1.3" fill="none"/><rect x="310.6" y="331.9" width="135.8" height="223.4" fill="none" stroke="#000" stroke-width="1.6"/><text x="310.6" y="582.3" text-anchor="middle">0.3</text><text x="344.6" y="582.3" text-anchor="middle">0.6</text><text x="378.5" y="582.3" text-anchor="middle">0.9</text><text x="412.4" y="582.3" text-anchor="middle">1.2</text><text x="446.4" y="582.3" text-anchor="middle">1.5</text><text x="301.6" y="554.4" text-anchor="end">0.0</text><text x="301.6" y="525.6" text-anchor="end">0.2</text><text x="301.6" y="496.8" text-anchor="end">0.4</text><text x="301.6" y="468.0" text-anchor="end">0.6</text><text x="301.6" y="439.1" text-anchor="end">0.8</text><text x="301.6" y="410.3" text-anchor="end">1.0</text><text x="301.6" y="381.5" text-anchor="end">1.2</text><text x="301.6" y="352.7" text-anchor="end">1.4</text><text transform="translate(258.5,455.5) rotate(-90)" text-anchor="middle" font-size="18">d<tspan font-style="italic">V</tspan>/d<tspan font-style="italic">w</tspan> (cm<tspan dy="-7.6" font-size="12.4">3</tspan><tspan dy="7.6"> g<tspan dy="-7.6" font-size="12.4">−1</tspan><tspan dy="7.6"> nm<tspan dy="-7.6" font-size="12.4">−1</tspan><tspan dy="7.6">)</tspan></tspan></tspan></text><text x="376.5" y="610.7" text-anchor="middle" font-size="18">Pore width (nm)</text><text x="234.6" y="338.2" font-weight="bold" font-size="27">f</text><g clip-path="url(#cf)"><path d="M312.8 547.8 L314.3 539.8 L316.3 348.0 L318.1 365.3 L319.7 536.5 L321.8 547.8 L323.8 547.8 L325.7 547.8 L328.6 464.8 L330.5 413.3 L333.2 411.8 L335.8 424.3 L338.8 434.8 L341.6 447.3 L344.3 468.2 L347.3 491.8 L350.8 514.0 L354.2 531.1 L357.8 536.1 L361.3 527.5 L364.7 513.9 L369.2 515.5 L373.7 524.8 L377.8 527.8 L382.8 529.8 L387.9 530.8 L393.1 531.9 L398.4 532.3 L404.1 533.1 L410.1 533.4 L416.1 533.5 L422.4 533.8 L428.8 533.8 L435.9 534.1 L443.4 534.1 L447.0 534.1" fill="none" stroke="#ee0000" stroke-width="0.9"/><circle cx="312.8" cy="547.8" r="3.2" fill="url(#sg)"/><circle cx="314.3" cy="539.8" r="3.2" fill="url(#sg)"/><circle cx="316.3" cy="348.0" r="3.2" fill="url(#sg)"/><circle cx="318.1" cy="365.3" r="3.2" fill="url(#sg)"/><circle cx="319.7" cy="536.5" r="3.2" fill="url(#sg)"/><circle cx="321.8" cy="547.8" r="3.2" fill="url(#sg)"/><circle cx="323.8" cy="547.8" r="3.2" fill="url(#sg)"/><circle cx="325.7" cy="547.8" r="3.2" fill="url(#sg)"/><circle cx="328.6" cy="464.8" r="3.2" fill="url(#sg)"/><circle cx="330.5" cy="413.3" r="3.2" fill="url(#sg)"/><circle cx="333.2" cy="411.8" r="3.2" fill="url(#sg)"/><circle cx="335.8" cy="424.3" r="3.2" fill="url(#sg)"/><circle cx="338.8" cy="434.8" r="3.2" fill="url(#sg)"/><circle cx="341.6" cy="447.3" r="3.2" fill="url(#sg)"/><circle cx="344.3" cy="468.2" r="3.2" fill="url(#sg)"/><circle cx="347.3" cy="491.8" r="3.2" fill="url(#sg)"/><circle cx="350.8" cy="514.0" r="3.2" fill="url(#sg)"/><circle cx="354.2" cy="531.1" r="3.2" fill="url(#sg)"/><circle cx="357.8" cy="536.1" r="3.2" fill="url(#sg)"/><circle cx="361.3" cy="527.5" r="3.2" fill="url(#sg)"/><circle cx="364.7" cy="513.9" r="3.2" fill="url(#sg)"/><circle cx="369.2" cy="515.5" r="3.2" fill="url(#sg)"/><circle cx="373.7" cy="524.8" r="3.2" fill="url(#sg)"/><circle cx="377.8" cy="527.8" r="3.2" fill="url(#sg)"/><circle cx="382.8" cy="529.8" r="3.2" fill="url(#sg)"/><circle cx="387.9" cy="530.8" r="3.2" fill="url(#sg)"/><circle cx="393.1" cy="531.9" r="3.2" fill="url(#sg)"/><circle cx="398.4" cy="532.3" r="3.2" fill="url(#sg)"/><circle cx="404.1" cy="533.1" r="3.2" fill="url(#sg)"/><circle cx="410.1" cy="533.4" r="3.2" fill="url(#sg)"/><circle cx="416.1" cy="533.5" r="3.2" fill="url(#sg)"/><circle cx="422.4" cy="533.8" r="3.2" fill="url(#sg)"/><circle cx="428.8" cy="533.8" r="3.2" fill="url(#sg)"/><circle cx="435.9" cy="534.1" r="3.2" fill="url(#sg)"/><circle cx="443.4" cy="534.1" r="3.2" fill="url(#sg)"/></g><path d="M559.1 555.3v4.0M559.1 339.8v4.0M597.9 555.3v4.0M597.9 339.8v4.0M636.6 555.3v4.0M636.6 339.8v4.0M675.4 555.3v4.0M675.4 339.8v4.0M578.5 555.3v2.2M578.5 339.8v2.2M617.2 555.3v2.2M617.2 339.8v2.2M656.0 555.3v2.2M656.0 339.8v2.2M556.7 552.9h-4.0M693.5 552.9h-4.0M556.7 529.9h-4.0M693.5 529.9h-4.0M556.7 506.8h-4.0M693.5 506.8h-4.0M556.7 483.8h-4.0M693.5 483.8h-4.0M556.7 460.7h-4.0M693.5 460.7h-4.0M556.7 437.7h-4.0M693.5 437.7h-4.0M556.7 414.6h-4.0M693.5 414.6h-4.0M556.7 391.6h-4.0M693.5 391.6h-4.0M556.7 368.5h-4.0M693.5 368.5h-4.0M556.7 345.5h-4.0M693.5 345.5h-4.0M556.7 541.4h-2.2M693.5 541.4h-2.2M556.7 518.3h-2.2M693.5 518.3h-2.2M556.7 495.3h-2.2M693.5 495.3h-2.2M556.7 472.2h-2.2M693.5 472.2h-2.2M556.7 449.2h-2.2M693.5 449.2h-2.2M556.7 426.2h-2.2M693.5 426.2h-2.2M556.7 403.1h-2.2M693.5 403.1h-2.2M556.7 380.1h-2.2M693.5 380.1h-2.2M556.7 357.0h-2.2M693.5 357.0h-2.2" stroke="#000" stroke-width="1.3" fill="none"/><rect x="556.7" y="339.8" width="136.8" height="215.5" fill="none" stroke="#000" stroke-width="1.6"/><text x="559.1" y="582.3" text-anchor="middle">0.0</text><text x="597.9" y="582.3" text-anchor="middle">0.3</text><text x="636.6" y="582.3" text-anchor="middle">0.6</text><text x="675.4" y="582.3" text-anchor="middle">0.9</text><text x="547.7" y="559.3" text-anchor="end">0.0</text><text x="547.7" y="536.3" text-anchor="end">0.2</text><text x="547.7" y="513.2" text-anchor="end">0.4</text><text x="547.7" y="490.2" text-anchor="end">0.6</text><text x="547.7" y="467.1" text-anchor="end">0.8</text><text x="547.7" y="444.1" text-anchor="end">1.0</text><text x="547.7" y="421.0" text-anchor="end">1.2</text><text x="547.7" y="398.0" text-anchor="end">1.4</text><text x="547.7" y="374.9" text-anchor="end">1.6</text><text x="547.7" y="351.9" text-anchor="end">1.8</text><text transform="translate(494.0,453.4) rotate(-90)" text-anchor="middle" font-size="18">CO<tspan dy="5.1" font-size="12.4">2</tspan><tspan dy="-5.1"> adsorbed (mmol g<tspan dy="-7.6" font-size="12.4">−1</tspan><tspan dy="7.6">)</tspan></tspan></text><text x="602.5" y="610.7" text-anchor="start" font-size="18"><tspan font-style="italic">P/P</tspan><tspan dy="5.5" font-size="12.4">O</tspan></text><text x="470.5" y="338.4" font-weight="bold" font-size="27">g</text><g clip-path="url(#cg)"><path d="M559.4 546.3 L560.2 538.5 L561.4 529.6 L562.6 520.8 L566.1 502.9 L569.0 491.4 L571.6 480.7 L571.6 477.6 L575.2 471.8 L578.1 464.0 L581.7 456.8 L584.5 450.3 L585.2 446.0 L590.6 441.3 L593.0 436.5 L596.6 430.5 L599.5 426.9 L602.6 422.2 L606.1 417.4 L612.1 410.9 L618.1 404.3 L625.2 397.6 L631.2 391.1 L638.4 384.4 L645.5 379.2 L651.5 373.2 L659.9 368.4 L667.0 363.2 L676.6 356.5 L683.8 351.7 L690.9 346.9" fill="none" stroke="#ee0000" stroke-width="0.9"/><polygon points="559.4,542.7 560.3,545.1 562.8,545.2 560.8,546.8 561.5,549.2 559.4,547.8 557.3,549.2 558.0,546.8 556.0,545.2 558.5,545.1" fill="#ee0000"/><polygon points="560.2,534.9 561.1,537.3 563.6,537.4 561.6,539.0 562.3,541.4 560.2,540.0 558.1,541.4 558.8,539.0 556.8,537.4 559.3,537.3" fill="#ee0000"/><polygon points="561.4,526.0 562.3,528.4 564.8,528.5 562.8,530.1 563.5,532.5 561.4,531.1 559.3,532.5 560.0,530.1 558.0,528.5 560.5,528.4" fill="#ee0000"/><polygon points="562.6,517.2 563.5,519.6 566.0,519.7 564.0,521.3 564.7,523.7 562.6,522.3 560.5,523.7 561.2,521.3 559.2,519.7 561.7,519.6" fill="#ee0000"/><polygon points="566.1,499.3 567.0,501.7 569.5,501.8 567.5,503.4 568.2,505.8 566.1,504.4 564.0,505.8 564.7,503.4 562.7,501.8 565.2,501.7" fill="#ee0000"/><polygon points="569.0,487.8 569.9,490.2 572.4,490.3 570.4,491.9 571.1,494.3 569.0,492.9 566.9,494.3 567.6,491.9 565.6,490.3 568.1,490.2" fill="#ee0000"/><polygon points="571.6,477.1 572.5,479.5 575.0,479.6 573.0,481.2 573.7,483.6 571.6,482.2 569.5,483.6 570.2,481.2 568.2,479.6 570.7,479.5" fill="#ee0000"/><polygon points="571.6,474.0 572.5,476.4 575.0,476.5 573.0,478.1 573.7,480.5 571.6,479.1 569.5,480.5 570.2,478.1 568.2,476.5 570.7,476.4" fill="#ee0000"/><polygon points="575.2,468.2 576.1,470.6 578.6,470.7 576.6,472.3 577.3,474.7 575.2,473.3 573.1,474.7 573.8,472.3 571.8,470.7 574.3,470.6" fill="#ee0000"/><polygon points="578.1,460.4 579.0,462.8 581.5,462.9 579.5,464.5 580.2,466.9 578.1,465.5 576.0,466.9 576.7,464.5 574.7,462.9 577.2,462.8" fill="#ee0000"/><polygon points="581.7,453.2 582.6,455.6 585.1,455.7 583.1,457.3 583.8,459.7 581.7,458.3 579.6,459.7 580.3,457.3 578.3,455.7 580.8,455.6" fill="#ee0000"/><polygon points="584.5,446.7 585.4,449.1 587.9,449.2 585.9,450.8 586.6,453.2 584.5,451.8 582.4,453.2 583.1,450.8 581.1,449.2 583.6,449.1" fill="#ee0000"/><polygon points="585.2,442.4 586.1,444.8 588.6,444.9 586.6,446.5 587.3,448.9 585.2,447.5 583.1,448.9 583.8,446.5 581.8,444.9 584.3,444.8" fill="#ee0000"/><polygon points="585.2,442.3 586.1,444.7 588.7,444.9 586.7,446.5 587.4,449.0 585.2,447.6 583.0,449.0 583.7,446.5 581.7,444.9 584.3,444.7" fill="#ee0000"/><polygon points="588.1,439.7 589.1,442.2 591.7,442.3 589.6,443.9 590.3,446.4 588.1,445.0 586.0,446.4 586.7,443.9 584.6,442.3 587.2,442.2" fill="#ee0000"/><polygon points="590.9,437.0 591.8,439.5 594.4,439.6 592.4,441.2 593.1,443.7 590.9,442.3 588.7,443.7 589.4,441.2 587.4,439.6 590.0,439.5" fill="#ee0000"/><polygon points="592.6,433.5 593.5,436.0 596.1,436.1 594.1,437.7 594.8,440.2 592.6,438.8 590.5,440.2 591.2,437.7 589.1,436.1 591.7,436.0" fill="#ee0000"/><polygon points="594.6,430.2 595.5,432.6 598.1,432.7 596.1,434.3 596.8,436.9 594.6,435.4 592.4,436.9 593.1,434.3 591.1,432.7 593.7,432.6" fill="#ee0000"/><polygon points="596.6,426.8 597.5,429.3 600.1,429.4 598.1,431.0 598.8,433.5 596.6,432.1 594.4,433.5 595.1,431.0 593.1,429.4 595.7,429.3" fill="#ee0000"/><polygon points="599.0,423.8 599.9,426.2 602.6,426.3 600.5,428.0 601.2,430.5 599.0,429.0 596.9,430.5 597.6,428.0 595.5,426.3 598.1,426.2" fill="#ee0000"/><polygon points="601.2,420.6 602.2,423.0 604.8,423.1 602.7,424.7 603.4,427.3 601.2,425.8 599.1,427.3 599.8,424.7 597.7,423.1 600.3,423.0" fill="#ee0000"/><polygon points="603.4,417.3 604.4,419.8 607.0,419.9 604.9,421.5 605.6,424.0 603.4,422.6 601.3,424.0 602.0,421.5 599.9,419.9 602.5,419.8" fill="#ee0000"/><polygon points="605.7,414.2 606.7,416.6 609.3,416.8 607.2,418.4 607.9,420.9 605.7,419.5 603.6,420.9 604.3,418.4 602.2,416.8 604.8,416.6" fill="#ee0000"/><polygon points="608.3,411.3 609.2,413.7 611.8,413.8 609.8,415.5 610.5,418.0 608.3,416.5 606.2,418.0 606.8,415.5 604.8,413.8 607.4,413.7" fill="#ee0000"/><polygon points="611.0,408.4 611.9,410.9 614.5,411.0 612.5,412.6 613.1,415.1 611.0,413.7 608.8,415.1 609.5,412.6 607.5,411.0 610.1,410.9" fill="#ee0000"/><polygon points="613.6,405.5 614.5,408.0 617.1,408.1 615.1,409.7 615.8,412.2 613.6,410.8 611.4,412.2 612.1,409.7 610.1,408.1 612.7,408.0" fill="#ee0000"/><polygon points="616.2,402.7 617.1,405.1 619.7,405.2 617.7,406.8 618.4,409.4 616.2,407.9 614.1,409.4 614.8,406.8 612.7,405.2 615.3,405.1" fill="#ee0000"/><polygon points="618.9,399.8 619.8,402.3 622.4,402.4 620.4,404.0 621.1,406.5 618.9,405.1 616.7,406.5 617.4,404.0 615.4,402.4 618.0,402.3" fill="#ee0000"/><polygon points="621.7,397.2 622.7,399.6 625.3,399.7 623.2,401.3 623.9,403.8 621.7,402.4 619.6,403.8 620.3,401.3 618.2,399.7 620.8,399.6" fill="#ee0000"/><polygon points="624.6,394.5 625.5,396.9 628.1,397.0 626.1,398.7 626.8,401.2 624.6,399.7 622.4,401.2 623.1,398.7 621.1,397.0 623.7,396.9" fill="#ee0000"/><polygon points="627.3,391.7 628.2,394.1 630.8,394.2 628.8,395.8 629.4,398.3 627.3,396.9 625.1,398.3 625.8,395.8 623.8,394.2 626.4,394.1" fill="#ee0000"/><polygon points="629.9,388.8 630.8,391.2 633.4,391.3 631.4,393.0 632.1,395.5 629.9,394.0 627.7,395.5 628.4,393.0 626.4,391.3 629.0,391.2" fill="#ee0000"/><polygon points="632.7,386.0 633.6,388.5 636.2,388.6 634.1,390.2 634.8,392.7 632.7,391.3 630.5,392.7 631.2,390.2 629.2,388.6 631.8,388.5" fill="#ee0000"/><polygon points="635.5,383.4 636.4,385.8 639.0,385.9 637.0,387.6 637.7,390.1 635.5,388.6 633.4,390.1 634.0,387.6 632.0,385.9 634.6,385.8" fill="#ee0000"/><polygon points="638.4,380.7 639.3,383.2 641.9,383.3 639.9,384.9 640.6,387.4 638.4,386.0 636.2,387.4 636.9,384.9 634.9,383.3 637.5,383.2" fill="#ee0000"/><polygon points="641.5,378.4 642.4,380.9 645.0,381.0 643.0,382.6 643.7,385.1 641.5,383.7 639.4,385.1 640.0,382.6 638.0,381.0 640.6,380.9" fill="#ee0000"/><polygon points="644.7,376.1 645.6,378.5 648.2,378.7 646.2,380.3 646.8,382.8 644.7,381.4 642.5,382.8 643.2,380.3 641.2,378.7 643.8,378.5" fill="#ee0000"/><polygon points="647.5,373.5 648.4,375.9 651.1,376.0 649.0,377.6 649.7,380.2 647.5,378.7 645.4,380.2 646.1,377.6 644.0,376.0 646.6,375.9" fill="#ee0000"/><polygon points="650.3,370.7 651.2,373.2 653.8,373.3 651.8,374.9 652.5,377.4 650.3,376.0 648.1,377.4 648.8,374.9 646.8,373.3 649.4,373.2" fill="#ee0000"/><polygon points="653.4,368.4 654.3,370.9 656.9,371.0 654.9,372.6 655.6,375.1 653.4,373.7 651.2,375.1 651.9,372.6 649.9,371.0 652.5,370.9" fill="#ee0000"/><polygon points="656.8,366.5 657.7,368.9 660.3,369.0 658.3,370.7 659.0,373.2 656.8,371.7 654.6,373.2 655.3,370.7 653.3,369.0 655.9,368.9" fill="#ee0000"/><polygon points="660.2,364.5 661.1,367.0 663.7,367.1 661.6,368.7 662.3,371.2 660.2,369.8 658.0,371.2 658.7,368.7 656.6,367.1 659.2,367.0" fill="#ee0000"/><polygon points="663.3,362.2 664.2,364.7 666.8,364.8 664.8,366.4 665.5,368.9 663.3,367.5 661.1,368.9 661.8,366.4 659.8,364.8 662.4,364.7" fill="#ee0000"/><polygon points="666.4,359.9 667.4,362.3 670.0,362.5 667.9,364.1 668.6,366.6 666.4,365.2 664.3,366.6 665.0,364.1 662.9,362.5 665.5,362.3" fill="#ee0000"/><polygon points="669.6,357.7 670.5,360.1 673.2,360.2 671.1,361.8 671.8,364.4 669.6,362.9 667.5,364.4 668.2,361.8 666.1,360.2 668.7,360.1" fill="#ee0000"/><polygon points="672.8,355.4 673.7,357.9 676.4,358.0 674.3,359.6 675.0,362.1 672.8,360.7 670.7,362.1 671.4,359.6 669.3,358.0 671.9,357.9" fill="#ee0000"/><polygon points="676.0,353.2 676.9,355.6 679.6,355.8 677.5,357.4 678.2,359.9 676.0,358.5 673.9,359.9 674.6,357.4 672.5,355.8 675.1,355.6" fill="#ee0000"/><polygon points="679.3,351.0 680.2,353.5 682.8,353.6 680.7,355.2 681.4,357.7 679.3,356.3 677.1,357.7 677.8,355.2 675.7,353.6 678.4,353.5" fill="#ee0000"/><polygon points="682.5,348.9 683.4,351.3 686.0,351.4 684.0,353.0 684.7,355.6 682.5,354.1 680.3,355.6 681.0,353.0 679.0,351.4 681.6,351.3" fill="#ee0000"/><polygon points="685.7,346.7 686.7,349.1 689.3,349.2 687.2,350.9 687.9,353.4 685.7,351.9 683.6,353.4 684.3,350.9 682.2,349.2 684.8,349.1" fill="#ee0000"/><polygon points="689.0,344.5 689.9,346.9 692.5,347.1 690.5,348.7 691.2,351.2 689.0,349.8 686.8,351.2 687.5,348.7 685.5,347.1 688.1,346.9" fill="#ee0000"/></g><path d="M797.8 555.2v4.0M797.8 338.5v4.0M831.8 555.2v4.0M831.8 338.5v4.0M865.9 555.2v4.0M865.9 338.5v4.0M899.9 555.2v4.0M899.9 338.5v4.0M933.9 555.2v4.0M933.9 338.5v4.0M814.8 555.2v2.2M814.8 338.5v2.2M848.8 555.2v2.2M848.8 338.5v2.2M882.9 555.2v2.2M882.9 338.5v2.2M916.9 555.2v2.2M916.9 338.5v2.2M797.8 549.0h-4.0M933.9 549.0h-4.0M797.8 506.9h-4.0M933.9 506.9h-4.0M797.8 464.8h-4.0M933.9 464.8h-4.0M797.8 422.7h-4.0M933.9 422.7h-4.0M797.8 380.6h-4.0M933.9 380.6h-4.0M797.8 338.5h-4.0M933.9 338.5h-4.0M797.8 528.0h-2.2M933.9 528.0h-2.2M797.8 485.8h-2.2M933.9 485.8h-2.2M797.8 443.8h-2.2M933.9 443.8h-2.2M797.8 401.6h-2.2M933.9 401.6h-2.2M797.8 359.5h-2.2M933.9 359.5h-2.2" stroke="#000" stroke-width="1.3" fill="none"/><rect x="797.8" y="338.5" width="136.1" height="216.7" fill="none" stroke="#000" stroke-width="1.6"/><text x="797.8" y="582.2" text-anchor="middle">0.3</text><text x="831.8" y="582.2" text-anchor="middle">0.6</text><text x="865.9" y="582.2" text-anchor="middle">0.9</text><text x="899.9" y="582.2" text-anchor="middle">1.2</text><text x="933.9" y="582.2" text-anchor="middle">1.5</text><text x="788.8" y="555.4" text-anchor="end">0.0</text><text x="788.8" y="513.3" text-anchor="end">0.2</text><text x="788.8" y="471.2" text-anchor="end">0.4</text><text x="788.8" y="429.1" text-anchor="end">0.6</text><text x="788.8" y="387.0" text-anchor="end">0.8</text><text x="788.8" y="344.9" text-anchor="end">1.0</text><text transform="translate(732.7,454.6) rotate(-90)" text-anchor="middle" font-size="18">d<tspan font-style="italic">V</tspan>/d<tspan font-style="italic">w</tspan> (cm<tspan dy="-7.6" font-size="12.4">3</tspan><tspan dy="7.6"> g<tspan dy="-7.6" font-size="12.4">−1</tspan><tspan dy="7.6"> nm<tspan dy="-7.6" font-size="12.4">−1</tspan><tspan dy="7.6">)</tspan></tspan></tspan></text><text x="863.5" y="610.7" text-anchor="middle" font-size="18">Pore width (nm)</text><text x="717.8" y="338.2" font-weight="bold" font-size="27">h</text><g clip-path="url(#ch)"><path d="M799.8 548.4 L801.3 543.6 L803.3 346.7 L805.1 364.6 L807.0 540.3 L809.3 548.4 L811.2 548.4 L813.3 548.4 L815.7 469.3 L817.8 417.3 L820.5 412.8 L823.1 421.0 L825.8 427.8 L829.0 439.0 L831.8 461.8 L834.8 488.3 L838.1 512.8 L841.5 530.4 L845.0 534.1 L848.7 526.3 L852.3 507.8 L856.5 505.7 L860.7 520.8 L865.5 525.9 L870.4 528.3 L875.3 529.3 L880.3 530.5 L885.8 531.3 L891.5 531.9 L897.4 532.3 L903.4 532.8 L909.8 533.1 L916.6 533.2 L923.6 533.2 L930.8 533.2 L935.0 533.2" fill="none" stroke="#ee0000" stroke-width="0.9"/><circle cx="799.8" cy="548.4" r="3.2" fill="url(#sg)"/><circle cx="801.3" cy="543.6" r="3.2" fill="url(#sg)"/><circle cx="803.3" cy="346.7" r="3.2" fill="url(#sg)"/><circle cx="805.1" cy="364.6" r="3.2" fill="url(#sg)"/><circle cx="807.0" cy="540.3" r="3.2" fill="url(#sg)"/><circle cx="809.3" cy="548.4" r="3.2" fill="url(#sg)"/><circle cx="811.2" cy="548.4" r="3.2" fill="url(#sg)"/><circle cx="813.3" cy="548.4" r="3.2" fill="url(#sg)"/><circle cx="815.7" cy="469.3" r="3.2" fill="url(#sg)"/><circle cx="817.8" cy="417.3" r="3.2" fill="url(#sg)"/><circle cx="820.5" cy="412.8" r="3.2" fill="url(#sg)"/><circle cx="823.1" cy="421.0" r="3.2" fill="url(#sg)"/><circle cx="825.8" cy="427.8" r="3.2" fill="url(#sg)"/><circle cx="829.0" cy="439.0" r="3.2" fill="url(#sg)"/><circle cx="831.8" cy="461.8" r="3.2" fill="url(#sg)"/><circle cx="834.8" cy="488.3" r="3.2" fill="url(#sg)"/><circle cx="838.1" cy="512.8" r="3.2" fill="url(#sg)"/><circle cx="841.5" cy="530.4" r="3.2" fill="url(#sg)"/><circle cx="845.0" cy="534.1" r="3.2" fill="url(#sg)"/><circle cx="848.7" cy="526.3" r="3.2" fill="url(#sg)"/><circle cx="852.3" cy="507.8" r="3.2" fill="url(#sg)"/><circle cx="856.5" cy="505.7" r="3.2" fill="url(#sg)"/><circle cx="860.7" cy="520.8" r="3.2" fill="url(#sg)"/><circle cx="865.5" cy="525.9" r="3.2" fill="url(#sg)"/><circle cx="870.4" cy="528.3" r="3.2" fill="url(#sg)"/><circle cx="875.3" cy="529.3" r="3.2" fill="url(#sg)"/><circle cx="880.3" cy="530.5" r="3.2" fill="url(#sg)"/><circle cx="885.8" cy="531.3" r="3.2" fill="url(#sg)"/><circle cx="891.5" cy="531.9" r="3.2" fill="url(#sg)"/><circle cx="897.4" cy="532.3" r="3.2" fill="url(#sg)"/><circle cx="903.4" cy="532.8" r="3.2" fill="url(#sg)"/><circle cx="909.8" cy="533.1" r="3.2" fill="url(#sg)"/><circle cx="916.6" cy="533.2" r="3.2" fill="url(#sg)"/><circle cx="923.6" cy="533.2" r="3.2" fill="url(#sg)"/><circle cx="930.8" cy="533.2" r="3.2" fill="url(#sg)"/></g><path d="M83.0 877.2v4.0M83.0 662.4v4.0M121.7 877.2v4.0M121.7 662.4v4.0M160.3 877.2v4.0M160.3 662.4v4.0M199.0 877.2v4.0M199.0 662.4v4.0M102.3 877.2v2.2M102.3 662.4v2.2M141.0 877.2v2.2M141.0 662.4v2.2M179.7 877.2v2.2M179.7 662.4v2.2M80.5 877.2h-4.0M214.5 877.2h-4.0M80.5 823.5h-4.0M214.5 823.5h-4.0M80.5 769.8h-4.0M214.5 769.8h-4.0M80.5 716.1h-4.0M214.5 716.1h-4.0M80.5 662.4h-4.0M214.5 662.4h-4.0M80.5 850.4h-2.2M214.5 850.4h-2.2M80.5 796.6h-2.2M214.5 796.6h-2.2M80.5 743.0h-2.2M214.5 743.0h-2.2M80.5 689.2h-2.2M214.5 689.2h-2.2" stroke="#000" stroke-width="1.3" fill="none"/><rect x="80.5" y="662.4" width="134.0" height="214.8" fill="none" stroke="#000" stroke-width="1.6"/><text x="83.0" y="902.7" text-anchor="middle">0.0</text><text x="121.7" y="902.7" text-anchor="middle">0.3</text><text x="160.3" y="902.7" text-anchor="middle">0.6</text><text x="199.0" y="902.7" text-anchor="middle">0.9</text><text x="71.5" y="883.6" text-anchor="end">100</text><text x="71.5" y="829.9" text-anchor="end">200</text><text x="71.5" y="776.2" text-anchor="end">300</text><text x="71.5" y="722.5" text-anchor="end">400</text><text x="71.5" y="668.8" text-anchor="end">500</text><text transform="translate(23.0,777.4) rotate(-90)" text-anchor="middle" font-size="18">N<tspan dy="5.1" font-size="12.4">2</tspan><tspan dy="-5.1"> adsorbed (cm<tspan dy="-7.6" font-size="12.4">3</tspan><tspan dy="7.6"> g<tspan dy="-7.6" font-size="12.4">−1</tspan><tspan dy="7.6"> STP)</tspan></tspan></tspan></text><text x="125.1" y="932.5" text-anchor="start" font-size="18"><tspan font-style="italic">P/P</tspan><tspan dy="5.5" font-size="12.4">O</tspan></text><text x="0.2" y="657.8" font-weight="bold" font-size="27">i</text><g clip-path="url(#ci)"><path d="M130.0 792.5 L133.5 787.6 L137.2 782.8 L140.2 778.2 L143.9 772.8 L146.8 766.7 L150.5 758.4 L153.8 749.5 L156.9 738.1 L160.1 725.1 L162.7 715.1 L164.6 708.2 L166.5 702.5" fill="none" stroke="#ee0000" stroke-width="0.8" stroke-dasharray="2.5,1.5"/><circle cx="83.4" cy="855.5" r="3.2" fill="url(#sg)"/><circle cx="83.4" cy="852.5" r="3.2" fill="url(#sg)"/><circle cx="83.4" cy="849.5" r="3.2" fill="url(#sg)"/><circle cx="83.6" cy="846.5" r="3.2" fill="url(#sg)"/><circle cx="83.9" cy="843.5" r="3.2" fill="url(#sg)"/><circle cx="84.6" cy="840.6" r="3.2" fill="url(#sg)"/><circle cx="85.6" cy="837.8" r="3.2" fill="url(#sg)"/><circle cx="86.8" cy="835.1" r="3.2" fill="url(#sg)"/><circle cx="88.3" cy="832.4" r="3.2" fill="url(#sg)"/><circle cx="89.8" cy="829.8" r="3.2" fill="url(#sg)"/><circle cx="92.0" cy="827.8" r="3.2" fill="url(#sg)"/><circle cx="94.1" cy="825.7" r="3.2" fill="url(#sg)"/><circle cx="96.5" cy="823.9" r="3.2" fill="url(#sg)"/><circle cx="98.8" cy="822.0" r="3.2" fill="url(#sg)"/><circle cx="101.2" cy="820.2" r="3.2" fill="url(#sg)"/><circle cx="103.6" cy="818.3" r="3.2" fill="url(#sg)"/><circle cx="105.9" cy="816.5" r="3.2" fill="url(#sg)"/><circle cx="108.3" cy="814.6" r="3.2" fill="url(#sg)"/><circle cx="110.6" cy="812.7" r="3.2" fill="url(#sg)"/><circle cx="113.0" cy="810.8" r="3.2" fill="url(#sg)"/><circle cx="115.3" cy="809.0" r="3.2" fill="url(#sg)"/><circle cx="117.6" cy="807.1" r="3.2" fill="url(#sg)"/><circle cx="119.8" cy="805.0" r="3.2" fill="url(#sg)"/><circle cx="121.8" cy="802.8" r="3.2" fill="url(#sg)"/><circle cx="123.9" cy="800.6" r="3.2" fill="url(#sg)"/><circle cx="125.8" cy="798.3" r="3.2" fill="url(#sg)"/><circle cx="127.8" cy="796.0" r="3.2" fill="url(#sg)"/><circle cx="129.4" cy="793.5" r="3.2" fill="url(#sg)"/><g fill="#fff" fill-opacity="0.8"><circle cx="82.6" cy="854.5" r="1.1"/><circle cx="82.6" cy="851.5" r="1.1"/><circle cx="82.6" cy="848.5" r="1.1"/><circle cx="82.8" cy="845.5" r="1.1"/><circle cx="83.1" cy="842.5" r="1.1"/><circle cx="83.8" cy="839.6" r="1.1"/><circle cx="84.8" cy="836.8" r="1.1"/><circle cx="86.0" cy="834.1" r="1.1"/><circle cx="87.5" cy="831.4" r="1.1"/><circle cx="89.0" cy="828.8" r="1.1"/><circle cx="91.2" cy="826.8" r="1.1"/><circle cx="93.3" cy="824.7" r="1.1"/><circle cx="95.7" cy="822.9" r="1.1"/><circle cx="98.0" cy="821.0" r="1.1"/><circle cx="100.4" cy="819.2" r="1.1"/><circle cx="102.8" cy="817.3" r="1.1"/><circle cx="105.1" cy="815.5" r="1.1"/><circle cx="107.5" cy="813.6" r="1.1"/><circle cx="109.8" cy="811.7" r="1.1"/><circle cx="112.2" cy="809.8" r="1.1"/><circle cx="114.5" cy="808.0" r="1.1"/><circle cx="116.8" cy="806.1" r="1.1"/><circle cx="119.0" cy="804.0" r="1.1"/><circle cx="121.0" cy="801.8" r="1.1"/><circle cx="123.1" cy="799.6" r="1.1"/><circle cx="125.0" cy="797.3" r="1.1"/><circle cx="127.0" cy="795.0" r="1.1"/><circle cx="128.6" cy="792.5" r="1.1"/></g><circle cx="133.5" cy="787.6" r="3.2" fill="url(#sg)"/><circle cx="137.2" cy="782.8" r="3.2" fill="url(#sg)"/><circle cx="140.2" cy="778.2" r="3.2" fill="url(#sg)"/><circle cx="143.9" cy="772.8" r="3.2" fill="url(#sg)"/><circle cx="146.8" cy="766.7" r="3.2" fill="url(#sg)"/><circle cx="150.5" cy="758.4" r="3.2" fill="url(#sg)"/><circle cx="153.8" cy="749.5" r="3.2" fill="url(#sg)"/><circle cx="156.9" cy="738.1" r="3.2" fill="url(#sg)"/><circle cx="160.1" cy="725.1" r="3.2" fill="url(#sg)"/><circle cx="162.7" cy="715.1" r="3.2" fill="url(#sg)"/><circle cx="164.6" cy="708.2" r="3.2" fill="url(#sg)"/><circle cx="166.5" cy="702.5" r="3.2" fill="url(#sg)"/><circle cx="168.0" cy="699.9" r="3.2" fill="url(#sg)"/><circle cx="169.7" cy="697.4" r="3.2" fill="url(#sg)"/><circle cx="171.6" cy="695.1" r="3.2" fill="url(#sg)"/><circle cx="173.7" cy="693.0" r="3.2" fill="url(#sg)"/><circle cx="175.9" cy="690.9" r="3.2" fill="url(#sg)"/><circle cx="178.2" cy="689.0" r="3.2" fill="url(#sg)"/><circle cx="180.8" cy="687.5" r="3.2" fill="url(#sg)"/><circle cx="183.3" cy="686.0" r="3.2" fill="url(#sg)"/><circle cx="186.0" cy="684.5" r="3.2" fill="url(#sg)"/><circle cx="188.6" cy="683.1" r="3.2" fill="url(#sg)"/><circle cx="191.3" cy="681.8" r="3.2" fill="url(#sg)"/><circle cx="194.0" cy="680.5" r="3.2" fill="url(#sg)"/><circle cx="196.9" cy="679.7" r="3.2" fill="url(#sg)"/><circle cx="199.8" cy="678.9" r="3.2" fill="url(#sg)"/><circle cx="202.7" cy="678.1" r="3.2" fill="url(#sg)"/><circle cx="205.6" cy="677.3" r="3.2" fill="url(#sg)"/><circle cx="208.5" cy="676.6" r="3.2" fill="url(#sg)"/><circle cx="211.4" cy="675.8" r="3.2" fill="url(#sg)"/><circle cx="214.3" cy="675.1" r="3.2" fill="url(#sg)"/><g fill="#fff" fill-opacity="0.8"><circle cx="165.7" cy="701.5" r="1.1"/><circle cx="167.2" cy="698.9" r="1.1"/><circle cx="168.9" cy="696.4" r="1.1"/><circle cx="170.8" cy="694.1" r="1.1"/><circle cx="172.9" cy="692.0" r="1.1"/><circle cx="175.1" cy="689.9" r="1.1"/><circle cx="177.4" cy="688.0" r="1.1"/><circle cx="180.0" cy="686.5" r="1.1"/><circle cx="182.5" cy="685.0" r="1.1"/><circle cx="185.2" cy="683.5" r="1.1"/><circle cx="187.8" cy="682.1" r="1.1"/><circle cx="190.5" cy="680.8" r="1.1"/><circle cx="193.2" cy="679.5" r="1.1"/><circle cx="196.1" cy="678.7" r="1.1"/><circle cx="199.0" cy="677.9" r="1.1"/><circle cx="201.9" cy="677.1" r="1.1"/><circle cx="204.8" cy="676.3" r="1.1"/><circle cx="207.7" cy="675.6" r="1.1"/><circle cx="210.6" cy="674.8" r="1.1"/><circle cx="213.5" cy="674.1" r="1.1"/></g><path d="M140.2 773.3 L144.0 755.0 L147.6 737.7 L150.5 711.1 L153.5 687.4" fill="none" stroke="#000" stroke-width="0.8"/><polygon points="83.2,846.6 84.0,848.8 86.4,848.9 84.6,850.4 85.2,852.8 83.2,851.4 81.2,852.8 81.8,850.4 80.0,848.9 82.4,848.8" fill="#000"/><polygon points="83.4,843.6 84.2,845.9 86.6,846.0 84.8,847.4 85.4,849.8 83.4,848.4 81.4,849.8 82.0,847.4 80.2,846.0 82.6,845.9" fill="#000"/><polygon points="83.6,840.6 84.4,842.9 86.8,843.0 85.0,844.5 85.6,846.8 83.6,845.4 81.6,846.8 82.2,844.5 80.4,843.0 82.8,842.9" fill="#000"/><polygon points="84.3,837.7 85.1,839.9 87.5,840.0 85.7,841.5 86.3,843.8 84.3,842.5 82.3,843.8 82.9,841.5 81.1,840.0 83.5,839.9" fill="#000"/><polygon points="85.1,834.8 86.0,837.1 88.4,837.2 86.5,838.7 87.1,841.0 85.1,839.7 83.1,841.0 83.8,838.7 81.9,837.2 84.3,837.1" fill="#000"/><polygon points="86.3,832.1 87.2,834.3 89.6,834.4 87.7,835.9 88.3,838.2 86.3,836.9 84.3,838.2 85.0,835.9 83.1,834.4 85.5,834.3" fill="#000"/><polygon points="87.5,829.3 88.4,831.6 90.8,831.7 88.9,833.2 89.5,835.5 87.5,834.1 85.5,835.5 86.2,833.2 84.3,831.7 86.7,831.6" fill="#000"/><polygon points="88.6,826.5 89.5,828.8 91.9,828.9 90.0,830.4 90.6,832.7 88.6,831.4 86.7,832.7 87.3,830.4 85.4,828.9 87.8,828.8" fill="#000"/><polygon points="89.9,823.9 90.8,826.1 93.2,826.2 91.3,827.7 91.9,830.0 89.9,828.7 87.9,830.0 88.6,827.7 86.7,826.2 89.1,826.1" fill="#000"/><polygon points="92.1,821.8 92.9,824.0 95.3,824.1 93.5,825.6 94.1,827.9 92.1,826.6 90.1,827.9 90.8,825.6 88.9,824.1 91.3,824.0" fill="#000"/><polygon points="94.3,819.7 95.1,822.0 97.5,822.1 95.6,823.6 96.3,825.9 94.3,824.5 92.3,825.9 92.9,823.6 91.0,822.1 93.4,822.0" fill="#000"/><polygon points="96.6,817.8 97.4,820.1 99.8,820.2 98.0,821.7 98.6,824.0 96.6,822.7 94.6,824.0 95.2,821.7 93.4,820.2 95.8,820.1" fill="#000"/><polygon points="98.9,815.9 99.8,818.2 102.2,818.3 100.3,819.8 100.9,822.1 98.9,820.8 96.9,822.1 97.6,819.8 95.7,818.3 98.1,818.2" fill="#000"/><polygon points="101.3,814.1 102.1,816.3 104.5,816.4 102.6,817.9 103.3,820.2 101.3,818.9 99.3,820.2 99.9,817.9 98.0,816.4 100.4,816.3" fill="#000"/><polygon points="103.6,812.2 104.5,814.5 106.9,814.6 105.0,816.1 105.6,818.4 103.6,817.0 101.6,818.4 102.3,816.1 100.4,814.6 102.8,814.5" fill="#000"/><polygon points="106.0,810.3 106.8,812.6 109.2,812.7 107.3,814.2 108.0,816.5 106.0,815.2 104.0,816.5 104.6,814.2 102.8,812.7 105.1,812.6" fill="#000"/><polygon points="108.3,808.5 109.2,810.7 111.6,810.8 109.7,812.3 110.3,814.6 108.3,813.3 106.3,814.6 107.0,812.3 105.1,810.8 107.5,810.7" fill="#000"/><polygon points="110.7,806.6 111.5,808.8 113.9,809.0 112.0,810.4 112.7,812.8 110.7,811.4 108.7,812.8 109.3,810.4 107.4,809.0 109.8,808.8" fill="#000"/><polygon points="113.0,804.7 113.8,807.0 116.2,807.1 114.4,808.6 115.0,810.9 113.0,809.5 111.0,810.9 111.6,808.6 109.8,807.1 112.2,807.0" fill="#000"/><polygon points="115.3,802.8 116.2,805.1 118.6,805.2 116.7,806.7 117.3,809.0 115.3,807.7 113.3,809.0 114.0,806.7 112.1,805.2 114.5,805.1" fill="#000"/><polygon points="117.7,800.9 118.5,803.2 120.9,803.3 119.0,804.8 119.7,807.1 117.7,805.8 115.7,807.1 116.3,804.8 114.4,803.3 116.8,803.2" fill="#000"/><polygon points="119.8,798.9 120.7,801.1 123.1,801.2 121.2,802.7 121.8,805.0 119.8,803.7 117.8,805.0 118.5,802.7 116.6,801.2 119.0,801.1" fill="#000"/><polygon points="121.9,796.7 122.8,799.0 125.2,799.1 123.3,800.6 123.9,802.9 121.9,801.5 119.9,802.9 120.6,800.6 118.7,799.1 121.1,799.0" fill="#000"/><polygon points="124.0,794.6 124.9,796.8 127.3,796.9 125.4,798.4 126.0,800.7 124.0,799.4 122.0,800.7 122.7,798.4 120.8,796.9 123.2,796.8" fill="#000"/><polygon points="126.0,792.3 126.8,794.5 129.2,794.6 127.3,796.1 128.0,798.4 126.0,797.1 124.0,798.4 124.6,796.1 122.7,794.6 125.1,794.5" fill="#000"/><polygon points="127.9,790.0 128.7,792.2 131.1,792.3 129.2,793.8 129.9,796.1 127.9,794.8 125.9,796.1 126.5,793.8 124.6,792.3 127.0,792.2" fill="#000"/><polygon points="129.5,787.4 130.3,789.7 132.7,789.8 130.8,791.3 131.5,793.6 129.5,792.3 127.5,793.6 128.1,791.3 126.2,789.8 128.6,789.7" fill="#000"/><polygon points="153.5,683.9 154.4,686.2 156.8,686.3 154.9,687.9 155.6,690.2 153.5,688.9 151.4,690.2 152.1,687.9 150.2,686.3 152.6,686.2" fill="#000"/><polygon points="154.4,681.7 155.3,684.0 157.8,684.1 155.8,685.6 156.5,688.0 154.4,686.7 152.4,688.0 153.0,685.6 151.1,684.1 153.6,684.0" fill="#000"/><polygon points="155.4,679.5 156.2,681.8 158.7,681.9 156.8,683.4 157.4,685.8 155.4,684.4 153.3,685.8 154.0,683.4 152.0,681.9 154.5,681.8" fill="#000"/><polygon points="157.0,677.9 157.9,680.2 160.4,680.3 158.4,681.9 159.1,684.3 157.0,682.9 155.0,684.3 155.6,681.9 153.7,680.3 156.2,680.2" fill="#000"/><polygon points="159.1,676.7 160.0,679.0 162.5,679.1 160.5,680.7 161.2,683.1 159.1,681.7 157.1,683.1 157.7,680.7 155.8,679.1 158.3,679.0" fill="#000"/><polygon points="161.2,675.6 162.1,678.0 164.6,678.1 162.6,679.6 163.3,682.0 161.2,680.6 159.2,682.0 159.8,679.6 157.9,678.1 160.4,678.0" fill="#000"/><polygon points="163.6,675.3 164.5,677.6 166.9,677.7 165.0,679.2 165.7,681.6 163.6,680.2 161.6,681.6 162.2,679.2 160.3,677.7 162.8,677.6" fill="#000"/><polygon points="166.0,674.9 166.9,677.2 169.3,677.3 167.4,678.9 168.0,681.2 166.0,679.9 163.9,681.2 164.6,678.9 162.7,677.3 165.1,677.2" fill="#000"/><polygon points="168.4,674.5 169.2,676.8 171.7,676.9 169.8,678.5 170.4,680.9 168.4,679.5 166.3,680.9 167.0,678.5 165.0,676.9 167.5,676.8" fill="#000"/><polygon points="170.7,674.2 171.6,676.5 174.1,676.7 172.1,678.2 172.8,680.6 170.7,679.2 168.7,680.6 169.3,678.2 167.4,676.7 169.9,676.5" fill="#000"/><polygon points="173.1,674.1 174.0,676.4 176.5,676.5 174.5,678.0 175.2,680.4 173.1,679.0 171.1,680.4 171.7,678.0 169.8,676.5 172.3,676.4" fill="#000"/><polygon points="175.5,673.9 176.4,676.2 178.9,676.3 176.9,677.9 177.6,680.2 175.5,678.9 173.5,680.2 174.1,677.9 172.2,676.3 174.7,676.2" fill="#000"/><polygon points="177.9,673.7 178.8,676.1 181.3,676.2 179.3,677.7 180.0,680.1 177.9,678.7 175.9,680.1 176.5,677.7 174.6,676.2 177.1,676.1" fill="#000"/><polygon points="180.3,673.6 181.2,675.9 183.6,676.0 181.7,677.5 182.4,679.9 180.3,678.6 178.3,679.9 178.9,677.5 177.0,676.0 179.5,675.9" fill="#000"/><polygon points="182.7,673.4 183.6,675.7 186.0,675.9 184.1,677.4 184.8,679.8 182.7,678.4 180.7,679.8 181.3,677.4 179.4,675.9 181.8,675.7" fill="#000"/><polygon points="185.1,673.3 186.0,675.6 188.4,675.7 186.5,677.2 187.2,679.6 185.1,678.3 183.1,679.6 183.7,677.2 181.8,675.7 184.2,675.6" fill="#000"/><polygon points="187.5,673.1 188.4,675.5 190.8,675.6 188.9,677.1 189.6,679.5 187.5,678.1 185.4,679.5 186.1,677.1 184.2,675.6 186.6,675.5" fill="#000"/><polygon points="189.9,673.0 190.8,675.3 193.2,675.4 191.3,677.0 192.0,679.3 189.9,678.0 187.8,679.3 188.5,677.0 186.6,675.4 189.0,675.3" fill="#000"/><polygon points="192.3,672.9 193.2,675.2 195.6,675.3 193.7,676.8 194.4,679.2 192.3,677.8 190.2,679.2 190.9,676.8 189.0,675.3 191.4,675.2" fill="#000"/><polygon points="194.7,672.7 195.6,675.0 198.0,675.1 196.1,676.7 196.7,679.0 194.7,677.7 192.6,679.0 193.3,676.7 191.4,675.1 193.8,675.0" fill="#000"/><polygon points="197.1,672.5 197.9,674.8 200.4,674.9 198.5,676.5 199.1,678.8 197.1,677.5 195.0,678.8 195.7,676.5 193.8,674.9 196.2,674.8" fill="#000"/><polygon points="199.5,672.3 200.3,674.6 202.8,674.8 200.9,676.3 201.5,678.7 199.5,677.3 197.4,678.7 198.1,676.3 196.1,674.8 198.6,674.6" fill="#000"/><polygon points="201.9,672.1 202.7,674.5 205.2,674.6 203.3,676.1 203.9,678.5 201.9,677.1 199.8,678.5 200.5,676.1 198.5,674.6 201.0,674.5" fill="#000"/><polygon points="204.3,672.0 205.1,674.3 207.6,674.4 205.7,675.9 206.3,678.3 204.3,676.9 202.2,678.3 202.9,675.9 200.9,674.4 203.4,674.3" fill="#000"/><polygon points="206.7,671.8 207.5,674.1 210.0,674.2 208.1,675.7 208.7,678.1 206.7,676.7 204.6,678.1 205.3,675.7 203.3,674.2 205.8,674.1" fill="#000"/><polygon points="209.0,671.6 209.9,673.9 212.4,674.0 210.4,675.5 211.1,677.9 209.0,676.6 207.0,677.9 207.6,675.5 205.7,674.0 208.2,673.9" fill="#000"/><polygon points="211.4,671.4 212.3,673.7 214.8,673.8 212.8,675.4 213.5,677.7 211.4,676.4 209.4,677.7 210.0,675.4 208.1,673.8 210.6,673.7" fill="#000"/><polygon points="213.8,671.2 214.7,673.5 217.2,673.6 215.2,675.2 215.9,677.5 213.8,676.2 211.8,677.5 212.4,675.2 210.5,673.6 213.0,673.5" fill="#000"/><polygon points="133.5,783.1 134.4,785.4 136.8,785.5 134.9,787.1 135.6,789.4 133.5,788.1 131.4,789.4 132.1,787.1 130.2,785.5 132.6,785.4" fill="#000"/><polygon points="140.2,769.8 141.1,772.1 143.5,772.2 141.6,773.8 142.3,776.1 140.2,774.8 138.1,776.1 138.8,773.8 136.9,772.2 139.3,772.1" fill="#000"/><polygon points="147.6,734.2 148.5,736.5 150.9,736.6 149.0,738.2 149.7,740.5 147.6,739.2 145.5,740.5 146.2,738.2 144.3,736.6 146.7,736.5" fill="#000"/><polygon points="150.5,707.6 151.4,709.9 153.8,710.0 151.9,711.6 152.6,713.9 150.5,712.6 148.4,713.9 149.1,711.6 147.2,710.0 149.6,709.9" fill="#000"/></g><path d="M310.6 877.2v4.0M310.6 663.0v4.0M344.6 877.2v4.0M344.6 663.0v4.0M378.6 877.2v4.0M378.6 663.0v4.0M412.5 877.2v4.0M412.5 663.0v4.0M446.5 877.2v4.0M446.5 663.0v4.0M327.6 877.2v2.2M327.6 663.0v2.2M361.6 877.2v2.2M361.6 663.0v2.2M395.5 877.2v2.2M395.5 663.0v2.2M429.5 877.2v2.2M429.5 663.0v2.2M310.6 875.7h-4.0M446.5 875.7h-4.0M310.6 834.8h-4.0M446.5 834.8h-4.0M310.6 794.0h-4.0M446.5 794.0h-4.0M310.6 753.1h-4.0M446.5 753.1h-4.0M310.6 712.3h-4.0M446.5 712.3h-4.0M310.6 671.4h-4.0M446.5 671.4h-4.0M310.6 855.3h-2.2M446.5 855.3h-2.2M310.6 814.4h-2.2M446.5 814.4h-2.2M310.6 773.5h-2.2M446.5 773.5h-2.2M310.6 732.7h-2.2M446.5 732.7h-2.2M310.6 691.8h-2.2M446.5 691.8h-2.2" stroke="#000" stroke-width="1.3" fill="none"/><rect x="310.6" y="663.0" width="135.9" height="214.2" fill="none" stroke="#000" stroke-width="1.6"/><text x="310.6" y="902.7" text-anchor="middle">2</text><text x="344.6" y="902.7" text-anchor="middle">6</text><text x="378.6" y="902.7" text-anchor="middle">10</text><text x="412.5" y="902.7" text-anchor="middle">14</text><text x="446.5" y="902.7" text-anchor="middle">18</text><text x="301.6" y="882.1" text-anchor="end">0.0</text><text x="301.6" y="841.2" text-anchor="end">0.5</text><text x="301.6" y="800.4" text-anchor="end">1.0</text><text x="301.6" y="759.5" text-anchor="end">1.5</text><text x="301.6" y="718.7" text-anchor="end">2.0</text><text x="301.6" y="677.8" text-anchor="end">2.5</text><text transform="translate(259.5,780.9) rotate(-90)" text-anchor="middle" font-size="18">d<tspan font-style="italic">V</tspan>/d<tspan font-style="italic">w</tspan> (cm<tspan dy="-7.6" font-size="12.4">3</tspan><tspan dy="7.6"> g<tspan dy="-7.6" font-size="12.4">−1</tspan><tspan dy="7.6"> nm<tspan dy="-7.6" font-size="12.4">−1</tspan><tspan dy="7.6">)</tspan></tspan></tspan></text><text x="379.5" y="932.5" text-anchor="middle" font-size="18">Pore width (nm)</text><text x="237.5" y="658.3" font-weight="bold" font-size="27">j</text><g clip-path="url(#cj)"><path d="M310.8 839.8 L311.5 846.8 L312.7 852.7 L315.0 855.0 L317.3 853.8 L319.2 850.3 L320.8 845.7 L323.2 835.6 L325.5 818.8 L329.0 783.8 L332.5 729.1 L336.5 686.9 L339.5 672.8 L341.9 695.7 L344.2 727.0 L347.2 762.1 L348.9 777.2 L350.5 798.3 L351.9 809.9 L352.8 814.6 L353.8 823.9 L354.7 830.5 L355.9 834.7 L356.6 839.4 L357.5 843.3 L359.4 846.8 L361.7 849.2 L361.2 853.4 L364.5 855.0 L367.6 856.6 L371.5 857.8 L378.1 859.7 L382.3 859.9 L386.2 861.3 L390.2 862.5 L395.6 864.8 L401.0 866.7 L407.3 869.0 L413.6 869.7 L421.3 871.3 L431.1 872.5 L441.6 873.7 L447.0 874.0" fill="none" stroke="#ee0000" stroke-width="0.9"/><circle cx="310.8" cy="839.8" r="3.2" fill="url(#sg)"/><circle cx="311.5" cy="846.8" r="3.2" fill="url(#sg)"/><circle cx="312.7" cy="852.7" r="3.2" fill="url(#sg)"/><circle cx="315.0" cy="855.0" r="3.2" fill="url(#sg)"/><circle cx="317.3" cy="853.8" r="3.2" fill="url(#sg)"/><circle cx="319.2" cy="850.3" r="3.2" fill="url(#sg)"/><circle cx="320.8" cy="845.7" r="3.2" fill="url(#sg)"/><circle cx="323.2" cy="835.6" r="3.2" fill="url(#sg)"/><circle cx="325.5" cy="818.8" r="3.2" fill="url(#sg)"/><circle cx="329.0" cy="783.8" r="3.2" fill="url(#sg)"/><circle cx="332.5" cy="729.1" r="3.2" fill="url(#sg)"/><circle cx="336.5" cy="686.9" r="3.2" fill="url(#sg)"/><circle cx="339.5" cy="672.8" r="3.2" fill="url(#sg)"/><circle cx="341.9" cy="695.7" r="3.2" fill="url(#sg)"/><circle cx="344.2" cy="727.0" r="3.2" fill="url(#sg)"/><circle cx="347.2" cy="762.1" r="3.2" fill="url(#sg)"/><circle cx="348.9" cy="777.2" r="3.2" fill="url(#sg)"/><circle cx="350.5" cy="798.3" r="3.2" fill="url(#sg)"/><circle cx="351.9" cy="809.9" r="3.2" fill="url(#sg)"/><circle cx="352.8" cy="814.6" r="3.2" fill="url(#sg)"/><circle cx="353.8" cy="823.9" r="3.2" fill="url(#sg)"/><circle cx="354.7" cy="830.5" r="3.2" fill="url(#sg)"/><circle cx="355.9" cy="834.7" r="3.2" fill="url(#sg)"/><circle cx="356.6" cy="839.4" r="3.2" fill="url(#sg)"/><circle cx="357.5" cy="843.3" r="3.2" fill="url(#sg)"/><circle cx="359.4" cy="846.8" r="3.2" fill="url(#sg)"/><circle cx="361.7" cy="849.2" r="3.2" fill="url(#sg)"/><circle cx="361.2" cy="853.4" r="3.2" fill="url(#sg)"/><circle cx="364.5" cy="855.0" r="3.2" fill="url(#sg)"/><circle cx="367.6" cy="856.6" r="3.2" fill="url(#sg)"/><circle cx="371.5" cy="857.8" r="3.2" fill="url(#sg)"/><circle cx="378.1" cy="859.7" r="3.2" fill="url(#sg)"/><circle cx="382.3" cy="859.9" r="3.2" fill="url(#sg)"/><circle cx="386.2" cy="861.3" r="3.2" fill="url(#sg)"/><circle cx="390.2" cy="862.5" r="3.2" fill="url(#sg)"/><circle cx="395.6" cy="864.8" r="3.2" fill="url(#sg)"/><circle cx="401.0" cy="866.7" r="3.2" fill="url(#sg)"/><circle cx="407.3" cy="869.0" r="3.2" fill="url(#sg)"/><circle cx="413.6" cy="869.7" r="3.2" fill="url(#sg)"/><circle cx="421.3" cy="871.3" r="3.2" fill="url(#sg)"/><circle cx="431.1" cy="872.5" r="3.2" fill="url(#sg)"/><circle cx="441.6" cy="873.7" r="3.2" fill="url(#sg)"/><circle cx="313.5" cy="854.5" r="3.2" fill="url(#sg)"/><circle cx="316.0" cy="855.0" r="3.2" fill="url(#sg)"/></g><path d="M559.3 877.0v4.0M559.3 661.1v4.0M598.3 877.0v4.0M598.3 661.1v4.0M637.4 877.0v4.0M637.4 661.1v4.0M676.4 877.0v4.0M676.4 661.1v4.0M578.8 877.0v2.2M578.8 661.1v2.2M617.8 877.0v2.2M617.8 661.1v2.2M656.9 877.0v2.2M656.9 661.1v2.2M556.8 855.1h-4.0M692.0 855.1h-4.0M556.8 811.0h-4.0M692.0 811.0h-4.0M556.8 767.0h-4.0M692.0 767.0h-4.0M556.8 722.9h-4.0M692.0 722.9h-4.0M556.8 678.8h-4.0M692.0 678.8h-4.0M556.8 877.1h-2.2M692.0 877.1h-2.2M556.8 833.1h-2.2M692.0 833.1h-2.2M556.8 789.0h-2.2M692.0 789.0h-2.2M556.8 744.9h-2.2M692.0 744.9h-2.2M556.8 700.8h-2.2M692.0 700.8h-2.2" stroke="#000" stroke-width="1.3" fill="none"/><rect x="556.8" y="661.1" width="135.2" height="215.9" fill="none" stroke="#000" stroke-width="1.6"/><text x="559.3" y="902.5" text-anchor="middle">0.0</text><text x="598.3" y="902.5" text-anchor="middle">0.3</text><text x="637.4" y="902.5" text-anchor="middle">0.6</text><text x="676.4" y="902.5" text-anchor="middle">0.9</text><text x="547.8" y="861.5" text-anchor="end">200</text><text x="547.8" y="817.4" text-anchor="end">300</text><text x="547.8" y="773.4" text-anchor="end">400</text><text x="547.8" y="729.3" text-anchor="end">500</text><text x="547.8" y="685.2" text-anchor="end">600</text><text transform="translate(493.0,778.4) rotate(-90)" text-anchor="middle" font-size="18">N<tspan dy="5.1" font-size="12.4">2</tspan><tspan dy="-5.1"> adsorbed (cm<tspan dy="-7.6" font-size="12.4">3</tspan><tspan dy="7.6"> g<tspan dy="-7.6" font-size="12.4">−1</tspan><tspan dy="7.6"> STP)</tspan></tspan></tspan></text><text x="602.5" y="932.5" text-anchor="start" font-size="18"><tspan font-style="italic">P/P</tspan><tspan dy="5.5" font-size="12.4">O</tspan></text><text x="469.9" y="658.3" font-weight="bold" font-size="27">k</text><g clip-path="url(#ck)"><path d="M610.5 804.5 L616.9 798.6 L623.0 792.2 L627.6 786.6 L630.6 782.1 L633.7 777.0 L636.7 771.0 L639.6 764.3 L642.2 756.5 L643.6 749.8" fill="none" stroke="#ee0000" stroke-width="0.8" stroke-dasharray="2.5,1.5"/><circle cx="559.1" cy="864.3" r="3.2" fill="url(#sg)"/><circle cx="559.2" cy="861.3" r="3.2" fill="url(#sg)"/><circle cx="559.4" cy="858.3" r="3.2" fill="url(#sg)"/><circle cx="559.8" cy="855.3" r="3.2" fill="url(#sg)"/><circle cx="560.2" cy="852.4" r="3.2" fill="url(#sg)"/><circle cx="561.0" cy="849.5" r="3.2" fill="url(#sg)"/><circle cx="562.0" cy="846.7" r="3.2" fill="url(#sg)"/><circle cx="563.7" cy="844.2" r="3.2" fill="url(#sg)"/><circle cx="565.4" cy="841.7" r="3.2" fill="url(#sg)"/><circle cx="567.7" cy="839.8" r="3.2" fill="url(#sg)"/><circle cx="570.0" cy="837.8" r="3.2" fill="url(#sg)"/><circle cx="572.3" cy="835.9" r="3.2" fill="url(#sg)"/><circle cx="574.6" cy="834.0" r="3.2" fill="url(#sg)"/><circle cx="576.9" cy="832.0" r="3.2" fill="url(#sg)"/><circle cx="579.2" cy="830.1" r="3.2" fill="url(#sg)"/><circle cx="581.5" cy="828.2" r="3.2" fill="url(#sg)"/><circle cx="583.8" cy="826.3" r="3.2" fill="url(#sg)"/><circle cx="586.1" cy="824.3" r="3.2" fill="url(#sg)"/><circle cx="588.4" cy="822.4" r="3.2" fill="url(#sg)"/><circle cx="590.7" cy="820.5" r="3.2" fill="url(#sg)"/><circle cx="593.0" cy="818.6" r="3.2" fill="url(#sg)"/><circle cx="595.3" cy="816.7" r="3.2" fill="url(#sg)"/><circle cx="597.6" cy="814.8" r="3.2" fill="url(#sg)"/><circle cx="600.0" cy="813.0" r="3.2" fill="url(#sg)"/><circle cx="602.4" cy="811.1" r="3.2" fill="url(#sg)"/><circle cx="604.7" cy="809.2" r="3.2" fill="url(#sg)"/><circle cx="607.0" cy="807.3" r="3.2" fill="url(#sg)"/><circle cx="609.4" cy="805.4" r="3.2" fill="url(#sg)"/><g fill="#fff" fill-opacity="0.8"><circle cx="558.3" cy="863.3" r="1.1"/><circle cx="558.4" cy="860.3" r="1.1"/><circle cx="558.6" cy="857.3" r="1.1"/><circle cx="559.0" cy="854.3" r="1.1"/><circle cx="559.4" cy="851.4" r="1.1"/><circle cx="560.2" cy="848.5" r="1.1"/><circle cx="561.2" cy="845.7" r="1.1"/><circle cx="562.9" cy="843.2" r="1.1"/><circle cx="564.6" cy="840.7" r="1.1"/><circle cx="566.9" cy="838.8" r="1.1"/><circle cx="569.2" cy="836.8" r="1.1"/><circle cx="571.5" cy="834.9" r="1.1"/><circle cx="573.8" cy="833.0" r="1.1"/><circle cx="576.1" cy="831.0" r="1.1"/><circle cx="578.4" cy="829.1" r="1.1"/><circle cx="580.7" cy="827.2" r="1.1"/><circle cx="583.0" cy="825.3" r="1.1"/><circle cx="585.3" cy="823.3" r="1.1"/><circle cx="587.6" cy="821.4" r="1.1"/><circle cx="589.9" cy="819.5" r="1.1"/><circle cx="592.2" cy="817.6" r="1.1"/><circle cx="594.5" cy="815.7" r="1.1"/><circle cx="596.8" cy="813.8" r="1.1"/><circle cx="599.2" cy="812.0" r="1.1"/><circle cx="601.6" cy="810.1" r="1.1"/><circle cx="603.9" cy="808.2" r="1.1"/><circle cx="606.2" cy="806.3" r="1.1"/><circle cx="608.6" cy="804.4" r="1.1"/></g><circle cx="616.9" cy="798.6" r="3.2" fill="url(#sg)"/><circle cx="623.0" cy="792.2" r="3.2" fill="url(#sg)"/><circle cx="627.6" cy="786.6" r="3.2" fill="url(#sg)"/><circle cx="630.6" cy="782.1" r="3.2" fill="url(#sg)"/><circle cx="633.7" cy="777.0" r="3.2" fill="url(#sg)"/><circle cx="636.7" cy="771.0" r="3.2" fill="url(#sg)"/><circle cx="639.6" cy="764.3" r="3.2" fill="url(#sg)"/><circle cx="642.2" cy="756.5" r="3.2" fill="url(#sg)"/><circle cx="643.6" cy="749.8" r="3.2" fill="url(#sg)"/><circle cx="644.1" cy="747.1" r="3.2" fill="url(#sg)"/><circle cx="644.7" cy="744.3" r="3.2" fill="url(#sg)"/><circle cx="645.2" cy="741.6" r="3.2" fill="url(#sg)"/><circle cx="645.8" cy="738.8" r="3.2" fill="url(#sg)"/><circle cx="646.4" cy="736.1" r="3.2" fill="url(#sg)"/><circle cx="647.0" cy="733.3" r="3.2" fill="url(#sg)"/><circle cx="647.6" cy="730.6" r="3.2" fill="url(#sg)"/><circle cx="648.2" cy="727.9" r="3.2" fill="url(#sg)"/><circle cx="648.8" cy="725.1" r="3.2" fill="url(#sg)"/><circle cx="649.4" cy="722.4" r="3.2" fill="url(#sg)"/><circle cx="650.0" cy="719.7" r="3.2" fill="url(#sg)"/><circle cx="650.6" cy="716.9" r="3.2" fill="url(#sg)"/><circle cx="651.1" cy="714.2" r="3.2" fill="url(#sg)"/><circle cx="651.7" cy="711.5" r="3.2" fill="url(#sg)"/><circle cx="652.4" cy="708.7" r="3.2" fill="url(#sg)"/><circle cx="653.2" cy="706.0" r="3.2" fill="url(#sg)"/><circle cx="653.9" cy="703.4" r="3.2" fill="url(#sg)"/><circle cx="654.7" cy="700.7" r="3.2" fill="url(#sg)"/><circle cx="655.9" cy="698.1" r="3.2" fill="url(#sg)"/><circle cx="657.3" cy="695.7" r="3.2" fill="url(#sg)"/><circle cx="658.8" cy="693.4" r="3.2" fill="url(#sg)"/><circle cx="660.6" cy="691.4" r="3.2" fill="url(#sg)"/><circle cx="663.0" cy="689.9" r="3.2" fill="url(#sg)"/><circle cx="665.4" cy="688.5" r="3.2" fill="url(#sg)"/><circle cx="667.9" cy="687.1" r="3.2" fill="url(#sg)"/><circle cx="670.5" cy="686.1" r="3.2" fill="url(#sg)"/><circle cx="673.1" cy="685.1" r="3.2" fill="url(#sg)"/><circle cx="675.6" cy="683.9" r="3.2" fill="url(#sg)"/><circle cx="677.9" cy="682.3" r="3.2" fill="url(#sg)"/><circle cx="680.1" cy="680.5" r="3.2" fill="url(#sg)"/><circle cx="681.9" cy="678.4" r="3.2" fill="url(#sg)"/><circle cx="683.8" cy="676.3" r="3.2" fill="url(#sg)"/><circle cx="685.7" cy="674.3" r="3.2" fill="url(#sg)"/><circle cx="687.8" cy="672.5" r="3.2" fill="url(#sg)"/><circle cx="689.9" cy="670.6" r="3.2" fill="url(#sg)"/><circle cx="692.1" cy="668.8" r="3.2" fill="url(#sg)"/><g fill="#fff" fill-opacity="0.8"><circle cx="642.8" cy="748.8" r="1.1"/><circle cx="643.3" cy="746.1" r="1.1"/><circle cx="643.9" cy="743.3" r="1.1"/><circle cx="644.4" cy="740.6" r="1.1"/><circle cx="645.0" cy="737.8" r="1.1"/><circle cx="645.6" cy="735.1" r="1.1"/><circle cx="646.2" cy="732.3" r="1.1"/><circle cx="646.8" cy="729.6" r="1.1"/><circle cx="647.4" cy="726.9" r="1.1"/><circle cx="648.0" cy="724.1" r="1.1"/><circle cx="648.6" cy="721.4" r="1.1"/><circle cx="649.2" cy="718.7" r="1.1"/><circle cx="649.8" cy="715.9" r="1.1"/><circle cx="650.3" cy="713.2" r="1.1"/><circle cx="650.9" cy="710.5" r="1.1"/><circle cx="651.6" cy="707.7" r="1.1"/><circle cx="652.4" cy="705.0" r="1.1"/><circle cx="653.1" cy="702.4" r="1.1"/><circle cx="653.9" cy="699.7" r="1.1"/><circle cx="655.1" cy="697.1" r="1.1"/><circle cx="656.5" cy="694.7" r="1.1"/><circle cx="658.0" cy="692.4" r="1.1"/><circle cx="659.8" cy="690.4" r="1.1"/><circle cx="662.2" cy="688.9" r="1.1"/><circle cx="664.6" cy="687.5" r="1.1"/><circle cx="667.1" cy="686.1" r="1.1"/><circle cx="669.7" cy="685.1" r="1.1"/><circle cx="672.3" cy="684.1" r="1.1"/><circle cx="674.8" cy="682.9" r="1.1"/><circle cx="677.1" cy="681.3" r="1.1"/><circle cx="679.3" cy="679.5" r="1.1"/><circle cx="681.1" cy="677.4" r="1.1"/><circle cx="683.0" cy="675.3" r="1.1"/><circle cx="684.9" cy="673.3" r="1.1"/><circle cx="687.0" cy="671.5" r="1.1"/><circle cx="689.1" cy="669.6" r="1.1"/><circle cx="691.3" cy="667.8" r="1.1"/></g><polygon points="559.1,848.6 559.9,850.8 562.3,850.9 560.5,852.4 561.1,854.8 559.1,853.4 557.1,854.8 557.7,852.4 555.9,850.9 558.3,850.8" fill="#000"/><polygon points="559.6,845.6 560.5,847.9 562.9,848.0 561.0,849.5 561.6,851.8 559.6,850.5 557.6,851.8 558.3,849.5 556.4,848.0 558.8,847.9" fill="#000"/><polygon points="560.4,842.8 561.2,845.0 563.6,845.1 561.7,846.6 562.4,848.9 560.4,847.6 558.4,848.9 559.0,846.6 557.1,845.1 559.5,845.0" fill="#000"/><polygon points="561.6,840.0 562.4,842.3 564.8,842.4 563.0,843.9 563.6,846.2 561.6,844.8 559.6,846.2 560.2,843.9 558.4,842.4 560.8,842.3" fill="#000"/><polygon points="563.2,837.5 564.1,839.8 566.5,839.9 564.6,841.4 565.2,843.7 563.2,842.4 561.2,843.7 561.9,841.4 560.0,839.9 562.4,839.8" fill="#000"/><polygon points="565.1,835.2 566.0,837.4 568.4,837.5 566.5,839.0 567.1,841.4 565.1,840.0 563.1,841.4 563.8,839.0 561.9,837.5 564.3,837.4" fill="#000"/><polygon points="567.3,833.2 568.2,835.4 570.6,835.5 568.7,837.0 569.3,839.3 567.3,838.0 565.3,839.3 566.0,837.0 564.1,835.5 566.5,835.4" fill="#000"/><polygon points="569.6,831.3 570.5,833.5 572.9,833.6 571.0,835.1 571.6,837.4 569.6,836.1 567.6,837.4 568.3,835.1 566.4,833.6 568.8,833.5" fill="#000"/><polygon points="572.0,829.4 572.8,831.6 575.2,831.7 573.3,833.2 574.0,835.5 572.0,834.2 570.0,835.5 570.6,833.2 568.7,831.7 571.1,831.6" fill="#000"/><polygon points="574.3,827.5 575.1,829.7 577.5,829.8 575.6,831.3 576.3,833.6 574.3,832.3 572.3,833.6 572.9,831.3 571.0,829.8 573.4,829.7" fill="#000"/><polygon points="576.6,825.6 577.4,827.8 579.8,827.9 577.9,829.4 578.6,831.7 576.6,830.4 574.6,831.7 575.2,829.4 573.4,827.9 575.8,827.8" fill="#000"/><polygon points="578.9,823.6 579.7,825.9 582.1,826.0 580.3,827.5 580.9,829.8 578.9,828.5 576.9,829.8 577.5,827.5 575.7,826.0 578.1,825.9" fill="#000"/><polygon points="581.2,821.7 582.0,824.0 584.4,824.1 582.6,825.6 583.2,827.9 581.2,826.5 579.2,827.9 579.8,825.6 578.0,824.1 580.4,824.0" fill="#000"/><polygon points="583.5,819.8 584.3,822.0 586.7,822.1 584.9,823.6 585.5,825.9 583.5,824.6 581.5,825.9 582.1,823.6 580.3,822.1 582.7,822.0" fill="#000"/><polygon points="585.8,817.9 586.6,820.1 589.0,820.2 587.2,821.7 587.8,824.0 585.8,822.7 583.8,824.0 584.4,821.7 582.6,820.2 585.0,820.1" fill="#000"/><polygon points="588.1,815.9 588.9,818.2 591.3,818.3 589.5,819.8 590.1,822.1 588.1,820.8 586.1,822.1 586.7,819.8 584.9,818.3 587.3,818.2" fill="#000"/><polygon points="590.4,814.0 591.2,816.2 593.6,816.4 591.8,817.8 592.4,820.2 590.4,818.8 588.4,820.2 589.0,817.8 587.2,816.4 589.6,816.2" fill="#000"/><polygon points="592.7,812.1 593.5,814.3 595.9,814.4 594.0,815.9 594.7,818.2 592.7,816.9 590.7,818.2 591.3,815.9 589.5,814.4 591.8,814.3" fill="#000"/><polygon points="595.0,810.2 595.8,812.4 598.2,812.5 596.4,814.0 597.0,816.3 595.0,815.0 593.0,816.3 593.6,814.0 591.8,812.5 594.2,812.4" fill="#000"/><polygon points="597.3,808.3 598.2,810.5 600.6,810.6 598.7,812.1 599.3,814.4 597.3,813.1 595.3,814.4 596.0,812.1 594.1,810.6 596.5,810.5" fill="#000"/><polygon points="599.7,806.4 600.5,808.6 602.9,808.8 601.0,810.2 601.7,812.6 599.7,811.2 597.7,812.6 598.3,810.2 596.4,808.8 598.8,808.6" fill="#000"/><polygon points="602.0,804.5 602.9,806.8 605.3,806.9 603.4,808.4 604.0,810.7 602.0,809.4 600.0,810.7 600.7,808.4 598.8,806.9 601.2,806.8" fill="#000"/><polygon points="604.4,802.7 605.2,804.9 607.6,805.0 605.7,806.5 606.4,808.8 604.4,807.5 602.4,808.8 603.0,806.5 601.1,805.0 603.5,804.9" fill="#000"/><polygon points="642.8,683.9 643.7,686.2 646.1,686.3 644.2,687.9 644.9,690.2 642.8,688.9 640.7,690.2 641.4,687.9 639.5,686.3 641.9,686.2" fill="#000"/><polygon points="643.9,681.8 644.7,684.1 647.2,684.2 645.3,685.7 645.9,688.1 643.9,686.7 641.8,688.1 642.5,685.7 640.5,684.2 643.0,684.1" fill="#000"/><polygon points="644.9,679.6 645.8,681.9 648.3,682.0 646.3,683.6 647.0,685.9 644.9,684.6 642.9,685.9 643.5,683.6 641.6,682.0 644.1,681.9" fill="#000"/><polygon points="646.9,678.3 647.8,680.6 650.2,680.7 648.3,682.2 648.9,684.6 646.9,683.3 644.8,684.6 645.5,682.2 643.6,680.7 646.0,680.6" fill="#000"/><polygon points="649.0,677.1 649.8,679.4 652.3,679.5 650.4,681.1 651.0,683.4 649.0,682.1 646.9,683.4 647.6,681.1 645.7,679.5 648.1,679.4" fill="#000"/><polygon points="651.1,676.1 652.0,678.4 654.5,678.5 652.5,680.1 653.2,682.4 651.1,681.1 649.1,682.4 649.7,680.1 647.8,678.5 650.3,678.4" fill="#000"/><polygon points="653.5,675.5 654.3,677.8 656.8,678.0 654.9,679.5 655.5,681.9 653.5,680.5 651.4,681.9 652.1,679.5 650.1,678.0 652.6,677.8" fill="#000"/><polygon points="655.8,674.9 656.7,677.3 659.1,677.4 657.2,678.9 657.9,681.3 655.8,679.9 653.7,681.3 654.4,678.9 652.5,677.4 654.9,677.3" fill="#000"/><polygon points="658.1,674.4 659.0,676.7 661.5,676.8 659.5,678.3 660.2,680.7 658.1,679.3 656.1,680.7 656.7,678.3 654.8,676.8 657.3,676.7" fill="#000"/><polygon points="660.5,673.8 661.3,676.1 663.8,676.2 661.9,677.7 662.5,680.1 660.5,678.8 658.4,680.1 659.1,677.7 657.1,676.2 659.6,676.1" fill="#000"/><polygon points="662.8,673.2 663.7,675.5 666.1,675.6 664.2,677.2 664.8,679.5 662.8,678.2 660.7,679.5 661.4,677.2 659.5,675.6 661.9,675.5" fill="#000"/><polygon points="665.1,672.6 666.0,674.9 668.4,675.1 666.5,676.6 667.2,679.0 665.1,677.6 663.1,679.0 663.7,676.6 661.8,675.1 664.3,674.9" fill="#000"/><polygon points="667.4,672.1 668.3,674.4 670.8,674.5 668.8,676.0 669.5,678.4 667.4,677.0 665.4,678.4 666.0,676.0 664.1,674.5 666.6,674.4" fill="#000"/><polygon points="669.8,671.5 670.6,673.8 673.1,673.9 671.2,675.4 671.8,677.8 669.8,676.4 667.7,677.8 668.4,675.4 666.4,673.9 668.9,673.8" fill="#000"/><polygon points="672.1,670.9 673.0,673.2 675.4,673.3 673.5,674.8 674.2,677.2 672.1,675.9 670.0,677.2 670.7,674.8 668.8,673.3 671.2,673.2" fill="#000"/><polygon points="674.4,670.2 675.3,672.5 677.7,672.6 675.8,674.2 676.5,676.5 674.4,675.2 672.3,676.5 673.0,674.2 671.1,672.6 673.5,672.5" fill="#000"/><polygon points="676.7,669.5 677.6,671.9 680.0,672.0 678.1,673.5 678.8,675.9 676.7,674.5 674.7,675.9 675.3,673.5 673.4,672.0 675.8,671.9" fill="#000"/><polygon points="679.0,668.9 679.9,671.2 682.3,671.3 680.4,672.8 681.1,675.2 679.0,673.9 677.0,675.2 677.6,672.8 675.7,671.3 678.2,671.2" fill="#000"/><polygon points="681.3,668.2 682.2,670.5 684.7,670.6 682.7,672.2 683.4,674.5 681.3,673.2 679.3,674.5 679.9,672.2 678.0,670.6 680.5,670.5" fill="#000"/><polygon points="683.6,667.5 684.5,669.8 686.9,669.9 685.0,671.4 685.7,673.8 683.6,672.4 681.5,673.8 682.2,671.4 680.3,669.9 682.7,669.8" fill="#000"/><polygon points="685.9,666.7 686.7,669.0 689.2,669.1 687.3,670.6 687.9,673.0 685.9,671.6 683.8,673.0 684.5,670.6 682.5,669.1 685.0,669.0" fill="#000"/><polygon points="688.1,665.9 689.0,668.2 691.5,668.3 689.5,669.8 690.2,672.2 688.1,670.8 686.1,672.2 686.7,669.8 684.8,668.3 687.3,668.2" fill="#000"/><polygon points="690.4,665.0 691.2,667.4 693.7,667.5 691.8,669.0 692.4,671.4 690.4,670.0 688.3,671.4 689.0,669.0 687.1,667.5 689.5,667.4" fill="#000"/><polygon points="692.7,664.4 693.6,666.7 696.0,666.8 694.1,668.3 694.7,670.7 692.7,669.4 690.6,670.7 691.3,668.3 689.4,666.8 691.8,666.7" fill="#000"/><path d="M605.7 804.5 L610.4 800.1 L615.7 794.8 L623.8 772.9 L627.3 766.6 L629.6 759.3 L631.9 749.8 L635.2 736.1 L637.5 718.6 L640.5 696.5 L642.8 687.4" fill="none" stroke="#000" stroke-width="0.8"/><polygon points="610.4,796.6 611.3,798.9 613.7,799.0 611.8,800.6 612.5,802.9 610.4,801.6 608.3,802.9 609.0,800.6 607.1,799.0 609.5,798.9" fill="#000"/><polygon points="615.7,791.3 616.6,793.6 619.0,793.7 617.1,795.3 617.8,797.6 615.7,796.3 613.6,797.6 614.3,795.3 612.4,793.7 614.8,793.6" fill="#000"/><polygon points="623.8,769.4 624.7,771.7 627.1,771.8 625.2,773.4 625.9,775.7 623.8,774.4 621.7,775.7 622.4,773.4 620.5,771.8 622.9,771.7" fill="#000"/><polygon points="627.3,763.1 628.2,765.4 630.6,765.5 628.7,767.1 629.4,769.4 627.3,768.1 625.2,769.4 625.9,767.1 624.0,765.5 626.4,765.4" fill="#000"/><polygon points="629.6,755.8 630.5,758.1 632.9,758.2 631.0,759.8 631.7,762.1 629.6,760.8 627.5,762.1 628.2,759.8 626.3,758.2 628.7,758.1" fill="#000"/><polygon points="631.9,746.3 632.8,748.6 635.2,748.7 633.3,750.3 634.0,752.6 631.9,751.3 629.8,752.6 630.5,750.3 628.6,748.7 631.0,748.6" fill="#000"/><polygon points="635.2,732.6 636.1,734.9 638.5,735.0 636.6,736.6 637.3,738.9 635.2,737.6 633.1,738.9 633.8,736.6 631.9,735.0 634.3,734.9" fill="#000"/><polygon points="637.5,715.1 638.4,717.4 640.8,717.5 638.9,719.1 639.6,721.4 637.5,720.1 635.4,721.4 636.1,719.1 634.2,717.5 636.6,717.4" fill="#000"/><polygon points="640.5,693.0 641.4,695.3 643.8,695.4 641.9,697.0 642.6,699.3 640.5,698.0 638.4,699.3 639.1,697.0 637.2,695.4 639.6,695.3" fill="#000"/></g><path d="M797.6 877.2v4.0M797.6 660.1v4.0M831.6 877.2v4.0M831.6 660.1v4.0M865.7 877.2v4.0M865.7 660.1v4.0M899.7 877.2v4.0M899.7 660.1v4.0M933.7 877.2v4.0M933.7 660.1v4.0M814.6 877.2v2.2M814.6 660.1v2.2M848.6 877.2v2.2M848.6 660.1v2.2M882.7 877.2v2.2M882.7 660.1v2.2M916.7 877.2v2.2M916.7 660.1v2.2M797.6 871.7h-4.0M933.7 871.7h-4.0M797.6 827.1h-4.0M933.7 827.1h-4.0M797.6 782.5h-4.0M933.7 782.5h-4.0M797.6 738.0h-4.0M933.7 738.0h-4.0M797.6 693.4h-4.0M933.7 693.4h-4.0M797.6 849.4h-2.2M933.7 849.4h-2.2M797.6 804.8h-2.2M933.7 804.8h-2.2M797.6 760.3h-2.2M933.7 760.3h-2.2M797.6 715.7h-2.2M933.7 715.7h-2.2M797.6 671.1h-2.2M933.7 671.1h-2.2" stroke="#000" stroke-width="1.3" fill="none"/><rect x="797.6" y="660.1" width="136.1" height="217.1" fill="none" stroke="#000" stroke-width="1.6"/><text x="797.6" y="902.7" text-anchor="middle">2</text><text x="831.6" y="902.7" text-anchor="middle">6</text><text x="865.7" y="902.7" text-anchor="middle">10</text><text x="899.7" y="902.7" text-anchor="middle">14</text><text x="933.7" y="902.7" text-anchor="middle">18</text><text x="788.6" y="878.1" text-anchor="end">0.00</text><text x="788.6" y="833.5" text-anchor="end">0.04</text><text x="788.6" y="788.9" text-anchor="end">0.08</text><text x="788.6" y="744.4" text-anchor="end">0.12</text><text x="788.6" y="699.8" text-anchor="end">0.16</text><text transform="translate(732.7,777.6) rotate(-90)" text-anchor="middle" font-size="18">d<tspan font-style="italic">V</tspan>/d<tspan font-style="italic">w</tspan> (cm<tspan dy="-7.6" font-size="12.4">3</tspan><tspan dy="7.6"> g<tspan dy="-7.6" font-size="12.4">−1</tspan><tspan dy="7.6"> nm<tspan dy="-7.6" font-size="12.4">−1</tspan><tspan dy="7.6">)</tspan></tspan></tspan></text><text x="864.0" y="932.5" text-anchor="middle" font-size="18">Pore width (nm)</text><text x="717.4" y="658.3" font-weight="bold" font-size="27">l</text><g clip-path="url(#cl)"><path d="M797.8 740.6 L798.5 767.0 L798.5 774.4 L799.2 794.3 L799.7 804.8 L800.1 811.8 L801.5 818.8 L803.2 824.6 L805.5 827.0 L807.8 825.8 L810.2 823.5 L813.2 818.8 L816.0 813.0 L818.8 807.1 L820.7 800.1 L823.0 791.9 L825.4 780.3 L828.2 763.9 L830.5 743.6 L832.8 721.9 L835.2 699.7 L836.6 688.5 L838.2 682.2 L839.4 678.2 L841.7 679.9 L842.9 687.6 L844.0 694.6 L844.7 702.0 L845.9 711.4 L846.8 722.6 L848.2 734.3 L849.2 747.6 L850.3 760.9 L851.5 774.0 L852.7 787.3 L853.9 799.7 L855.0 810.6 L856.4 821.1 L857.6 831.2 L859.2 839.4 L860.9 845.7 L862.3 851.0 L863.9 855.7 L866.2 859.7 L869.7 862.7 L874.4 865.0 L879.1 866.4 L883.7 867.2 L888.4 867.8 L891.9 867.8 L896.6 868.3 L903.6 868.5 L911.8 868.5 L921.1 868.8 L934.0 869.0" fill="none" stroke="#ee0000" stroke-width="0.9"/><circle cx="797.8" cy="740.6" r="3.2" fill="url(#sg)"/><circle cx="798.5" cy="767.0" r="3.2" fill="url(#sg)"/><circle cx="798.5" cy="774.4" r="3.2" fill="url(#sg)"/><circle cx="799.2" cy="794.3" r="3.2" fill="url(#sg)"/><circle cx="799.7" cy="804.8" r="3.2" fill="url(#sg)"/><circle cx="800.1" cy="811.8" r="3.2" fill="url(#sg)"/><circle cx="801.5" cy="818.8" r="3.2" fill="url(#sg)"/><circle cx="803.2" cy="824.6" r="3.2" fill="url(#sg)"/><circle cx="805.5" cy="827.0" r="3.2" fill="url(#sg)"/><circle cx="807.8" cy="825.8" r="3.2" fill="url(#sg)"/><circle cx="810.2" cy="823.5" r="3.2" fill="url(#sg)"/><circle cx="813.2" cy="818.8" r="3.2" fill="url(#sg)"/><circle cx="816.0" cy="813.0" r="3.2" fill="url(#sg)"/><circle cx="818.8" cy="807.1" r="3.2" fill="url(#sg)"/><circle cx="820.7" cy="800.1" r="3.2" fill="url(#sg)"/><circle cx="823.0" cy="791.9" r="3.2" fill="url(#sg)"/><circle cx="825.4" cy="780.3" r="3.2" fill="url(#sg)"/><circle cx="828.2" cy="763.9" r="3.2" fill="url(#sg)"/><circle cx="830.5" cy="743.6" r="3.2" fill="url(#sg)"/><circle cx="832.8" cy="721.9" r="3.2" fill="url(#sg)"/><circle cx="835.2" cy="699.7" r="3.2" fill="url(#sg)"/><circle cx="836.6" cy="688.5" r="3.2" fill="url(#sg)"/><circle cx="838.2" cy="682.2" r="3.2" fill="url(#sg)"/><circle cx="839.4" cy="678.2" r="3.2" fill="url(#sg)"/><circle cx="841.7" cy="679.9" r="3.2" fill="url(#sg)"/><circle cx="842.9" cy="687.6" r="3.2" fill="url(#sg)"/><circle cx="844.0" cy="694.6" r="3.2" fill="url(#sg)"/><circle cx="844.7" cy="702.0" r="3.2" fill="url(#sg)"/><circle cx="845.9" cy="711.4" r="3.2" fill="url(#sg)"/><circle cx="846.8" cy="722.6" r="3.2" fill="url(#sg)"/><circle cx="848.2" cy="734.3" r="3.2" fill="url(#sg)"/><circle cx="849.2" cy="747.6" r="3.2" fill="url(#sg)"/><circle cx="850.3" cy="760.9" r="3.2" fill="url(#sg)"/><circle cx="851.5" cy="774.0" r="3.2" fill="url(#sg)"/><circle cx="852.7" cy="787.3" r="3.2" fill="url(#sg)"/><circle cx="853.9" cy="799.7" r="3.2" fill="url(#sg)"/><circle cx="855.0" cy="810.6" r="3.2" fill="url(#sg)"/><circle cx="856.4" cy="821.1" r="3.2" fill="url(#sg)"/><circle cx="857.6" cy="831.2" r="3.2" fill="url(#sg)"/><circle cx="859.2" cy="839.4" r="3.2" fill="url(#sg)"/><circle cx="860.9" cy="845.7" r="3.2" fill="url(#sg)"/><circle cx="862.3" cy="851.0" r="3.2" fill="url(#sg)"/><circle cx="863.9" cy="855.7" r="3.2" fill="url(#sg)"/><circle cx="866.2" cy="859.7" r="3.2" fill="url(#sg)"/><circle cx="869.7" cy="862.7" r="3.2" fill="url(#sg)"/><circle cx="874.4" cy="865.0" r="3.2" fill="url(#sg)"/><circle cx="879.1" cy="866.4" r="3.2" fill="url(#sg)"/><circle cx="883.7" cy="867.2" r="3.2" fill="url(#sg)"/><circle cx="888.4" cy="867.8" r="3.2" fill="url(#sg)"/><circle cx="891.9" cy="867.8" r="3.2" fill="url(#sg)"/><circle cx="896.6" cy="868.3" r="3.2" fill="url(#sg)"/><circle cx="903.6" cy="868.5" r="3.2" fill="url(#sg)"/><circle cx="911.8" cy="868.5" r="3.2" fill="url(#sg)"/><circle cx="921.1" cy="868.8" r="3.2" fill="url(#sg)"/><circle cx="800.5" cy="815.5" r="3.2" fill="url(#sg)"/><circle cx="802.3" cy="821.8" r="3.2" fill="url(#sg)"/><circle cx="804.3" cy="826.2" r="3.2" fill="url(#sg)"/><circle cx="806.6" cy="826.8" r="3.2" fill="url(#sg)"/><circle cx="809.0" cy="824.8" r="3.2" fill="url(#sg)"/><circle cx="811.7" cy="821.3" r="3.2" fill="url(#sg)"/><circle cx="814.6" cy="816.0" r="3.2" fill="url(#sg)"/><circle cx="817.4" cy="810.1" r="3.2" fill="url(#sg)"/><circle cx="838.8" cy="680.0" r="3.2" fill="url(#sg)"/><circle cx="840.5" cy="678.5" r="3.2" fill="url(#sg)"/><circle cx="864.8" cy="857.9" r="3.2" fill="url(#sg)"/><circle cx="868.0" cy="861.3" r="3.2" fill="url(#sg)"/><circle cx="871.8" cy="864.0" r="3.2" fill="url(#sg)"/><circle cx="876.7" cy="865.8" r="3.2" fill="url(#sg)"/><circle cx="881.4" cy="866.8" r="3.2" fill="url(#sg)"/><circle cx="886.0" cy="867.5" r="3.2" fill="url(#sg)"/></g>
</svg>
</body></html>
